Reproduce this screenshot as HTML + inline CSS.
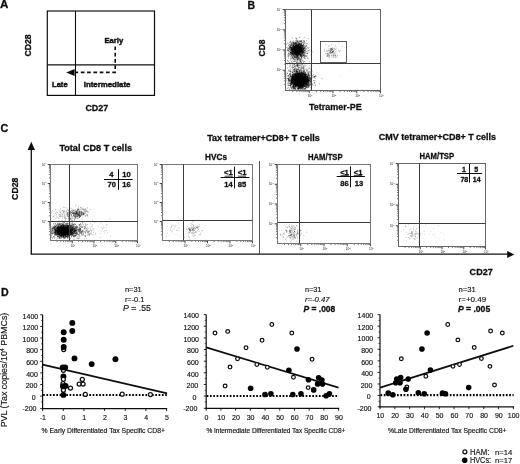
<!DOCTYPE html>
<html><head><meta charset="utf-8"><title>Figure</title>
<style>
html,body{margin:0;padding:0;background:#fff;}
body{width:520px;height:464px;overflow:hidden;font-family:"Liberation Sans",sans-serif;}
svg{display:block;font-family:"Liberation Sans",sans-serif;will-change:transform;transform:translateZ(0);}
text{fill:#111;}
</style></head><body>
<svg width="520" height="464" viewBox="0 0 520 464">
<defs><filter id="soft" x="0" y="0" width="520" height="464" filterUnits="userSpaceOnUse"><feGaussianBlur stdDeviation="0.35"/></filter></defs>
<g filter="url(#soft)">
<rect x="-5" y="-5" width="530" height="474" fill="#fff"/>
<text x="0.10" y="8.30" font-size="11.6" font-weight="bold" stroke="#111" stroke-width="0.3">A</text>
<rect x="47.30" y="11.00" width="107.20" height="84.40" fill="none" stroke="#111" stroke-width="1.2"/>
<line x1="75.50" y1="11.00" x2="75.50" y2="95.40" stroke="#111" stroke-width="1.1"/>
<line x1="47.30" y1="64.90" x2="154.50" y2="64.90" stroke="#111" stroke-width="1.1"/>
<text x="104.40" y="42.90" font-size="8.0" font-weight="bold" textLength="18.80" lengthAdjust="spacingAndGlyphs" stroke="#111" stroke-width="0.45">Early</text>
<text x="52.00" y="87.40" font-size="8.0" font-weight="bold" textLength="15.60" lengthAdjust="spacingAndGlyphs" stroke="#111" stroke-width="0.45">Late</text>
<text x="83.80" y="87.40" font-size="8.0" font-weight="bold" textLength="46.60" lengthAdjust="spacingAndGlyphs" stroke="#111" stroke-width="0.45">Intermediate</text>
<text x="85.40" y="110.80" font-size="9.4" font-weight="bold" textLength="22.80" lengthAdjust="spacingAndGlyphs" stroke="#111" stroke-width="0.3">CD27</text>
<text x="31.50" y="56.60" font-size="9.4" font-weight="bold" textLength="22.30" lengthAdjust="spacingAndGlyphs" transform="rotate(-90 31.50 56.60)" stroke="#111" stroke-width="0.3">CD28</text>
<path d="M115.2 46.4 V72.4 H75.8" fill="none" stroke="#111" stroke-width="1.6" stroke-dasharray="3.7 2.6"/>
<path d="M66.2 72.5 L74.6 69.0 L74.6 76.0 Z" fill="#111"/>
<text x="247.60" y="8.80" font-size="10.4" font-weight="bold" stroke="#111" stroke-width="0.3">B</text>
<path d="M295.7 51.3h0.8M295.8 48.6h0.8M293.4 48.9h0.8M300.4 51.0h0.8M300.1 50.4h0.8M297.9 50.2h0.8M290.9 52.4h0.8M298.3 51.2h0.8M290.8 43.8h0.8M293.6 48.1h0.8M297.6 49.4h0.8M298.4 47.5h0.8M297.6 50.9h0.8M294.4 55.3h0.8M298.5 53.6h0.8M294.5 47.2h0.8M295.4 49.2h0.8M298.7 50.4h0.8M295.1 46.4h0.8M294.8 53.6h0.8M293.9 50.4h0.8M298.1 44.7h0.8M296.8 53.9h0.8M289.8 48.5h0.8M296.2 46.9h0.8M298.3 49.4h0.8M291.6 52.3h0.8M298.9 52.7h0.8M301.5 50.8h0.8M297.0 45.3h0.8M298.7 47.6h0.8M295.1 45.4h0.8M293.3 47.8h0.8M301.0 42.9h0.8M291.6 50.4h0.8M301.5 51.5h0.8M290.1 41.3h0.8M297.8 47.2h0.8M292.8 52.8h0.8M300.3 50.1h0.8M297.4 51.0h0.8M302.0 51.6h0.8M298.4 51.4h0.8M291.3 53.8h0.8M299.8 51.3h0.8M289.9 47.5h0.8M299.5 43.6h0.8M296.0 53.0h0.8M292.1 54.9h0.8M298.5 49.1h0.8M297.7 51.7h0.8M297.0 53.4h0.8M294.4 48.2h0.8M300.1 49.7h0.8M293.6 52.7h0.8M301.6 48.1h0.8M291.9 49.2h0.8M296.1 48.6h0.8M301.4 46.2h0.8M300.9 45.4h0.8M293.9 51.7h0.8M300.4 52.4h0.8M297.8 50.1h0.8M297.1 51.5h0.8M296.0 50.5h0.8M298.5 49.6h0.8M299.2 51.5h0.8M303.4 50.7h0.8M295.1 48.4h0.8M296.6 52.6h0.8M295.5 50.9h0.8M302.8 41.1h0.8M292.8 50.4h0.8M298.0 50.4h0.8M295.1 51.8h0.8M297.6 47.9h0.8M304.9 50.8h0.8M294.7 49.3h0.8M295.8 49.4h0.8M287.3 48.0h0.8M300.0 45.7h0.8M296.4 52.7h0.8M299.5 54.5h0.8M290.8 48.4h0.8M295.4 51.7h0.8M300.3 40.7h0.8M300.3 44.8h0.8M298.9 44.7h0.8M297.2 53.5h0.8M296.1 50.2h0.8M299.3 50.1h0.8M296.3 54.7h0.8M300.2 48.6h0.8M305.9 45.8h0.8M299.7 48.7h0.8M297.1 51.9h0.8M297.4 51.7h0.8M291.4 44.6h0.8M298.7 46.4h0.8M293.1 44.7h0.8M300.9 52.1h0.8M301.6 46.5h0.8M296.6 45.8h0.8M299.2 54.8h0.8M293.6 54.7h0.8M300.0 49.0h0.8M289.9 54.2h0.8M296.3 47.6h0.8M298.0 51.0h0.8M301.7 46.2h0.8M300.5 54.5h0.8M301.5 49.0h0.8M294.1 53.0h0.8M297.0 50.0h0.8M301.4 48.7h0.8M288.8 48.3h0.8M290.3 52.3h0.8M297.7 47.6h0.8M296.6 52.3h0.8M296.9 54.0h0.8M296.4 53.0h0.8M301.7 54.9h0.8M294.3 52.5h0.8M290.2 46.0h0.8M289.9 53.1h0.8M292.4 49.6h0.8M295.9 49.5h0.8M294.6 50.4h0.8M302.7 49.7h0.8M298.4 52.9h0.8M295.9 45.4h0.8M294.7 53.1h0.8M291.0 47.6h0.8M300.0 52.2h0.8M296.6 52.3h0.8M297.2 45.7h0.8M291.3 47.5h0.8M299.7 47.7h0.8M293.5 47.1h0.8M291.4 49.2h0.8M292.6 50.8h0.8M288.6 50.7h0.8M294.4 43.2h0.8M299.1 48.7h0.8M289.0 46.7h0.8M297.6 48.1h0.8M299.3 52.1h0.8M298.9 50.7h0.8M301.1 51.8h0.8M298.1 42.7h0.8M299.6 53.9h0.8M295.6 48.1h0.8M303.2 43.8h0.8M298.2 57.6h0.8M293.4 51.9h0.8M303.0 49.2h0.8M298.5 52.6h0.8M293.5 49.3h0.8M297.6 52.3h0.8M296.5 49.0h0.8M293.1 48.4h0.8M299.6 49.9h0.8M293.7 46.8h0.8M305.7 53.4h0.8M298.8 41.0h0.8M298.7 51.2h0.8M302.3 51.0h0.8M296.4 51.3h0.8M290.0 53.0h0.8M297.7 47.3h0.8M301.1 55.6h0.8M291.8 47.4h0.8M297.6 50.2h0.8M295.2 46.4h0.8M303.8 53.0h0.8M292.5 45.2h0.8M302.4 52.9h0.8M302.8 52.3h0.8M293.6 50.5h0.8M289.3 47.1h0.8M296.4 51.3h0.8M294.1 49.2h0.8M298.2 50.8h0.8M298.8 50.3h0.8M295.5 52.2h0.8M296.8 46.9h0.8M294.5 49.6h0.8M296.2 50.1h0.8M296.6 50.2h0.8M296.1 45.4h0.8M298.0 53.1h0.8M298.1 49.0h0.8M298.1 46.4h0.8M290.2 49.8h0.8M293.4 52.0h0.8M292.9 40.9h0.8M293.1 54.8h0.8M295.3 45.1h0.8M294.0 51.3h0.8M298.3 50.2h0.8M301.6 51.9h0.8M296.5 51.6h0.8M302.2 52.8h0.8M300.1 46.0h0.8M296.1 52.0h0.8M295.6 53.1h0.8M298.6 52.6h0.8M295.9 58.0h0.8M300.8 48.9h0.8M296.9 58.2h0.8M295.4 52.5h0.8M299.9 49.6h0.8M292.6 50.2h0.8M297.8 53.3h0.8M299.3 49.7h0.8M299.5 51.4h0.8M297.3 49.8h0.8M295.8 51.9h0.8M293.0 47.5h0.8M296.6 44.8h0.8M295.1 43.0h0.8M294.3 51.5h0.8M298.5 49.4h0.8M295.8 44.9h0.8M302.8 51.3h0.8M300.3 46.7h0.8M296.0 43.6h0.8M299.3 52.7h0.8M290.1 49.4h0.8M298.7 43.8h0.8M290.4 46.1h0.8M294.5 45.0h0.8M296.7 50.4h0.8M298.8 51.9h0.8M301.7 53.4h0.8M292.1 47.9h0.8M293.0 46.0h0.8M296.3 49.6h0.8M298.3 44.4h0.8M292.4 49.5h0.8M295.9 48.6h0.8M296.4 47.1h0.8M299.0 50.8h0.8M296.3 47.4h0.8M296.0 40.6h0.8M293.3 49.7h0.8M291.5 50.3h0.8M297.1 45.1h0.8M295.7 48.6h0.8M298.2 51.6h0.8M296.5 46.8h0.8M296.1 49.4h0.8M299.1 50.6h0.8M294.1 45.1h0.8M295.3 47.2h0.8M292.8 49.2h0.8M294.9 49.9h0.8M298.4 48.2h0.8M304.5 48.5h0.8M300.3 50.0h0.8M300.4 41.8h0.8M294.0 50.4h0.8M298.6 57.3h0.8M297.7 53.8h0.8M299.2 52.7h0.8M298.3 49.1h0.8M298.3 46.0h0.8M300.6 46.2h0.8M297.4 56.6h0.8M295.8 49.7h0.8M300.6 49.7h0.8M293.9 50.5h0.8M298.6 51.9h0.8M294.0 55.4h0.8M302.3 49.7h0.8M297.5 48.2h0.8M301.4 47.3h0.8M298.9 48.0h0.8M294.2 52.0h0.8M301.1 49.6h0.8M294.3 52.3h0.8M296.4 50.6h0.8M301.8 53.3h0.8M294.8 57.1h0.8M296.6 52.2h0.8M294.4 49.5h0.8M290.7 55.5h0.8M301.2 45.6h0.8M291.5 44.3h0.8M300.6 48.1h0.8M296.4 48.6h0.8M296.2 46.0h0.8M296.7 44.9h0.8M296.4 50.6h0.8M298.2 48.8h0.8M293.5 50.1h0.8M295.0 54.8h0.8M299.2 49.2h0.8M295.0 47.3h0.8M293.4 48.4h0.8M297.6 51.3h0.8M298.5 56.5h0.8M294.2 49.6h0.8M306.1 43.4h0.8M294.8 50.2h0.8M297.1 50.9h0.8M295.8 50.8h0.8M296.8 52.1h0.8M290.2 46.7h0.8M296.6 46.2h0.8M293.0 51.7h0.8M294.4 51.7h0.8M299.1 50.6h0.8M298.3 49.3h0.8M291.8 49.5h0.8M298.1 47.9h0.8M296.3 52.1h0.8M293.6 51.7h0.8M302.9 47.8h0.8M297.1 49.1h0.8M301.8 50.6h0.8M299.7 47.3h0.8M296.5 49.6h0.8M290.6 54.4h0.8M299.7 43.8h0.8M299.1 49.2h0.8M298.1 50.8h0.8M291.5 48.9h0.8M301.7 47.7h0.8M293.1 45.1h0.8M292.4 50.7h0.8M302.4 51.0h0.8M297.4 57.0h0.8M294.8 47.4h0.8M298.4 51.4h0.8M293.1 45.7h0.8M297.6 50.4h0.8M292.2 48.9h0.8M294.8 51.1h0.8M296.2 49.3h0.8M295.4 53.1h0.8M301.3 48.4h0.8M299.5 47.1h0.8M296.8 52.1h0.8M301.7 48.3h0.8M296.3 50.2h0.8M291.5 49.7h0.8M294.3 50.8h0.8M292.8 43.1h0.8M296.7 50.5h0.8M294.7 52.5h0.8M295.7 47.6h0.8M298.2 44.4h0.8M294.3 49.5h0.8M299.5 49.1h0.8M297.6 47.4h0.8M297.6 55.1h0.8M294.3 57.4h0.8M294.4 49.7h0.8M297.2 53.0h0.8M292.4 42.7h0.8M298.7 52.2h0.8M298.7 58.3h0.8M297.3 50.4h0.8M299.8 50.8h0.8M302.3 45.5h0.8M295.3 38.2h0.8M299.4 48.4h0.8M299.7 56.7h0.8M296.6 48.8h0.8M294.9 46.8h0.8M294.5 51.7h0.8M296.7 49.8h0.8M296.0 52.6h0.8M298.3 49.1h0.8M298.9 49.1h0.8M292.7 54.4h0.8M298.2 46.4h0.8M300.3 50.7h0.8M291.3 54.9h0.8M297.7 52.5h0.8M297.3 49.1h0.8M291.3 52.8h0.8M296.7 48.7h0.8M297.8 49.9h0.8M298.9 48.4h0.8M296.5 42.5h0.8M295.2 51.8h0.8M301.1 48.4h0.8M296.2 54.8h0.8M295.5 52.0h0.8M302.3 49.7h0.8M300.8 47.3h0.8M297.3 49.3h0.8M297.0 53.3h0.8M304.7 47.4h0.8M294.6 51.2h0.8M293.0 51.2h0.8M298.5 48.7h0.8M298.4 44.5h0.8M299.2 44.5h0.8M294.2 47.8h0.8M295.2 52.4h0.8M296.9 48.3h0.8M298.4 54.8h0.8M296.6 50.8h0.8M300.8 50.5h0.8M292.2 57.8h0.8M304.1 43.0h0.8M296.5 51.0h0.8M299.9 51.8h0.8M295.7 46.1h0.8M297.0 53.0h0.8M292.9 46.2h0.8M296.5 43.2h0.8M295.7 48.2h0.8M298.1 47.3h0.8M293.6 48.3h0.8M296.4 47.4h0.8M296.6 52.1h0.8M300.6 55.2h0.8M293.9 48.2h0.8M288.2 55.9h0.8M294.1 49.5h0.8M298.4 45.1h0.8M298.2 49.5h0.8M290.4 50.6h0.8M300.7 43.4h0.8M299.3 50.3h0.8M298.2 51.1h0.8M301.0 48.9h0.8M299.6 48.2h0.8M299.1 46.9h0.8M296.2 55.3h0.8M298.1 49.1h0.8M292.7 47.0h0.8M297.3 52.7h0.8M298.0 51.3h0.8M296.5 54.1h0.8M295.3 47.8h0.8M299.6 49.8h0.8M295.7 47.7h0.8M295.7 51.7h0.8M297.8 45.6h0.8M298.0 50.2h0.8M293.2 52.2h0.8M295.6 48.5h0.8M299.3 54.0h0.8M294.3 51.0h0.8M293.6 57.2h0.8M294.9 53.5h0.8M294.4 52.3h0.8M304.1 41.2h0.8M295.1 51.3h0.8M296.3 47.4h0.8M303.9 49.9h0.8M291.0 52.4h0.8M290.7 53.4h0.8M294.6 50.1h0.8M300.9 50.0h0.8M291.9 44.0h0.8M300.6 52.0h0.8M293.8 52.4h0.8M298.3 51.7h0.8M288.9 48.6h0.8M299.7 52.0h0.8M299.6 41.5h0.8M297.2 51.2h0.8M305.3 46.5h0.8M295.5 49.7h0.8M299.6 48.1h0.8M300.5 47.0h0.8M297.5 47.9h0.8M297.1 47.3h0.8M291.2 53.2h0.8M297.6 47.8h0.8M297.3 52.9h0.8M293.3 49.2h0.8M298.4 51.3h0.8M295.5 42.6h0.8M300.8 50.7h0.8M296.6 48.7h0.8M297.5 48.2h0.8M293.1 47.2h0.8M294.6 47.6h0.8M292.7 51.7h0.8M292.1 51.8h0.8M293.2 50.8h0.8M301.3 50.3h0.8M294.1 49.8h0.8M297.1 43.9h0.8M294.5 50.1h0.8M295.0 49.9h0.8M299.1 52.1h0.8M299.7 51.5h0.8M295.6 49.5h0.8M295.7 48.6h0.8M296.0 43.9h0.8M295.5 49.5h0.8M293.3 49.5h0.8M298.4 49.1h0.8M303.7 41.0h0.8M295.9 43.6h0.8M299.9 58.4h0.8M288.1 50.0h0.8M298.4 48.6h0.8M298.5 42.2h0.8M299.5 50.8h0.8M296.7 47.7h0.8M298.8 48.0h0.8M297.4 47.9h0.8M289.0 49.5h0.8M297.3 52.1h0.8M293.6 49.5h0.8M298.7 50.1h0.8M300.8 56.2h0.8M293.5 43.3h0.8M299.5 54.6h0.8M299.7 52.3h0.8M294.5 47.2h0.8M299.6 46.6h0.8M290.4 46.3h0.8M305.1 55.9h0.8M294.3 47.2h0.8M297.4 47.1h0.8M301.1 49.3h0.8M292.9 53.9h0.8M294.6 50.3h0.8M296.6 48.6h0.8M297.7 47.3h0.8M290.3 42.3h0.8M292.3 47.1h0.8M296.5 49.8h0.8M298.5 50.0h0.8M293.9 47.3h0.8M289.4 49.0h0.8M298.2 51.3h0.8M296.2 49.0h0.8M299.8 49.7h0.8M299.1 51.5h0.8M297.3 53.9h0.8M294.7 48.4h0.8M293.9 47.0h0.8M301.9 55.4h0.8M296.7 51.5h0.8M300.6 52.3h0.8M300.7 45.4h0.8M294.4 51.1h0.8M301.5 49.9h0.8M293.7 48.4h0.8M294.4 46.8h0.8M301.7 47.5h0.8M296.7 56.7h0.8M300.6 50.7h0.8M294.5 51.0h0.8M302.1 51.7h0.8M300.9 49.9h0.8M298.4 48.9h0.8M298.1 53.9h0.8M291.7 49.4h0.8M297.4 47.7h0.8M295.6 52.2h0.8M303.4 51.7h0.8M297.7 44.5h0.8M303.2 49.9h0.8M296.5 45.9h0.8M296.4 46.0h0.8M296.8 51.1h0.8M296.7 50.5h0.8M293.7 54.3h0.8M294.4 43.6h0.8M296.0 47.1h0.8M293.2 48.4h0.8M297.6 45.7h0.8M296.1 54.3h0.8M298.9 49.1h0.8M297.0 49.2h0.8M296.4 52.0h0.8M296.3 41.7h0.8M296.5 46.7h0.8M298.8 47.6h0.8M297.1 56.8h0.8M293.0 45.9h0.8M291.8 41.7h0.8M290.2 50.8h0.8M294.4 43.4h0.8M291.6 51.6h0.8M294.0 48.4h0.8M297.7 54.1h0.8M303.2 53.0h0.8M297.1 50.2h0.8M302.7 54.3h0.8M295.5 51.1h0.8M297.6 49.8h0.8M294.9 45.2h0.8M294.8 44.5h0.8M300.8 51.4h0.8M292.5 54.2h0.8M299.6 43.3h0.8M302.9 52.3h0.8M303.6 45.5h0.8M298.4 51.0h0.8M297.3 50.2h0.8M300.2 44.7h0.8M292.4 45.0h0.8M294.7 47.6h0.8M297.8 50.5h0.8M296.7 47.4h0.8M295.1 52.7h0.8M299.2 49.9h0.8M295.5 54.7h0.8M294.6 51.7h0.8M300.5 48.7h0.8M299.4 45.9h0.8M300.0 50.3h0.8M291.2 51.8h0.8M293.6 53.8h0.8M294.3 49.1h0.8M297.6 48.5h0.8M297.5 47.8h0.8M298.9 49.6h0.8M297.3 40.5h0.8M300.5 49.7h0.8M290.5 49.9h0.8M298.2 53.1h0.8M292.9 54.7h0.8M296.1 57.5h0.8M296.1 51.8h0.8M295.4 45.9h0.8M300.3 52.6h0.8M301.8 52.4h0.8M294.7 44.1h0.8M294.4 47.4h0.8M293.8 51.5h0.8M297.7 48.7h0.8M297.2 49.1h0.8M297.3 52.1h0.8M299.9 47.3h0.8M291.5 54.3h0.8M297.0 53.2h0.8M291.0 48.5h0.8M296.7 44.8h0.8M294.8 52.0h0.8M300.3 54.9h0.8M293.7 45.0h0.8M298.4 52.7h0.8M297.3 45.3h0.8M299.3 52.2h0.8M298.5 48.0h0.8M297.6 52.2h0.8M294.7 43.5h0.8M297.7 51.2h0.8M296.6 52.5h0.8M294.6 49.3h0.8M295.6 51.5h0.8M302.0 48.8h0.8M303.6 54.6h0.8M299.3 51.5h0.8M302.6 49.0h0.8M296.2 46.1h0.8M298.2 54.0h0.8M298.4 51.0h0.8M295.9 50.2h0.8M291.8 53.1h0.8M295.2 46.0h0.8M294.0 46.9h0.8M299.5 53.1h0.8M292.0 52.7h0.8M299.6 47.7h0.8M291.5 47.1h0.8M294.4 50.7h0.8M295.4 42.9h0.8M297.4 44.5h0.8M299.7 45.6h0.8M294.2 46.8h0.8M294.8 53.9h0.8M299.5 51.6h0.8M297.7 44.5h0.8M294.8 47.8h0.8M293.3 51.3h0.8M294.1 47.3h0.8M293.0 42.8h0.8M298.6 54.0h0.8M297.2 46.4h0.8M287.4 50.2h0.8M300.7 50.6h0.8M299.8 54.5h0.8M300.4 48.1h0.8M300.2 52.2h0.8M291.4 48.3h0.8M291.8 49.2h0.8M298.6 46.1h0.8M289.6 53.9h0.8M297.9 54.5h0.8M292.1 53.1h0.8M303.7 56.2h0.8M295.9 50.5h0.8M296.1 52.9h0.8M300.1 49.9h0.8M292.0 52.0h0.8M295.0 51.7h0.8M297.5 55.0h0.8M300.5 48.1h0.8M297.8 55.4h0.8M294.8 51.0h0.8M300.6 53.7h0.8M298.4 45.2h0.8M292.3 50.4h0.8M297.9 58.0h0.8M293.7 53.4h0.8M299.2 44.1h0.8M293.8 50.1h0.8M294.9 49.1h0.8M298.2 46.9h0.8M298.2 47.5h0.8M294.7 51.4h0.8M294.7 50.5h0.8M302.0 49.7h0.8M296.1 52.0h0.8M295.4 53.2h0.8M292.2 51.6h0.8M294.9 47.0h0.8M302.6 46.8h0.8M302.6 51.8h0.8M301.5 46.4h0.8M300.7 54.4h0.8M296.2 49.2h0.8M305.0 50.2h0.8M295.2 47.5h0.8M298.1 50.7h0.8M297.2 55.3h0.8M295.5 51.2h0.8M301.6 46.3h0.8M300.1 55.6h0.8M292.0 46.0h0.8M293.1 43.5h0.8M298.1 43.5h0.8M298.3 54.4h0.8M291.1 48.6h0.8M290.1 52.2h0.8M294.1 48.7h0.8M296.8 51.4h0.8M295.4 49.6h0.8M294.7 50.0h0.8M292.6 49.8h0.8M290.0 48.0h0.8M303.1 49.9h0.8M292.3 50.4h0.8M293.3 44.2h0.8M294.1 52.0h0.8M297.9 49.3h0.8M293.4 46.0h0.8M301.2 50.4h0.8M293.4 42.6h0.8M291.9 57.8h0.8M292.7 49.3h0.8M297.3 49.1h0.8M295.7 45.1h0.8M293.0 55.2h0.8M294.0 52.4h0.8M290.8 48.7h0.8M297.5 53.0h0.8M292.8 51.6h0.8M297.9 47.2h0.8M298.2 46.6h0.8M293.9 49.5h0.8M287.4 49.2h0.8M293.2 44.8h0.8M295.2 52.1h0.8M295.2 53.8h0.8M292.7 45.3h0.8M301.9 50.9h0.8M299.8 46.9h0.8M299.3 50.5h0.8M298.8 49.7h0.8M300.7 47.5h0.8M293.3 44.7h0.8M300.5 47.2h0.8M293.1 46.5h0.8M295.1 45.4h0.8M295.6 47.5h0.8M294.7 46.4h0.8M296.7 48.1h0.8M297.0 50.4h0.8M297.8 42.4h0.8M294.8 47.0h0.8M299.2 44.4h0.8M294.2 48.6h0.8M295.5 52.9h0.8M295.1 52.8h0.8M291.6 43.6h0.8M300.7 51.0h0.8M298.3 50.0h0.8M298.2 45.6h0.8M299.8 47.8h0.8M300.0 49.9h0.8M289.9 45.4h0.8M300.4 49.1h0.8M295.3 50.4h0.8M295.2 47.8h0.8M296.9 50.1h0.8M301.8 49.8h0.8M303.0 55.5h0.8M302.4 53.1h0.8M297.0 50.1h0.8M296.1 47.2h0.8M296.4 47.5h0.8M302.2 51.4h0.8M295.1 43.3h0.8M296.4 48.2h0.8M292.9 45.8h0.8M288.9 51.5h0.8M296.4 58.1h0.8M296.5 49.1h0.8M301.5 50.0h0.8M297.2 48.4h0.8M294.5 54.5h0.8M300.0 55.3h0.8M295.4 49.7h0.8M293.6 52.8h0.8M291.9 51.5h0.8M300.3 54.3h0.8M293.4 53.2h0.8M294.2 47.1h0.8M292.1 53.4h0.8M302.2 47.6h0.8M294.0 48.5h0.8M305.1 52.9h0.8M294.8 43.7h0.8M294.3 53.5h0.8M303.0 48.7h0.8M294.2 47.9h0.8M290.2 52.6h0.8M292.9 53.1h0.8M290.8 45.4h0.8M297.6 47.1h0.8M299.3 49.6h0.8M292.6 51.7h0.8M299.5 43.3h0.8M302.8 51.2h0.8M299.2 43.5h0.8M294.2 48.4h0.8M300.3 44.8h0.8M293.6 42.9h0.8M295.8 50.7h0.8M290.9 47.6h0.8M298.3 54.8h0.8M298.9 48.6h0.8M292.6 46.5h0.8M294.3 50.1h0.8M296.4 55.1h0.8M297.6 46.1h0.8M301.9 52.7h0.8M296.9 47.2h0.8M290.2 46.2h0.8M299.7 47.0h0.8M292.1 50.2h0.8M297.4 51.6h0.8M298.8 54.2h0.8M293.7 52.8h0.8M293.2 51.9h0.8M297.2 50.4h0.8M299.9 49.5h0.8M300.4 52.5h0.8M297.1 47.7h0.8M294.0 47.9h0.8M295.9 49.5h0.8M306.7 51.7h0.8M299.2 46.8h0.8M294.2 48.5h0.8M297.3 46.2h0.8M302.1 47.7h0.8M300.3 41.9h0.8M296.6 50.5h0.8M297.3 51.6h0.8M297.6 50.1h0.8M290.2 47.2h0.8M288.6 51.7h0.8M297.6 49.0h0.8M293.8 47.7h0.8M302.9 55.3h0.8M296.4 53.9h0.8M291.2 43.2h0.8M295.0 46.7h0.8M294.7 50.2h0.8M306.9 47.4h0.8M296.8 50.5h0.8M296.5 52.7h0.8M302.6 45.5h0.8M297.1 48.7h0.8M297.8 44.5h0.8M290.6 42.0h0.8M298.4 50.2h0.8M296.9 41.8h0.8M295.3 47.1h0.8M291.8 46.6h0.8M299.0 51.4h0.8M296.5 51.3h0.8M294.5 49.8h0.8M296.7 51.4h0.8" stroke="#000" stroke-width="0.8" stroke-opacity="0.6" fill="none"/>
<path d="M297.0 49.3h0.8M296.6 47.0h0.8M308.5 52.4h0.8M299.4 60.5h0.8M304.3 42.8h0.8M300.8 53.9h0.8M306.7 56.1h0.8M301.2 44.6h0.8M292.9 51.2h0.8M299.8 45.3h0.8M295.4 48.2h0.8M297.6 51.5h0.8M295.9 44.3h0.8M303.5 57.3h0.8M296.8 54.7h0.8M299.5 53.0h0.8M299.7 46.5h0.8M300.2 54.6h0.8M292.8 59.0h0.8M307.7 58.4h0.8M307.2 53.4h0.8M295.6 47.2h0.8M293.2 50.5h0.8M297.1 53.1h0.8M287.2 60.6h0.8M308.7 49.9h0.8M300.7 52.2h0.8M298.7 49.0h0.8M296.7 46.2h0.8M298.2 49.9h0.8M298.9 46.1h0.8M297.5 50.2h0.8M300.3 45.1h0.8M299.4 54.5h0.8M300.3 48.3h0.8M294.8 48.9h0.8M300.9 57.1h0.8M296.5 47.0h0.8M299.2 50.9h0.8M292.8 46.6h0.8M296.8 53.1h0.8M291.3 45.3h0.8M299.8 44.4h0.8M297.8 51.6h0.8M296.7 45.3h0.8M297.0 48.5h0.8M299.0 46.1h0.8M302.8 42.3h0.8M296.4 50.0h0.8M302.1 47.2h0.8M300.0 47.4h0.8M301.0 58.0h0.8M295.3 52.0h0.8M292.7 54.5h0.8M303.4 50.2h0.8M291.6 51.9h0.8M303.0 55.0h0.8M301.4 41.6h0.8M293.9 56.5h0.8M291.2 55.2h0.8M306.7 53.5h0.8M302.9 48.5h0.8M291.2 49.5h0.8M296.3 49.8h0.8M300.8 49.3h0.8M298.3 52.0h0.8M297.3 58.5h0.8M299.5 50.4h0.8M296.3 47.1h0.8M304.0 50.7h0.8M291.9 47.4h0.8M296.6 48.0h0.8M302.7 44.7h0.8M299.8 50.7h0.8M291.4 50.2h0.8M296.8 52.3h0.8M295.0 51.4h0.8M289.0 45.0h0.8M301.2 54.8h0.8M297.2 47.2h0.8M302.7 40.4h0.8M293.3 53.1h0.8M300.6 45.3h0.8M287.9 56.7h0.8M298.1 45.9h0.8M297.6 54.1h0.8M301.0 40.4h0.8M301.2 41.8h0.8M303.0 51.8h0.8M308.6 47.2h0.8M297.3 54.8h0.8M294.1 46.8h0.8M295.4 49.7h0.8M291.9 52.2h0.8M300.0 50.3h0.8M305.8 48.5h0.8M303.8 47.5h0.8M301.1 41.1h0.8M298.3 49.2h0.8M294.8 47.2h0.8M295.6 46.7h0.8M286.3 47.3h0.8M294.6 47.6h0.8M292.0 49.4h0.8M301.2 48.8h0.8M294.8 56.2h0.8M302.2 54.2h0.8M303.1 48.5h0.8M296.7 55.1h0.8M294.5 49.4h0.8M299.2 51.7h0.8M295.9 54.5h0.8M296.4 53.3h0.8M302.7 53.0h0.8M301.0 44.7h0.8M290.7 47.2h0.8M299.7 56.9h0.8M291.2 51.4h0.8M293.0 46.6h0.8M295.9 53.2h0.8M298.4 55.4h0.8M292.4 54.1h0.8M302.0 50.3h0.8M299.7 47.4h0.8M291.9 48.1h0.8M294.1 63.3h0.8M294.9 57.6h0.8M298.3 51.4h0.8M301.0 46.4h0.8M301.9 51.7h0.8M289.7 52.8h0.8M300.1 52.1h0.8M305.2 48.1h0.8M299.9 53.4h0.8M292.8 55.5h0.8M290.0 44.0h0.8M299.9 45.0h0.8M296.7 42.4h0.8M297.6 44.8h0.8M299.0 43.0h0.8M299.5 48.8h0.8M297.6 49.7h0.8M298.0 43.9h0.8M292.6 47.9h0.8M299.4 40.9h0.8M293.5 47.2h0.8M292.0 51.5h0.8M296.6 46.2h0.8M292.4 53.7h0.8M294.0 52.7h0.8M299.5 41.3h0.8M291.9 50.0h0.8M299.0 53.6h0.8M301.3 54.8h0.8M295.4 49.0h0.8M301.2 48.0h0.8M302.6 42.7h0.8M300.6 49.2h0.8M287.5 54.5h0.8M298.9 50.1h0.8M291.9 47.9h0.8M304.9 46.2h0.8M291.3 49.4h0.8M295.3 45.8h0.8M293.1 54.8h0.8M290.1 59.0h0.8M294.6 45.0h0.8M301.2 52.6h0.8M292.1 53.4h0.8M288.1 45.8h0.8M302.9 48.8h0.8M290.8 52.4h0.8M301.9 49.9h0.8M288.3 48.4h0.8M299.4 53.5h0.8M306.6 48.8h0.8M294.9 49.8h0.8M303.3 45.7h0.8M303.8 37.4h0.8M301.3 46.9h0.8M299.6 53.2h0.8M291.4 49.6h0.8M298.5 52.7h0.8M292.6 45.4h0.8M287.7 61.7h0.8M296.3 49.0h0.8M289.8 54.3h0.8M294.6 56.6h0.8M301.6 50.1h0.8M300.9 44.9h0.8M295.7 47.4h0.8M291.0 50.1h0.8M296.6 56.6h0.8M292.7 47.9h0.8M299.4 51.9h0.8M297.4 47.8h0.8M299.8 51.7h0.8M288.1 48.8h0.8M290.4 44.6h0.8M298.0 50.3h0.8M297.9 46.0h0.8M296.3 45.8h0.8M299.2 53.2h0.8M306.1 55.8h0.8M293.3 47.9h0.8M292.6 51.4h0.8M307.2 53.3h0.8M286.3 44.2h0.8M290.8 52.4h0.8M297.3 51.4h0.8M306.2 46.2h0.8M293.1 59.0h0.8M299.0 46.4h0.8M287.2 43.0h0.8M297.5 54.6h0.8M296.6 46.8h0.8M293.6 58.7h0.8M288.5 50.8h0.8M297.4 52.8h0.8M295.3 52.3h0.8M301.4 49.3h0.8M295.0 49.1h0.8M292.5 49.0h0.8M295.8 51.0h0.8M304.0 56.0h0.8M295.1 52.8h0.8M298.8 53.5h0.8M297.4 51.2h0.8M295.0 46.4h0.8M301.7 56.0h0.8M300.6 52.0h0.8M298.6 47.9h0.8M288.4 53.1h0.8M298.3 47.5h0.8M292.5 55.9h0.8M288.3 58.1h0.8M300.5 60.9h0.8M293.7 49.9h0.8M294.8 50.7h0.8M296.3 46.6h0.8M302.7 46.4h0.8M294.8 52.6h0.8M294.6 48.0h0.8M299.1 48.3h0.8M291.1 49.5h0.8M296.2 57.8h0.8M291.8 54.5h0.8M293.4 48.4h0.8M295.7 51.2h0.8M301.6 58.0h0.8M294.1 56.1h0.8M302.3 53.7h0.8M293.5 54.1h0.8M296.8 51.6h0.8M296.0 53.1h0.8M302.9 55.2h0.8M296.3 54.6h0.8M304.6 45.7h0.8M304.7 43.9h0.8M300.0 52.7h0.8M304.7 51.3h0.8M294.9 46.3h0.8M291.0 53.5h0.8M296.1 46.7h0.8M300.0 46.5h0.8M295.1 47.9h0.8M305.6 56.7h0.8M296.5 42.8h0.8M298.7 50.3h0.8M299.0 52.6h0.8M295.7 54.3h0.8M301.5 51.0h0.8M295.3 47.8h0.8M300.8 44.9h0.8M296.5 46.6h0.8M290.3 52.8h0.8M297.2 50.2h0.8M301.7 43.1h0.8M297.0 51.3h0.8M301.5 45.0h0.8M300.9 51.0h0.8M304.1 55.2h0.8M300.0 59.9h0.8M297.3 48.0h0.8M295.6 45.7h0.8M297.2 41.4h0.8M296.9 52.0h0.8M302.3 48.4h0.8M304.2 47.0h0.8M296.6 41.4h0.8M293.5 46.4h0.8M304.6 52.4h0.8M291.9 52.4h0.8M299.7 49.0h0.8M297.4 48.6h0.8M294.7 42.0h0.8M296.9 55.8h0.8M304.3 48.7h0.8M293.7 49.0h0.8M301.7 51.6h0.8M294.5 51.6h0.8M296.3 52.3h0.8M295.3 43.4h0.8M297.6 53.4h0.8M291.9 49.5h0.8M301.6 48.3h0.8M294.1 59.1h0.8M301.3 54.6h0.8M292.7 57.3h0.8M289.2 47.7h0.8M300.9 56.0h0.8M292.8 47.0h0.8M298.3 41.4h0.8M300.4 52.5h0.8M295.1 52.4h0.8M301.1 51.4h0.8M299.8 56.8h0.8M295.0 50.7h0.8M294.8 54.6h0.8M295.3 52.1h0.8M298.0 50.3h0.8M305.6 49.6h0.8M304.2 53.7h0.8M303.7 49.3h0.8M301.8 53.4h0.8M294.3 51.2h0.8M296.7 49.8h0.8M303.6 46.8h0.8M289.2 42.3h0.8M295.1 47.1h0.8M297.4 52.5h0.8M305.8 51.4h0.8M299.5 46.7h0.8M300.1 56.0h0.8M303.8 41.3h0.8M301.6 57.0h0.8M301.3 43.4h0.8M295.8 52.6h0.8M299.3 46.4h0.8M293.0 54.3h0.8M290.9 56.4h0.8M297.4 51.3h0.8M290.9 47.4h0.8M300.6 43.5h0.8M307.3 43.8h0.8M291.4 50.2h0.8M299.6 53.2h0.8M295.5 49.1h0.8M296.2 47.5h0.8M298.5 50.7h0.8M294.3 51.1h0.8M297.2 49.7h0.8M302.6 42.4h0.8M298.5 45.3h0.8M295.8 56.6h0.8M292.1 49.6h0.8M294.5 54.2h0.8M292.6 42.6h0.8M299.8 48.4h0.8M295.8 54.8h0.8M293.0 48.4h0.8M298.0 51.8h0.8M294.8 54.6h0.8M308.1 48.2h0.8M306.3 40.7h0.8M304.1 48.5h0.8M298.0 48.5h0.8M294.2 44.4h0.8M295.4 55.7h0.8M302.8 48.5h0.8M294.8 46.9h0.8M291.5 58.0h0.8M300.5 50.5h0.8M294.9 45.5h0.8M303.6 53.4h0.8M292.7 54.4h0.8M292.0 52.8h0.8M292.7 48.2h0.8M299.7 51.9h0.8M302.2 46.3h0.8M304.9 55.9h0.8M297.3 52.1h0.8M293.6 49.3h0.8M291.0 50.4h0.8M298.3 55.9h0.8M301.8 53.6h0.8M295.6 49.0h0.8M295.7 51.0h0.8M288.0 53.4h0.8M289.8 47.7h0.8M297.4 47.7h0.8M305.3 49.6h0.8M304.8 55.2h0.8M294.9 51.8h0.8M303.5 48.5h0.8M297.7 47.5h0.8M297.6 48.4h0.8M297.7 54.4h0.8M304.0 50.6h0.8M298.3 53.8h0.8M295.9 45.3h0.8M302.6 45.9h0.8M301.8 45.7h0.8M306.1 45.4h0.8M301.4 56.6h0.8M292.7 56.6h0.8M293.3 42.2h0.8M300.8 53.1h0.8M296.3 38.8h0.8M297.0 48.6h0.8M295.5 48.7h0.8M288.7 47.5h0.8M305.9 56.8h0.8M295.6 46.9h0.8M299.2 54.7h0.8M300.8 44.8h0.8M298.1 50.6h0.8M304.2 55.3h0.8M299.8 55.4h0.8M295.4 56.8h0.8M295.3 51.7h0.8M301.7 46.0h0.8M293.9 42.2h0.8M298.1 49.8h0.8M295.7 52.2h0.8M287.1 49.9h0.8M297.7 48.8h0.8M301.1 57.7h0.8M295.2 45.9h0.8M294.4 50.4h0.8M300.1 46.2h0.8M302.1 45.5h0.8M301.3 51.9h0.8M299.5 59.5h0.8M296.0 49.3h0.8M299.6 53.8h0.8M290.9 51.2h0.8M293.7 52.8h0.8M303.9 50.2h0.8M296.8 50.8h0.8M300.0 50.7h0.8M295.4 46.8h0.8M296.4 55.4h0.8M296.8 56.0h0.8M298.6 49.9h0.8M289.3 47.1h0.8M303.3 44.3h0.8M292.5 45.2h0.8M294.7 52.8h0.8M300.2 41.0h0.8M304.3 47.4h0.8M294.5 57.4h0.8M296.9 44.5h0.8M294.2 46.8h0.8M292.5 48.5h0.8M301.5 51.5h0.8M290.7 62.3h0.8M292.5 50.5h0.8M297.5 53.4h0.8M295.7 52.0h0.8M307.4 50.4h0.8M292.1 51.5h0.8M293.4 48.4h0.8M298.2 51.5h0.8M295.9 53.7h0.8M296.4 44.2h0.8M301.5 48.4h0.8M303.1 47.1h0.8M300.0 51.4h0.8M291.9 56.2h0.8M288.2 54.0h0.8M302.5 52.2h0.8M300.5 47.8h0.8M297.2 51.0h0.8M299.3 53.1h0.8M296.3 46.9h0.8M294.6 51.8h0.8M289.3 44.5h0.8M295.3 47.6h0.8M296.0 38.2h0.8M295.7 48.9h0.8M301.0 41.3h0.8M295.8 52.1h0.8M299.6 55.3h0.8M302.4 45.4h0.8M300.4 48.5h0.8M293.4 56.8h0.8M294.3 46.2h0.8M295.3 46.2h0.8M302.1 51.7h0.8M304.0 51.8h0.8M294.3 54.6h0.8M294.2 48.0h0.8M296.5 50.2h0.8M303.0 47.3h0.8M299.0 49.9h0.8M291.2 45.2h0.8M296.2 51.8h0.8M298.8 52.1h0.8M297.5 48.0h0.8M299.4 45.6h0.8M290.8 48.5h0.8M290.4 47.7h0.8M293.7 47.5h0.8M297.1 46.5h0.8M295.3 42.4h0.8M298.0 46.1h0.8M299.2 37.5h0.8M293.4 51.1h0.8M297.8 50.5h0.8M290.1 51.0h0.8M298.0 45.7h0.8M300.9 49.8h0.8M297.4 48.0h0.8M299.9 50.4h0.8M302.8 52.0h0.8M294.3 49.0h0.8M301.7 48.4h0.8M299.1 52.3h0.8M296.4 39.7h0.8M297.9 51.0h0.8M298.0 46.6h0.8M303.1 49.4h0.8M294.3 46.8h0.8M299.0 45.1h0.8M292.5 58.9h0.8M303.6 54.7h0.8M303.9 52.6h0.8M289.2 55.3h0.8M303.3 52.2h0.8M287.8 55.5h0.8M303.9 47.8h0.8M297.9 53.5h0.8M296.9 54.9h0.8M297.7 53.1h0.8M297.7 43.4h0.8M292.5 64.1h0.8M298.7 55.8h0.8M302.8 57.6h0.8M300.0 47.3h0.8M297.4 41.4h0.8M296.4 54.0h0.8M286.8 50.9h0.8M301.3 55.9h0.8M292.8 47.1h0.8M288.2 45.5h0.8M299.9 59.2h0.8M291.7 56.2h0.8M299.4 47.8h0.8M307.9 38.7h0.8M297.0 51.0h0.8M307.6 58.0h0.8M308.3 50.6h0.8M302.1 56.1h0.8M299.8 51.6h0.8M296.4 48.2h0.8M291.3 58.7h0.8M295.1 40.7h0.8M298.6 49.8h0.8M298.2 58.1h0.8M296.8 48.8h0.8M293.7 49.9h0.8M295.2 50.9h0.8M312.5 51.8h0.8M293.1 58.6h0.8M301.5 53.7h0.8M300.8 53.7h0.8M300.6 56.3h0.8M302.2 56.0h0.8M294.9 50.0h0.8M293.8 54.3h0.8M301.3 47.9h0.8M300.1 61.8h0.8M303.3 45.0h0.8M296.9 52.8h0.8M297.1 51.7h0.8M303.0 51.5h0.8M292.0 53.2h0.8M296.8 50.5h0.8M294.5 43.8h0.8M291.2 48.4h0.8M292.1 37.8h0.8M302.9 44.8h0.8M293.8 52.4h0.8M293.6 53.0h0.8M295.0 51.4h0.8M297.8 50.0h0.8M288.4 43.4h0.8M297.1 56.3h0.8" stroke="#000" stroke-width="0.8" stroke-opacity="0.5" fill="none"/>
<path d="M297.1 82.3h0.8M300.3 82.1h0.8M304.1 74.8h0.8M300.9 79.6h0.8M298.2 77.1h0.8M296.0 76.5h0.8M294.6 89.6h0.8M307.4 80.3h0.8M303.0 76.7h0.8M286.9 73.6h0.8M300.2 85.6h0.8M299.4 76.6h0.8M298.5 76.6h0.8M293.2 79.4h0.8M297.8 77.3h0.8M295.5 76.9h0.8M300.7 85.5h0.8M298.6 88.6h0.8M292.2 81.3h0.8M294.3 79.7h0.8M300.1 82.4h0.8M304.8 78.2h0.8M293.9 79.6h0.8M300.9 77.7h0.8M303.7 86.5h0.8M293.1 81.6h0.8M304.3 73.2h0.8M300.5 79.5h0.8M293.1 85.2h0.8M300.6 78.5h0.8M301.6 82.7h0.8M303.1 82.4h0.8M301.5 75.9h0.8M297.7 80.8h0.8M286.9 88.2h0.8M297.9 76.4h0.8M291.3 81.2h0.8M299.7 78.1h0.8M297.7 77.0h0.8M296.2 79.9h0.8M296.7 82.8h0.8M298.9 80.8h0.8M301.5 85.0h0.8M302.4 81.1h0.8M298.9 77.3h0.8M298.0 82.8h0.8M300.6 78.9h0.8M293.5 74.6h0.8M301.1 84.1h0.8M301.3 75.2h0.8M298.6 81.1h0.8M295.4 81.6h0.8M298.7 77.2h0.8M293.9 83.3h0.8M301.2 77.0h0.8M295.0 83.6h0.8M302.3 79.2h0.8M306.9 79.2h0.8M294.8 84.3h0.8M298.7 81.6h0.8M299.8 76.6h0.8M294.2 79.6h0.8M306.0 76.6h0.8M305.8 81.1h0.8M294.5 81.3h0.8M302.2 77.0h0.8M289.9 81.6h0.8M294.5 81.9h0.8M290.9 79.8h0.8M295.9 74.8h0.8M298.5 80.9h0.8M297.1 75.9h0.8M300.6 73.8h0.8M302.0 82.1h0.8M307.3 83.6h0.8M301.2 81.3h0.8M299.7 75.4h0.8M306.3 82.2h0.8M298.3 76.1h0.8M306.4 82.3h0.8M294.2 82.8h0.8M308.3 80.2h0.8M301.4 78.8h0.8M296.7 84.3h0.8M313.7 80.7h0.8M299.0 83.2h0.8M298.2 83.0h0.8M303.4 76.5h0.8M294.7 80.0h0.8M303.4 81.3h0.8M305.3 75.2h0.8M301.9 78.0h0.8M300.1 81.5h0.8M295.2 79.5h0.8M294.3 81.3h0.8M295.7 78.5h0.8M300.6 77.9h0.8M304.8 78.0h0.8M303.5 81.3h0.8M294.9 79.5h0.8M295.8 79.0h0.8M298.4 87.0h0.8M297.7 86.1h0.8M301.6 75.5h0.8M289.1 82.8h0.8M290.5 82.9h0.8M304.3 81.7h0.8M298.6 79.4h0.8M300.8 79.2h0.8M297.2 78.9h0.8M304.9 78.0h0.8M301.3 76.1h0.8M296.4 75.2h0.8M298.7 82.8h0.8M301.0 78.5h0.8M302.4 79.0h0.8M301.3 81.3h0.8M302.1 71.2h0.8M293.7 83.1h0.8M299.1 88.6h0.8M298.5 78.3h0.8M306.4 82.3h0.8M308.2 82.2h0.8M298.7 83.0h0.8M296.0 78.7h0.8M297.1 79.5h0.8M303.1 78.5h0.8M301.1 78.5h0.8M303.6 70.2h0.8M298.7 80.9h0.8M294.7 84.0h0.8M300.6 85.0h0.8M304.0 82.7h0.8M298.9 76.3h0.8M298.6 78.6h0.8M300.7 78.6h0.8M313.5 74.4h0.8M304.9 78.6h0.8M298.5 83.7h0.8M299.6 75.8h0.8M301.5 79.6h0.8M290.3 81.0h0.8M294.8 77.6h0.8M301.8 81.4h0.8M298.3 88.3h0.8M301.5 78.0h0.8M300.7 79.9h0.8M289.6 74.5h0.8M293.3 87.9h0.8M298.8 79.3h0.8M297.0 83.9h0.8M299.7 86.6h0.8M303.2 86.3h0.8M299.1 81.7h0.8M297.6 79.7h0.8M291.8 78.2h0.8M295.3 77.9h0.8M305.1 81.3h0.8M305.2 83.4h0.8M303.8 84.0h0.8M296.9 83.2h0.8M298.1 78.4h0.8M305.0 88.2h0.8M295.2 86.7h0.8M303.4 77.2h0.8M300.8 81.7h0.8M301.3 79.0h0.8M293.8 80.4h0.8M303.5 83.2h0.8M302.6 84.3h0.8M295.1 80.1h0.8M301.1 84.0h0.8M300.3 82.2h0.8M300.2 88.0h0.8M289.7 80.2h0.8M310.8 81.2h0.8M291.3 80.8h0.8M293.1 77.8h0.8M300.6 86.6h0.8M301.7 82.7h0.8M304.2 81.0h0.8M295.7 79.9h0.8M301.1 79.3h0.8M296.6 79.0h0.8M292.8 76.6h0.8M299.2 79.0h0.8M299.8 85.4h0.8M301.0 80.2h0.8M294.3 76.4h0.8M301.3 77.1h0.8M301.5 76.4h0.8M300.2 80.0h0.8M304.1 78.9h0.8M297.9 81.2h0.8M299.8 86.5h0.8M298.4 78.3h0.8M298.2 82.0h0.8M300.7 82.8h0.8M293.3 89.4h0.8M307.9 80.2h0.8M294.1 80.9h0.8M301.5 72.1h0.8M299.7 74.9h0.8M301.7 85.4h0.8M304.3 74.8h0.8M305.8 83.6h0.8M298.0 82.1h0.8M306.5 79.1h0.8M299.5 78.3h0.8M304.8 72.4h0.8M306.0 76.8h0.8M303.8 74.4h0.8M295.4 78.1h0.8M303.3 74.4h0.8M302.3 78.0h0.8M305.2 79.2h0.8M301.8 79.7h0.8M307.7 79.0h0.8M299.5 87.6h0.8M300.0 82.8h0.8M296.3 81.0h0.8M289.3 80.7h0.8M296.7 74.8h0.8M293.2 84.5h0.8M301.5 74.8h0.8M307.8 77.8h0.8M297.9 81.2h0.8M294.5 74.4h0.8M296.2 84.6h0.8M303.9 74.5h0.8M305.0 80.4h0.8M301.9 80.5h0.8M301.5 76.6h0.8M295.5 77.7h0.8M297.9 82.6h0.8M294.1 86.1h0.8M296.7 78.1h0.8M302.8 81.9h0.8M298.1 76.4h0.8M295.1 74.5h0.8M304.8 84.3h0.8M308.0 82.1h0.8M301.1 83.1h0.8M303.9 79.4h0.8M301.2 88.2h0.8M291.9 75.2h0.8M295.2 83.1h0.8M305.0 79.1h0.8M302.6 80.1h0.8M301.0 78.3h0.8M299.5 80.3h0.8M304.7 88.5h0.8M291.4 82.2h0.8M299.6 83.8h0.8M304.4 83.2h0.8M303.3 76.8h0.8M291.9 86.4h0.8M305.1 76.8h0.8M305.4 82.7h0.8M288.5 83.6h0.8M295.1 84.6h0.8M296.5 77.6h0.8M292.6 79.5h0.8M304.2 77.8h0.8M291.2 88.1h0.8M308.0 82.8h0.8M297.2 75.9h0.8M292.2 82.3h0.8M305.5 76.4h0.8M299.6 79.3h0.8M298.4 82.1h0.8M309.1 78.0h0.8M303.4 84.3h0.8M298.3 79.8h0.8M293.5 84.2h0.8M297.2 77.9h0.8M299.9 77.2h0.8M294.9 79.2h0.8M306.3 79.5h0.8M302.0 74.9h0.8M290.8 87.0h0.8M297.8 74.7h0.8M299.1 82.5h0.8M291.8 77.1h0.8M300.8 76.9h0.8M303.2 83.8h0.8M301.6 78.7h0.8M299.4 78.0h0.8M299.0 81.5h0.8M298.2 83.9h0.8M311.4 78.3h0.8M301.2 83.3h0.8M302.5 79.4h0.8M297.4 84.0h0.8M302.4 82.2h0.8M296.0 82.6h0.8M303.2 79.6h0.8M302.5 88.3h0.8M291.1 82.5h0.8M294.3 75.3h0.8M298.5 82.3h0.8M299.8 76.0h0.8M293.1 78.3h0.8M299.7 77.3h0.8M292.8 86.7h0.8M295.8 79.7h0.8M297.1 78.1h0.8M299.8 79.2h0.8M302.4 75.9h0.8M292.8 87.5h0.8M299.3 83.1h0.8M305.0 82.3h0.8M299.8 74.6h0.8M292.3 83.9h0.8M302.7 82.4h0.8M292.1 72.5h0.8M294.8 76.0h0.8M300.3 76.5h0.8M306.8 78.0h0.8M297.0 83.5h0.8M301.1 77.0h0.8M303.3 87.4h0.8M294.0 79.4h0.8M294.7 73.1h0.8M302.5 82.9h0.8M304.0 81.9h0.8M290.4 80.2h0.8M296.6 76.0h0.8M294.6 83.1h0.8M298.2 87.6h0.8M301.7 73.3h0.8M303.7 84.9h0.8M299.7 75.8h0.8M307.7 75.5h0.8M299.2 73.3h0.8M293.9 74.0h0.8M304.6 84.7h0.8M297.7 75.3h0.8M299.3 81.7h0.8M292.6 76.0h0.8M299.1 82.9h0.8M299.9 82.0h0.8M293.9 71.1h0.8M301.0 76.9h0.8M299.0 78.9h0.8M301.8 77.4h0.8M306.2 80.4h0.8M302.0 82.6h0.8M304.4 81.8h0.8M291.6 78.0h0.8M308.1 82.1h0.8M302.2 82.0h0.8M296.7 77.8h0.8M296.6 84.6h0.8M301.3 86.9h0.8M301.9 87.3h0.8M301.7 75.9h0.8M307.6 81.6h0.8M305.1 81.1h0.8M298.1 80.9h0.8M294.4 75.9h0.8M295.5 78.3h0.8M293.4 79.9h0.8M301.0 87.9h0.8M308.1 80.1h0.8M303.7 79.5h0.8M301.4 80.2h0.8M297.1 80.6h0.8M292.8 81.9h0.8M298.3 76.3h0.8M297.9 82.4h0.8M296.5 82.1h0.8M302.2 86.1h0.8M294.6 79.9h0.8M302.0 85.9h0.8M300.8 83.1h0.8M292.8 78.1h0.8M307.3 79.2h0.8M309.6 77.6h0.8M298.3 74.3h0.8M302.5 81.3h0.8M308.9 80.9h0.8M298.4 75.0h0.8M299.2 83.8h0.8M303.0 84.9h0.8M303.6 80.1h0.8M302.4 80.9h0.8M293.4 86.7h0.8M301.3 76.4h0.8M301.4 81.4h0.8M304.2 85.7h0.8M306.7 76.7h0.8M291.0 81.3h0.8M301.2 81.6h0.8M294.4 78.5h0.8M300.5 83.1h0.8M309.8 81.4h0.8M296.8 71.4h0.8M304.6 79.8h0.8M299.1 76.6h0.8M303.0 73.6h0.8M300.1 80.8h0.8M301.0 85.2h0.8M299.1 80.7h0.8M303.6 74.5h0.8M298.2 80.6h0.8M304.1 77.3h0.8M303.3 81.7h0.8M292.7 74.7h0.8M292.9 80.8h0.8M300.6 83.0h0.8M303.4 78.2h0.8M304.6 83.4h0.8M301.8 82.1h0.8M293.6 81.7h0.8M294.8 75.8h0.8M298.0 80.8h0.8M299.4 79.1h0.8M294.9 81.0h0.8M296.1 75.0h0.8M300.0 85.8h0.8M297.7 76.3h0.8M306.1 86.8h0.8M298.2 79.5h0.8M300.2 84.1h0.8M301.7 73.4h0.8M294.4 75.6h0.8M301.6 80.7h0.8M308.0 79.3h0.8M301.0 80.6h0.8M300.3 89.1h0.8M300.9 85.9h0.8M305.7 78.0h0.8M302.8 78.9h0.8M300.1 80.9h0.8M299.7 78.5h0.8M306.9 79.3h0.8M302.9 86.7h0.8M302.5 84.2h0.8M306.1 84.4h0.8M307.7 74.9h0.8M308.8 80.4h0.8M291.4 77.9h0.8M293.1 80.2h0.8M292.6 76.5h0.8M301.0 80.9h0.8M295.9 79.4h0.8M299.1 80.6h0.8M299.6 79.5h0.8M303.7 74.2h0.8M297.3 80.8h0.8M297.7 78.2h0.8M297.5 81.1h0.8M305.4 79.6h0.8M298.3 81.7h0.8M298.5 73.0h0.8M300.9 78.9h0.8M296.9 82.7h0.8M299.8 78.2h0.8M289.4 73.8h0.8M299.7 79.9h0.8M301.7 81.1h0.8M297.4 75.5h0.8M294.5 79.8h0.8M294.2 83.2h0.8M293.4 73.5h0.8M298.7 73.6h0.8M307.2 76.5h0.8M299.4 79.4h0.8M295.7 73.6h0.8M290.9 83.6h0.8M304.4 88.5h0.8M292.7 82.4h0.8M299.5 83.5h0.8M297.2 83.0h0.8M303.8 82.6h0.8M306.4 79.6h0.8M306.9 77.6h0.8M307.4 69.9h0.8M299.7 77.3h0.8M299.6 84.2h0.8M303.0 80.7h0.8M307.6 74.7h0.8M295.8 86.0h0.8M301.1 72.4h0.8M301.2 75.8h0.8M306.5 84.6h0.8M297.0 85.2h0.8M295.7 83.8h0.8M302.3 79.8h0.8M292.9 79.2h0.8M288.8 78.2h0.8M290.9 84.9h0.8M295.1 71.1h0.8M302.3 81.7h0.8M297.2 88.3h0.8M303.2 80.6h0.8M296.6 69.1h0.8M301.9 83.9h0.8M296.8 74.9h0.8M299.4 73.9h0.8M299.6 83.2h0.8M306.7 81.3h0.8M300.5 83.1h0.8M306.2 79.1h0.8M293.8 77.3h0.8M293.7 76.9h0.8M299.0 81.6h0.8M300.3 80.6h0.8M297.9 81.9h0.8M303.8 83.2h0.8M306.6 79.2h0.8M298.4 86.7h0.8M300.5 81.9h0.8M298.0 84.0h0.8M297.7 76.5h0.8M299.3 78.6h0.8M303.5 78.9h0.8M300.2 79.5h0.8M301.2 77.9h0.8M304.8 74.9h0.8M297.8 77.6h0.8M302.6 80.5h0.8M301.9 79.0h0.8M296.2 76.0h0.8M298.0 78.3h0.8M300.9 81.6h0.8M304.2 79.9h0.8M296.1 76.3h0.8M299.9 81.7h0.8M308.8 81.0h0.8M307.9 87.4h0.8M294.7 84.9h0.8M304.9 85.4h0.8M299.6 83.9h0.8M297.3 80.0h0.8M299.7 87.1h0.8M298.6 83.9h0.8M299.9 77.6h0.8M300.7 82.8h0.8M296.3 82.7h0.8M296.3 77.0h0.8M300.6 79.4h0.8M295.0 74.1h0.8M299.7 81.2h0.8M297.4 81.0h0.8M292.4 81.8h0.8M301.6 81.4h0.8M296.7 80.6h0.8M300.2 84.4h0.8M300.9 81.3h0.8M296.2 83.6h0.8M305.1 78.4h0.8M302.6 81.5h0.8M299.4 75.4h0.8M307.9 73.2h0.8M301.0 78.9h0.8M305.0 78.7h0.8M299.8 82.6h0.8M301.7 78.3h0.8M302.8 81.8h0.8M304.2 78.4h0.8M299.4 78.8h0.8M295.7 81.3h0.8M301.5 85.7h0.8M298.1 81.8h0.8M305.0 79.9h0.8M299.9 80.8h0.8M296.4 76.6h0.8M304.8 81.0h0.8M299.3 75.6h0.8M300.2 84.7h0.8M294.2 76.9h0.8M304.8 85.7h0.8M306.9 78.2h0.8M302.4 77.5h0.8M302.0 78.9h0.8M300.5 85.4h0.8M301.2 79.4h0.8M299.9 81.3h0.8M297.2 81.1h0.8M302.4 86.2h0.8M290.0 75.8h0.8M293.8 83.6h0.8M311.0 81.0h0.8M300.2 84.6h0.8M288.2 79.6h0.8M297.2 78.5h0.8M301.2 78.1h0.8M304.8 80.3h0.8M301.4 89.9h0.8M297.5 83.8h0.8M295.7 85.0h0.8M304.1 80.8h0.8M304.2 86.4h0.8M306.0 80.3h0.8M299.3 84.5h0.8M292.7 78.0h0.8M301.9 82.4h0.8M308.3 86.9h0.8M301.1 82.0h0.8M293.5 79.6h0.8M300.8 79.4h0.8M299.9 82.6h0.8M295.2 78.2h0.8M291.3 84.6h0.8M294.7 73.9h0.8M303.2 79.5h0.8M304.1 78.9h0.8M309.5 83.0h0.8M300.3 80.7h0.8M298.6 83.3h0.8M308.9 78.7h0.8M294.5 82.5h0.8M304.6 74.7h0.8M296.4 76.6h0.8M302.2 82.2h0.8M296.2 76.1h0.8M302.8 72.6h0.8M302.6 79.7h0.8M308.5 84.0h0.8M296.9 79.3h0.8M298.3 77.6h0.8M300.0 83.9h0.8M292.6 79.4h0.8M306.5 83.1h0.8M295.8 77.3h0.8M295.6 74.3h0.8M304.9 80.6h0.8M296.4 74.9h0.8M297.8 78.4h0.8M307.6 78.6h0.8M300.1 84.3h0.8M302.7 79.6h0.8M289.5 85.5h0.8M302.4 78.7h0.8M299.2 76.7h0.8M295.4 74.8h0.8M301.9 82.2h0.8M300.4 83.2h0.8M302.1 80.8h0.8M295.5 82.5h0.8M305.1 82.7h0.8M305.4 78.5h0.8M295.1 85.0h0.8M296.9 81.2h0.8M298.7 80.4h0.8M298.4 78.3h0.8M291.4 87.4h0.8M300.5 73.1h0.8M295.4 76.1h0.8M296.2 70.8h0.8M302.3 86.4h0.8M298.5 83.1h0.8M302.4 75.7h0.8M305.2 74.0h0.8M296.9 79.0h0.8M305.4 80.7h0.8M299.0 77.3h0.8M300.0 80.5h0.8M303.0 85.5h0.8M303.0 80.4h0.8M298.9 86.3h0.8M300.5 80.2h0.8M307.9 86.1h0.8M302.2 79.9h0.8M296.7 84.3h0.8M297.5 83.9h0.8M296.0 80.7h0.8M301.5 80.8h0.8M300.7 81.7h0.8M294.4 76.2h0.8M298.9 87.0h0.8M299.0 76.9h0.8M296.6 80.4h0.8M305.0 78.2h0.8M302.2 81.0h0.8M298.0 76.8h0.8M298.9 77.6h0.8M302.1 73.8h0.8M304.8 83.1h0.8M302.3 85.9h0.8M302.4 74.0h0.8M299.8 82.0h0.8M296.5 76.1h0.8M301.6 82.2h0.8M297.6 79.4h0.8M297.3 78.2h0.8M299.3 84.3h0.8M292.2 79.0h0.8M307.0 81.5h0.8M300.3 83.4h0.8M295.0 75.8h0.8M292.0 74.9h0.8M300.7 83.4h0.8M297.7 77.8h0.8M301.5 82.6h0.8M300.8 73.2h0.8M297.1 70.9h0.8M300.7 77.2h0.8M296.6 85.9h0.8M305.7 82.1h0.8M300.9 80.9h0.8M296.9 80.1h0.8M308.4 77.1h0.8M296.6 80.9h0.8M303.7 83.4h0.8M295.2 79.8h0.8M298.4 75.7h0.8M300.0 78.5h0.8M303.8 81.9h0.8M296.0 80.6h0.8M298.0 78.0h0.8M297.4 84.2h0.8M297.7 74.0h0.8M296.1 83.3h0.8M309.4 76.4h0.8M298.0 79.1h0.8M293.2 81.8h0.8M299.4 81.3h0.8M309.8 79.3h0.8M303.2 83.4h0.8M296.7 78.1h0.8M306.7 82.9h0.8M300.3 76.3h0.8M303.6 82.2h0.8M309.6 85.7h0.8M303.3 81.3h0.8M299.9 78.3h0.8M301.0 81.2h0.8M302.6 84.3h0.8M301.0 78.3h0.8M303.3 86.0h0.8M295.8 81.9h0.8M302.1 82.3h0.8M301.9 80.0h0.8M299.1 86.5h0.8M307.5 75.1h0.8M288.0 81.9h0.8M296.5 78.4h0.8M292.3 81.6h0.8M299.4 78.3h0.8M303.7 89.3h0.8M306.3 84.6h0.8M297.7 82.7h0.8M299.4 84.6h0.8M302.3 80.2h0.8M302.1 77.7h0.8M303.2 85.9h0.8M298.0 82.4h0.8M292.0 83.8h0.8M303.6 76.5h0.8M307.6 80.7h0.8M291.7 75.2h0.8M303.6 79.3h0.8M304.6 74.6h0.8M299.2 83.9h0.8M296.5 82.8h0.8M298.0 81.6h0.8M301.1 88.5h0.8M293.9 83.2h0.8M305.6 76.2h0.8M300.0 88.8h0.8M304.4 69.4h0.8M298.5 74.0h0.8M301.0 77.6h0.8M297.0 77.2h0.8M300.9 78.6h0.8M295.5 79.5h0.8M301.5 77.1h0.8M304.7 74.2h0.8M301.5 78.9h0.8M306.8 77.9h0.8M296.6 75.3h0.8M308.7 82.6h0.8M294.6 79.1h0.8M295.2 85.9h0.8M301.5 72.8h0.8M300.6 83.7h0.8M299.6 82.0h0.8M299.1 81.1h0.8M300.6 77.7h0.8M301.2 80.9h0.8M299.4 77.8h0.8M295.0 81.2h0.8M303.4 71.4h0.8M297.2 85.3h0.8M303.8 77.7h0.8M305.8 76.7h0.8M296.0 87.5h0.8M297.6 79.5h0.8M292.1 76.6h0.8M294.2 79.8h0.8M291.2 84.2h0.8M298.0 78.1h0.8M296.7 83.0h0.8M306.6 78.8h0.8M307.0 86.3h0.8M305.7 81.4h0.8M292.8 82.8h0.8M297.7 81.0h0.8M291.0 79.3h0.8M300.7 76.8h0.8M300.9 86.5h0.8M300.7 77.8h0.8M310.5 72.3h0.8M295.4 81.8h0.8M296.9 71.8h0.8M300.8 83.4h0.8M296.0 85.7h0.8M301.9 84.7h0.8M292.6 80.3h0.8M306.9 87.8h0.8M305.6 80.3h0.8M300.4 78.0h0.8M304.6 77.7h0.8M300.2 72.7h0.8M292.7 86.9h0.8M299.9 81.1h0.8M289.5 80.2h0.8M309.1 74.8h0.8M288.7 79.7h0.8M297.2 79.5h0.8M293.8 75.3h0.8M293.9 82.7h0.8M299.4 83.3h0.8M294.7 82.5h0.8M297.6 80.6h0.8M303.9 80.4h0.8M298.0 74.1h0.8M299.9 83.2h0.8M296.7 80.1h0.8M291.5 75.3h0.8M301.5 85.1h0.8M298.2 74.1h0.8M297.9 74.5h0.8M298.3 87.5h0.8M301.0 79.7h0.8M304.4 78.9h0.8M301.1 81.0h0.8M301.7 74.8h0.8M302.9 83.6h0.8M289.1 70.2h0.8M295.5 85.9h0.8M299.7 82.8h0.8M302.2 83.6h0.8M296.7 78.1h0.8M301.3 82.6h0.8M302.3 81.6h0.8M297.4 84.4h0.8M301.8 84.3h0.8M287.9 84.1h0.8M288.3 81.1h0.8M296.5 80.8h0.8M297.4 79.1h0.8M300.5 81.6h0.8M295.9 70.8h0.8M296.0 82.3h0.8M295.7 81.9h0.8M297.9 76.8h0.8M305.0 86.5h0.8M299.1 80.1h0.8M304.0 75.3h0.8M295.6 84.5h0.8M303.8 78.4h0.8M296.0 81.6h0.8M293.1 78.4h0.8M298.5 71.1h0.8M302.3 83.2h0.8M304.6 74.9h0.8M293.6 77.2h0.8M293.5 88.0h0.8M295.1 79.1h0.8M300.6 82.0h0.8M306.3 76.2h0.8M303.7 80.9h0.8M294.1 80.9h0.8M293.1 86.4h0.8M296.2 84.1h0.8M305.7 78.0h0.8M295.4 80.8h0.8M294.7 83.7h0.8M300.4 77.4h0.8M296.4 83.0h0.8M292.8 86.7h0.8M295.9 79.6h0.8M295.3 86.4h0.8M303.4 85.2h0.8M302.7 80.6h0.8M307.5 82.8h0.8M301.6 82.5h0.8M303.0 81.4h0.8M298.8 74.3h0.8M309.2 75.4h0.8M289.5 77.6h0.8M308.6 84.9h0.8M296.8 81.3h0.8M299.5 72.8h0.8M298.0 81.4h0.8M305.1 75.7h0.8M289.0 74.3h0.8M301.1 80.6h0.8M300.3 80.9h0.8M297.9 75.1h0.8M301.7 81.8h0.8M302.3 85.0h0.8M293.8 71.4h0.8M291.2 88.4h0.8M295.3 81.8h0.8M299.5 83.1h0.8M314.7 78.3h0.8M298.8 78.0h0.8M300.8 82.3h0.8M295.0 85.3h0.8M305.0 82.0h0.8M299.1 79.4h0.8M291.9 82.8h0.8M295.0 78.4h0.8M304.3 76.8h0.8M297.1 83.6h0.8M308.3 77.7h0.8M304.8 77.8h0.8M301.4 82.1h0.8M294.2 84.2h0.8M308.1 80.5h0.8M300.9 75.8h0.8M308.0 80.5h0.8M293.6 83.2h0.8M292.7 77.7h0.8M289.6 85.5h0.8M310.0 77.9h0.8M296.5 78.1h0.8M296.9 82.4h0.8M306.5 76.5h0.8M301.7 73.4h0.8M306.8 80.0h0.8M296.3 86.1h0.8M299.1 85.5h0.8M304.6 86.6h0.8M295.8 80.5h0.8M301.3 79.6h0.8M306.8 77.6h0.8M304.3 85.5h0.8M290.4 76.6h0.8M295.4 78.2h0.8M301.4 79.6h0.8M300.0 78.6h0.8M299.2 82.1h0.8M303.1 77.3h0.8M299.1 77.4h0.8M298.8 74.8h0.8M304.1 82.9h0.8M299.0 77.7h0.8M297.5 77.8h0.8M292.3 86.5h0.8M315.1 75.6h0.8M294.1 82.5h0.8M302.4 74.3h0.8M290.6 82.4h0.8M290.2 85.7h0.8M297.3 80.6h0.8M299.6 78.2h0.8M298.9 79.2h0.8M305.4 80.0h0.8M299.4 78.3h0.8M296.6 77.5h0.8M299.6 87.3h0.8M304.8 81.2h0.8M307.4 84.2h0.8M300.6 79.7h0.8M294.4 81.2h0.8M298.1 74.3h0.8M293.6 87.7h0.8M300.6 82.2h0.8M300.5 78.5h0.8M301.8 84.4h0.8M298.1 82.2h0.8M304.4 78.5h0.8M300.4 77.5h0.8M302.4 78.9h0.8M305.0 77.4h0.8M307.5 79.1h0.8M295.7 76.9h0.8M302.7 77.0h0.8M308.1 85.2h0.8M302.0 74.9h0.8M299.5 77.5h0.8M291.1 81.9h0.8M309.9 78.3h0.8M303.4 85.2h0.8M295.1 79.0h0.8M300.9 82.1h0.8M294.2 81.1h0.8M299.1 83.9h0.8M292.1 78.2h0.8M297.2 79.1h0.8M303.0 77.9h0.8M312.5 77.6h0.8M303.5 84.2h0.8M304.1 79.5h0.8M295.7 79.3h0.8M302.7 80.8h0.8M302.3 82.5h0.8M295.4 76.7h0.8M306.4 78.5h0.8M292.2 87.4h0.8M295.7 76.8h0.8M304.1 76.0h0.8M295.5 84.3h0.8M295.7 89.8h0.8M300.2 80.5h0.8M296.6 79.5h0.8M297.2 80.2h0.8M303.2 75.5h0.8M295.3 72.3h0.8M306.7 80.0h0.8M299.5 80.1h0.8M304.3 81.5h0.8M303.6 79.7h0.8M299.0 80.1h0.8M290.8 84.4h0.8M292.2 76.5h0.8M302.8 80.5h0.8M303.4 86.8h0.8M308.4 85.6h0.8M298.5 88.1h0.8M295.5 80.0h0.8M304.3 79.5h0.8M299.0 79.0h0.8M306.0 70.9h0.8M305.6 84.3h0.8M299.3 82.4h0.8M295.0 84.5h0.8M314.0 76.8h0.8M306.2 80.1h0.8M298.0 78.4h0.8M298.7 75.5h0.8M293.2 86.6h0.8M299.5 82.4h0.8M301.1 82.1h0.8M292.4 76.7h0.8M302.6 84.1h0.8M294.2 78.1h0.8M294.6 82.8h0.8M301.2 80.4h0.8M296.5 81.6h0.8M299.8 77.5h0.8M301.2 77.8h0.8M304.1 82.7h0.8M296.4 82.5h0.8M299.9 77.6h0.8M295.3 74.0h0.8M294.3 81.6h0.8M305.3 77.9h0.8M300.4 81.6h0.8M303.3 82.0h0.8M305.4 83.2h0.8M296.0 81.8h0.8M288.6 79.6h0.8M299.7 82.5h0.8M298.2 83.5h0.8M305.8 77.1h0.8M297.0 81.3h0.8M301.9 80.8h0.8M303.5 75.8h0.8M303.2 84.7h0.8M304.8 81.9h0.8M298.5 81.8h0.8M299.2 74.3h0.8M296.8 80.1h0.8M297.2 76.8h0.8M298.5 78.9h0.8M299.9 80.1h0.8M300.4 84.1h0.8M300.2 81.8h0.8M293.9 69.1h0.8M297.7 82.9h0.8M298.0 77.9h0.8M293.8 83.7h0.8M297.1 81.2h0.8M304.9 82.3h0.8M310.1 79.8h0.8M304.1 82.9h0.8M296.5 80.5h0.8M296.9 76.4h0.8M301.0 77.4h0.8M307.5 77.5h0.8M297.0 80.6h0.8M297.2 80.5h0.8M296.7 74.9h0.8M288.3 75.4h0.8M306.8 82.0h0.8M300.3 78.5h0.8M298.9 81.4h0.8M293.1 77.3h0.8M295.4 85.1h0.8M294.6 84.8h0.8M299.2 80.4h0.8M305.9 83.6h0.8M304.0 76.2h0.8M304.9 86.7h0.8M299.1 78.5h0.8M294.5 84.2h0.8M301.0 80.3h0.8M293.8 86.5h0.8M303.7 80.2h0.8M306.5 76.7h0.8M303.7 76.5h0.8M306.2 79.3h0.8M305.3 78.7h0.8M301.5 84.6h0.8M295.4 80.7h0.8M295.7 83.5h0.8M296.8 78.9h0.8M298.6 84.7h0.8M294.7 80.2h0.8M298.1 78.2h0.8M295.9 79.7h0.8M300.5 74.4h0.8M300.7 75.8h0.8M299.7 89.0h0.8M295.1 80.0h0.8M298.4 84.0h0.8M297.4 73.5h0.8M292.0 81.0h0.8M300.8 84.4h0.8M297.1 82.8h0.8M294.6 85.2h0.8M299.3 77.7h0.8M300.4 86.9h0.8M295.6 75.6h0.8M294.8 75.9h0.8M299.4 81.6h0.8M298.8 81.0h0.8M305.2 79.2h0.8M293.7 71.6h0.8M300.7 77.7h0.8M298.4 81.9h0.8M301.8 74.3h0.8M295.1 80.6h0.8M298.9 84.7h0.8M297.2 72.5h0.8M305.1 74.1h0.8M295.0 81.8h0.8M294.6 89.8h0.8M300.7 82.3h0.8M297.5 88.7h0.8M302.1 77.6h0.8M305.5 73.9h0.8M296.8 81.4h0.8M300.2 76.7h0.8M307.0 85.9h0.8M295.2 81.7h0.8M296.6 78.7h0.8M304.2 80.8h0.8M299.1 80.7h0.8M294.1 84.9h0.8M296.1 85.3h0.8M297.4 78.6h0.8M306.6 81.0h0.8M296.6 78.3h0.8M302.4 87.4h0.8M302.5 78.8h0.8M294.3 77.7h0.8M299.0 81.2h0.8M296.5 85.2h0.8M295.1 77.6h0.8M301.9 82.1h0.8M297.8 84.0h0.8M293.0 86.5h0.8M309.9 87.7h0.8M300.2 87.8h0.8M299.9 85.4h0.8M298.7 81.0h0.8M302.1 73.7h0.8M298.6 86.8h0.8M303.9 81.5h0.8M300.5 85.6h0.8M301.2 73.1h0.8M295.2 79.2h0.8M300.3 78.6h0.8M299.1 86.6h0.8M304.0 82.6h0.8M299.7 80.5h0.8M301.3 81.2h0.8M296.2 83.3h0.8M295.7 80.1h0.8M297.9 75.9h0.8M302.4 80.0h0.8M294.1 80.0h0.8M293.1 85.7h0.8M302.0 87.8h0.8M296.9 83.0h0.8M295.1 77.1h0.8M299.2 81.9h0.8M303.9 79.3h0.8M304.8 84.0h0.8M295.5 79.6h0.8M295.3 86.8h0.8M297.0 83.7h0.8M303.9 79.3h0.8M297.3 81.6h0.8M296.0 75.5h0.8M295.1 81.6h0.8M300.5 87.0h0.8M291.0 82.2h0.8M294.2 84.7h0.8M302.9 80.8h0.8M306.5 78.9h0.8M297.1 76.3h0.8M296.5 80.7h0.8M302.7 85.1h0.8M298.3 77.5h0.8M298.0 78.7h0.8M297.4 78.8h0.8M295.5 80.1h0.8M297.2 79.7h0.8M293.1 80.8h0.8M302.3 82.7h0.8M297.0 76.0h0.8M293.5 75.9h0.8M296.6 79.1h0.8M291.3 82.8h0.8M292.4 77.7h0.8M296.2 83.4h0.8M308.2 79.0h0.8M298.3 78.8h0.8M298.7 79.7h0.8M311.1 76.2h0.8M299.1 77.3h0.8M301.3 78.3h0.8M302.3 76.2h0.8M309.4 81.1h0.8M291.4 82.9h0.8M297.4 76.0h0.8M301.7 78.4h0.8M303.0 78.2h0.8M303.8 80.9h0.8M301.3 80.9h0.8M297.9 78.9h0.8M301.7 83.0h0.8M297.7 88.7h0.8M307.5 76.0h0.8M304.7 80.0h0.8M300.7 77.3h0.8M307.3 77.2h0.8M299.2 77.6h0.8M308.6 85.0h0.8M293.5 78.6h0.8M301.3 78.7h0.8M298.0 76.3h0.8M300.8 76.2h0.8M303.5 89.3h0.8M298.1 86.5h0.8M301.3 77.8h0.8M298.0 76.7h0.8M300.1 82.9h0.8M303.9 79.3h0.8M294.1 80.0h0.8M307.4 81.4h0.8M299.3 72.5h0.8M297.6 82.3h0.8M295.2 85.3h0.8M297.0 77.1h0.8M296.9 80.0h0.8M304.2 78.2h0.8M291.3 80.0h0.8M302.0 86.1h0.8M294.4 85.8h0.8M302.7 82.0h0.8M296.0 77.0h0.8M295.2 83.8h0.8M300.6 84.3h0.8M308.0 80.4h0.8M299.4 87.5h0.8M293.6 78.6h0.8M297.9 78.9h0.8M300.3 77.2h0.8M305.0 75.2h0.8M295.8 74.0h0.8M293.1 82.5h0.8M302.5 79.6h0.8M303.5 82.6h0.8M296.9 80.2h0.8M301.3 87.8h0.8M297.6 81.7h0.8M302.1 84.9h0.8M301.6 84.3h0.8M294.7 79.3h0.8M290.7 80.1h0.8M310.4 81.2h0.8M300.0 81.3h0.8M300.3 75.4h0.8M296.4 79.7h0.8M300.4 77.1h0.8M299.1 77.6h0.8M293.5 77.9h0.8M295.9 83.4h0.8M305.8 82.5h0.8M298.6 78.3h0.8M292.3 78.4h0.8M306.8 84.6h0.8M300.6 79.4h0.8M299.6 81.9h0.8M299.6 81.9h0.8M296.0 80.5h0.8M298.0 84.3h0.8M293.9 85.1h0.8M299.2 78.5h0.8M299.7 80.8h0.8M298.5 81.9h0.8M296.9 74.0h0.8M302.8 80.2h0.8M307.3 81.8h0.8M290.4 84.9h0.8M296.4 82.4h0.8M309.9 84.4h0.8M294.5 80.0h0.8M292.2 82.8h0.8M302.2 76.5h0.8M301.7 83.8h0.8M303.3 77.8h0.8M296.4 76.2h0.8M293.6 81.5h0.8M299.8 85.1h0.8M300.9 79.1h0.8M293.0 86.0h0.8M300.4 80.2h0.8M295.0 76.5h0.8M302.5 76.7h0.8M302.3 82.7h0.8M297.8 74.3h0.8M301.5 85.5h0.8M295.8 75.7h0.8M304.6 80.9h0.8M296.7 84.9h0.8M298.3 82.0h0.8M297.7 77.6h0.8M300.6 77.2h0.8M291.4 78.3h0.8M305.3 84.4h0.8M309.6 84.0h0.8M307.0 81.3h0.8M297.6 82.1h0.8M295.2 83.0h0.8M297.5 81.3h0.8M295.7 79.8h0.8M304.1 79.5h0.8M296.5 81.4h0.8M303.7 79.6h0.8M294.2 74.6h0.8M293.4 84.3h0.8M299.2 82.1h0.8M304.6 81.4h0.8M301.8 78.5h0.8M292.2 82.7h0.8M299.2 82.5h0.8M294.7 79.8h0.8M308.9 77.2h0.8M300.1 85.2h0.8M298.5 80.8h0.8M289.8 83.2h0.8M297.6 85.1h0.8M299.2 79.0h0.8M301.6 79.5h0.8M297.2 86.0h0.8M304.1 80.7h0.8M303.3 83.4h0.8M302.3 80.5h0.8M299.9 81.8h0.8M302.2 81.6h0.8M297.1 80.1h0.8M301.7 76.7h0.8M299.6 83.1h0.8M300.4 79.3h0.8M299.5 78.6h0.8M304.1 79.0h0.8M291.9 75.9h0.8M301.0 81.1h0.8M297.4 75.6h0.8M298.9 77.3h0.8M296.6 80.3h0.8M296.1 81.5h0.8M296.2 78.7h0.8M298.6 85.7h0.8M306.9 83.8h0.8M296.2 80.4h0.8M303.8 83.3h0.8M292.1 80.2h0.8M296.2 83.1h0.8M302.5 78.4h0.8M309.5 79.3h0.8M310.8 79.7h0.8M299.2 87.3h0.8M297.2 78.6h0.8M306.4 80.2h0.8M301.8 75.8h0.8M307.8 83.9h0.8M301.2 82.9h0.8M297.3 78.6h0.8M292.4 81.7h0.8M305.3 83.5h0.8M303.8 82.9h0.8M295.4 75.6h0.8M302.5 81.0h0.8M304.1 79.4h0.8M295.5 82.0h0.8M297.0 74.4h0.8M296.8 77.2h0.8M294.5 78.4h0.8M304.0 88.9h0.8M307.5 78.9h0.8M304.9 80.1h0.8M301.5 77.9h0.8M299.3 74.3h0.8M307.8 77.6h0.8M302.3 78.2h0.8M300.8 76.1h0.8M297.9 83.7h0.8M302.3 73.3h0.8M303.5 75.6h0.8M300.9 82.2h0.8M296.6 79.2h0.8M298.5 81.8h0.8M303.8 85.3h0.8M301.1 87.6h0.8M295.2 86.8h0.8M298.4 83.1h0.8M299.0 80.7h0.8M295.4 81.8h0.8M308.9 80.9h0.8M299.5 80.4h0.8M302.9 79.6h0.8M299.6 81.1h0.8M305.6 83.8h0.8M294.8 78.1h0.8M299.7 83.4h0.8M304.1 79.6h0.8M309.4 79.8h0.8M306.1 85.5h0.8M306.9 81.1h0.8M302.3 74.8h0.8M291.4 78.2h0.8M302.9 84.2h0.8M299.1 84.1h0.8M302.3 85.9h0.8M292.3 77.4h0.8M295.2 76.6h0.8M307.2 77.0h0.8M295.8 78.9h0.8M303.7 78.7h0.8M303.0 82.3h0.8M296.7 71.8h0.8M295.4 75.9h0.8M307.1 77.8h0.8M294.7 81.7h0.8M299.8 77.0h0.8M304.6 83.7h0.8M300.9 77.6h0.8M295.6 73.0h0.8M301.4 81.8h0.8M295.4 80.5h0.8M314.7 76.3h0.8M291.7 82.6h0.8M297.6 78.6h0.8M302.5 79.9h0.8M304.2 82.2h0.8M304.9 80.8h0.8M289.7 85.3h0.8M291.8 84.1h0.8M300.8 75.3h0.8M299.9 83.5h0.8M294.9 80.5h0.8M296.2 76.7h0.8M296.8 85.0h0.8M302.8 80.2h0.8M299.2 80.8h0.8M300.9 81.0h0.8M291.7 83.7h0.8M295.7 70.9h0.8M302.8 76.0h0.8M298.9 80.0h0.8M296.9 82.3h0.8M298.3 79.3h0.8M295.2 79.3h0.8M294.8 80.5h0.8M305.7 84.0h0.8M301.6 75.4h0.8M304.3 83.7h0.8M309.1 72.2h0.8M299.7 79.1h0.8M304.6 76.4h0.8M297.8 88.7h0.8M304.2 73.1h0.8M299.7 85.3h0.8M296.7 82.5h0.8M300.1 75.1h0.8M296.7 84.4h0.8M305.1 78.2h0.8M304.8 77.8h0.8M300.7 80.3h0.8M293.8 81.5h0.8M297.8 70.4h0.8M295.8 77.3h0.8M295.7 76.8h0.8M296.4 71.5h0.8M303.7 80.6h0.8M300.8 79.4h0.8M299.9 79.4h0.8M294.6 74.8h0.8M299.9 84.0h0.8M300.7 86.2h0.8M293.3 79.4h0.8M296.7 84.8h0.8M307.4 78.4h0.8M303.0 79.4h0.8M295.0 79.9h0.8M294.8 85.9h0.8M302.3 84.6h0.8M301.3 71.5h0.8M303.3 80.7h0.8M288.6 80.7h0.8M304.3 86.5h0.8M294.9 83.2h0.8M301.1 79.7h0.8M298.3 82.2h0.8M302.3 82.7h0.8M297.7 75.5h0.8M305.7 85.0h0.8M297.0 80.2h0.8M303.3 73.9h0.8M301.9 89.1h0.8M300.9 77.8h0.8M309.0 80.3h0.8M300.6 78.8h0.8M300.4 73.8h0.8M293.7 74.9h0.8M303.8 80.0h0.8M304.9 72.9h0.8M296.8 85.6h0.8M295.9 73.5h0.8M296.2 79.1h0.8M299.5 85.1h0.8M305.7 86.0h0.8M302.3 78.5h0.8M297.3 74.9h0.8M305.5 84.9h0.8M300.0 77.1h0.8M302.7 82.1h0.8M300.3 76.1h0.8M300.7 78.2h0.8M303.0 82.5h0.8M301.6 78.8h0.8M306.6 83.1h0.8M305.5 83.4h0.8M302.7 81.7h0.8M294.7 73.7h0.8M295.3 82.5h0.8M303.8 81.0h0.8M300.0 87.0h0.8M297.8 73.8h0.8M292.5 79.1h0.8M302.8 83.0h0.8M298.6 83.3h0.8M299.4 77.7h0.8M297.9 83.1h0.8M304.0 76.2h0.8M295.0 80.8h0.8M309.4 76.0h0.8M293.8 81.8h0.8M301.9 78.1h0.8M299.5 82.1h0.8M291.6 80.2h0.8M302.4 83.7h0.8M305.0 80.0h0.8M293.0 85.2h0.8M303.2 78.0h0.8M304.4 84.1h0.8M299.0 71.7h0.8M297.4 77.5h0.8M295.7 80.0h0.8M294.6 81.7h0.8M308.3 76.0h0.8M304.4 78.4h0.8M302.1 79.8h0.8M305.5 77.7h0.8M303.0 77.5h0.8M300.7 80.3h0.8M304.6 74.6h0.8M293.4 85.4h0.8M301.4 86.5h0.8M294.9 81.1h0.8M302.4 86.7h0.8M299.4 78.7h0.8M302.9 79.9h0.8M296.2 83.1h0.8M290.8 76.6h0.8M305.9 78.5h0.8M298.1 81.7h0.8M304.8 82.2h0.8M295.2 78.2h0.8M304.4 79.9h0.8M296.7 83.5h0.8M304.8 88.2h0.8M294.7 77.7h0.8M296.4 81.6h0.8M297.4 84.4h0.8M287.3 83.8h0.8M296.6 79.3h0.8M302.2 81.0h0.8M295.0 85.8h0.8M302.2 78.5h0.8M300.6 76.3h0.8M294.0 79.2h0.8M301.3 80.7h0.8M296.0 75.3h0.8M291.9 86.1h0.8M301.3 77.4h0.8M305.0 82.3h0.8M297.7 78.1h0.8M304.8 81.5h0.8M307.1 81.6h0.8M296.9 78.1h0.8M296.4 81.2h0.8M300.8 82.5h0.8M301.7 76.5h0.8M298.7 76.9h0.8M301.8 75.5h0.8M296.9 77.2h0.8M296.8 79.4h0.8M306.5 79.4h0.8M293.0 79.2h0.8M303.0 82.3h0.8M300.7 87.6h0.8M304.7 80.6h0.8M305.2 75.4h0.8M298.8 77.1h0.8M300.4 86.2h0.8M297.3 86.1h0.8M294.9 85.5h0.8M291.9 77.2h0.8M304.2 80.0h0.8M300.3 80.3h0.8M300.4 79.6h0.8M295.1 79.2h0.8M300.1 77.0h0.8M301.7 86.7h0.8M292.1 78.3h0.8M298.3 80.4h0.8M300.0 77.7h0.8M299.4 80.3h0.8M299.2 85.9h0.8M300.2 74.9h0.8M292.4 82.5h0.8M298.0 78.0h0.8M293.4 79.2h0.8M299.2 77.8h0.8M298.0 83.5h0.8M303.2 82.3h0.8M298.8 75.4h0.8M303.1 85.8h0.8M305.4 84.5h0.8M300.9 81.7h0.8M299.5 84.9h0.8M298.4 88.1h0.8M303.2 79.1h0.8M299.6 74.4h0.8M296.3 79.2h0.8M310.8 77.3h0.8M303.8 80.6h0.8M298.3 82.6h0.8M290.5 83.7h0.8M308.4 81.4h0.8M299.3 80.9h0.8M302.6 78.5h0.8M300.2 82.1h0.8M298.0 81.7h0.8M301.1 82.9h0.8M295.1 78.3h0.8M297.7 84.7h0.8M300.7 74.3h0.8M293.8 87.4h0.8M301.1 75.6h0.8M295.4 80.8h0.8M306.1 86.2h0.8M297.9 79.2h0.8M308.4 76.7h0.8M306.7 81.5h0.8M300.0 85.0h0.8M301.8 77.3h0.8M292.6 80.4h0.8M301.9 85.3h0.8M287.7 85.2h0.8M302.4 85.8h0.8M303.2 81.1h0.8M301.6 81.8h0.8M296.7 79.9h0.8M300.2 78.7h0.8M292.9 75.0h0.8M301.9 82.2h0.8M300.1 76.0h0.8M303.5 78.9h0.8M290.1 86.0h0.8M292.8 88.5h0.8M302.0 78.7h0.8M288.9 77.7h0.8M306.4 85.3h0.8M300.8 74.1h0.8M297.9 79.3h0.8M301.7 79.8h0.8M301.2 74.3h0.8M296.7 85.6h0.8M293.0 83.7h0.8M310.1 82.7h0.8M293.3 84.8h0.8M291.1 81.5h0.8M297.7 84.8h0.8M305.0 81.0h0.8M307.8 83.9h0.8M297.4 76.7h0.8M310.8 78.8h0.8M301.5 79.9h0.8M297.4 74.4h0.8M298.9 79.9h0.8M304.1 78.4h0.8M292.5 76.4h0.8M299.4 81.2h0.8M302.9 78.9h0.8M302.1 80.8h0.8M307.3 80.1h0.8M300.3 82.4h0.8M305.2 76.9h0.8M297.4 79.3h0.8M289.9 85.1h0.8M304.5 80.4h0.8M315.0 85.0h0.8M308.8 86.0h0.8M303.7 75.1h0.8M306.6 81.8h0.8M294.1 80.5h0.8M303.0 83.9h0.8M300.4 78.4h0.8M303.1 77.5h0.8M299.2 83.1h0.8M293.0 81.7h0.8M290.7 76.9h0.8M294.0 80.0h0.8M302.9 80.1h0.8M303.8 80.7h0.8M298.7 82.1h0.8M298.5 80.8h0.8M304.4 78.2h0.8M304.9 76.2h0.8M298.6 73.9h0.8M297.2 86.1h0.8M301.2 85.0h0.8M292.9 76.6h0.8M301.7 83.3h0.8M303.4 74.2h0.8M301.9 80.0h0.8M300.2 82.0h0.8M298.3 74.1h0.8M294.7 75.0h0.8M293.6 79.8h0.8M305.6 77.7h0.8M296.1 76.1h0.8M291.7 80.5h0.8M297.4 79.4h0.8M295.2 82.1h0.8M294.1 82.3h0.8M296.6 83.2h0.8M295.5 81.9h0.8M301.6 80.0h0.8M307.1 80.9h0.8M295.5 82.8h0.8M295.8 78.3h0.8M299.7 81.0h0.8M307.4 73.9h0.8M298.4 84.4h0.8M298.9 81.5h0.8M306.6 75.8h0.8M299.8 83.2h0.8M296.9 73.9h0.8M295.0 81.0h0.8M300.5 87.1h0.8M305.7 74.6h0.8M304.3 83.7h0.8M307.0 79.7h0.8M297.1 80.8h0.8M306.7 82.6h0.8M307.4 83.2h0.8M296.9 76.6h0.8M308.1 74.7h0.8M298.0 79.1h0.8M295.4 78.2h0.8M299.6 89.0h0.8M299.3 78.4h0.8M300.2 83.8h0.8M295.9 78.8h0.8M291.6 82.9h0.8M302.7 85.8h0.8M294.1 88.3h0.8M303.6 79.3h0.8M297.8 79.2h0.8M294.0 83.1h0.8M296.8 77.6h0.8M302.0 80.7h0.8M296.9 79.4h0.8M297.3 85.3h0.8M304.2 77.6h0.8M299.4 85.3h0.8M298.3 86.8h0.8M301.6 82.8h0.8M290.1 83.4h0.8M301.2 82.4h0.8M301.8 82.2h0.8M297.3 83.6h0.8M299.9 76.4h0.8M294.9 80.9h0.8M301.1 72.2h0.8M290.1 84.2h0.8M292.6 79.4h0.8M296.9 82.4h0.8M306.1 86.2h0.8M295.0 84.8h0.8M294.0 81.4h0.8M300.4 82.6h0.8M295.9 85.2h0.8M299.3 80.2h0.8M298.4 76.4h0.8M302.9 81.5h0.8M301.7 87.2h0.8M295.6 79.3h0.8M299.6 83.5h0.8M298.8 83.7h0.8M301.7 73.8h0.8M296.5 72.8h0.8M298.3 78.8h0.8M302.3 80.9h0.8M299.3 85.0h0.8M302.3 75.8h0.8M296.4 81.5h0.8M307.4 79.6h0.8M298.8 81.3h0.8M303.2 80.0h0.8M301.0 78.7h0.8M297.1 77.4h0.8M302.6 78.2h0.8M302.1 81.8h0.8M304.1 70.4h0.8M295.2 75.8h0.8M298.8 83.3h0.8M311.2 86.0h0.8M305.8 81.7h0.8M297.8 82.3h0.8M289.6 83.7h0.8M299.6 82.6h0.8M294.9 76.3h0.8M296.6 80.1h0.8M301.2 79.0h0.8M301.2 82.8h0.8M294.3 79.9h0.8M292.5 78.3h0.8M303.8 77.7h0.8M308.2 82.2h0.8M303.7 80.7h0.8M303.6 84.3h0.8M300.1 78.3h0.8M297.1 87.4h0.8M298.8 78.6h0.8M296.4 74.1h0.8M297.3 81.5h0.8M297.4 77.5h0.8M301.5 82.0h0.8M297.6 81.4h0.8M295.1 83.5h0.8M295.1 79.1h0.8M300.2 78.8h0.8M294.3 88.1h0.8M306.6 73.9h0.8M300.2 75.6h0.8M301.0 75.5h0.8M302.3 82.3h0.8M307.4 84.8h0.8M297.5 83.8h0.8M297.5 79.9h0.8M297.3 73.8h0.8M302.4 72.8h0.8M298.5 82.2h0.8M300.1 74.5h0.8M296.6 82.8h0.8M304.7 86.2h0.8M291.3 82.0h0.8M297.4 83.1h0.8M291.9 79.8h0.8M302.8 77.9h0.8M297.9 76.7h0.8M304.7 75.4h0.8M295.4 79.1h0.8M298.1 88.1h0.8M300.9 77.2h0.8M302.3 81.6h0.8M300.9 80.1h0.8M301.7 76.0h0.8M294.1 78.7h0.8M294.5 82.9h0.8M308.5 84.9h0.8M301.7 81.6h0.8M296.5 75.5h0.8M302.1 74.8h0.8M301.0 79.8h0.8M303.0 80.5h0.8M300.1 78.1h0.8M291.7 79.0h0.8M302.8 84.2h0.8M305.9 76.6h0.8M295.3 82.9h0.8M297.5 89.8h0.8M301.0 74.7h0.8M297.1 86.1h0.8M291.2 80.9h0.8M293.2 86.2h0.8M297.5 76.5h0.8M291.8 77.7h0.8M287.9 78.5h0.8M309.6 80.7h0.8M298.4 76.0h0.8M301.2 78.6h0.8M295.7 85.4h0.8M301.6 77.0h0.8M306.4 80.1h0.8M301.9 80.8h0.8M305.0 82.6h0.8M298.0 83.0h0.8M297.8 80.8h0.8M307.1 76.4h0.8M294.8 78.8h0.8M297.3 85.1h0.8M292.3 88.8h0.8M306.9 78.6h0.8M300.5 79.0h0.8M302.7 82.8h0.8M303.1 83.1h0.8M308.5 79.7h0.8M302.8 79.6h0.8M299.8 81.1h0.8M299.4 81.6h0.8M295.7 79.7h0.8M296.8 76.0h0.8M296.4 78.5h0.8M298.9 74.5h0.8M298.4 76.1h0.8M295.8 81.0h0.8M304.7 81.4h0.8M297.4 78.7h0.8M305.8 74.3h0.8M304.8 74.7h0.8M296.7 80.5h0.8M298.6 86.5h0.8M301.9 80.1h0.8M304.0 80.4h0.8M295.9 84.5h0.8M306.5 85.0h0.8M294.2 87.4h0.8M297.7 83.1h0.8M305.1 89.1h0.8M292.2 76.5h0.8M305.0 82.1h0.8M298.2 69.4h0.8M301.6 79.6h0.8M288.1 78.2h0.8M299.6 81.2h0.8M303.1 79.3h0.8M295.5 79.0h0.8M289.9 76.2h0.8M308.7 77.8h0.8M299.2 87.3h0.8M304.4 80.8h0.8M303.0 79.3h0.8M295.4 84.0h0.8M300.2 86.2h0.8M298.4 78.9h0.8M301.2 79.6h0.8M298.2 77.0h0.8M300.8 81.5h0.8M308.0 80.2h0.8M291.5 82.0h0.8M310.1 78.7h0.8M295.9 79.7h0.8M286.4 79.1h0.8M298.7 74.7h0.8" stroke="#000" stroke-width="0.8" stroke-opacity="0.6" fill="none"/>
<path d="M302.5 75.7h0.8M287.8 76.4h0.8M302.9 88.8h0.8M306.6 80.7h0.8M295.9 78.6h0.8M304.9 77.4h0.8M301.5 84.3h0.8M293.5 77.0h0.8M301.7 79.8h0.8M298.2 77.3h0.8M298.6 88.5h0.8M307.3 72.2h0.8M299.3 80.2h0.8M299.2 73.3h0.8M298.2 80.5h0.8M294.9 81.3h0.8M299.6 81.6h0.8M298.0 77.6h0.8M300.1 84.9h0.8M304.5 79.4h0.8M296.2 84.8h0.8M302.3 83.9h0.8M297.3 75.8h0.8M300.1 76.9h0.8M306.0 83.8h0.8M307.1 84.7h0.8M296.1 75.8h0.8M304.9 84.6h0.8M299.4 74.4h0.8M289.7 81.1h0.8M294.0 76.6h0.8M301.7 84.7h0.8M286.4 76.7h0.8M306.9 79.6h0.8M296.9 82.8h0.8M292.1 74.1h0.8M299.1 87.1h0.8M305.2 79.8h0.8M305.2 77.9h0.8M291.8 71.9h0.8M300.6 84.0h0.8M301.3 79.6h0.8M296.6 84.9h0.8M298.7 73.0h0.8M307.3 76.8h0.8M301.4 79.8h0.8M305.4 81.0h0.8M306.5 80.8h0.8M296.2 77.4h0.8M303.0 75.9h0.8M304.7 78.7h0.8M293.4 75.7h0.8M298.1 88.1h0.8M303.7 79.9h0.8M293.5 88.8h0.8M297.3 79.8h0.8M296.4 86.1h0.8M300.1 77.6h0.8M300.1 75.1h0.8M292.6 79.0h0.8M311.1 74.6h0.8M298.1 72.4h0.8M300.0 80.8h0.8M303.5 73.5h0.8M295.3 76.8h0.8M297.8 79.6h0.8M295.9 83.5h0.8M314.6 85.3h0.8M308.3 74.8h0.8M305.4 79.9h0.8M306.6 84.8h0.8M303.0 71.9h0.8M299.8 77.4h0.8M301.7 80.0h0.8M305.4 72.3h0.8M294.5 79.4h0.8M301.0 77.9h0.8M298.8 80.1h0.8M305.4 79.3h0.8M300.5 71.2h0.8M301.2 68.9h0.8M301.5 79.3h0.8M299.0 76.4h0.8M296.4 83.7h0.8M301.2 79.7h0.8M296.0 80.8h0.8M306.3 79.7h0.8M296.8 74.2h0.8M299.6 75.5h0.8M290.2 83.9h0.8M295.2 70.2h0.8M294.6 88.5h0.8M298.3 73.6h0.8M292.3 83.2h0.8M301.5 80.8h0.8M297.8 82.1h0.8M308.4 82.1h0.8M298.0 73.2h0.8M301.7 87.2h0.8M303.0 73.9h0.8M300.1 85.9h0.8M295.1 82.1h0.8M306.4 87.5h0.8M289.3 71.6h0.8M301.3 83.1h0.8M296.8 79.7h0.8M296.5 85.5h0.8M291.2 76.6h0.8M289.6 75.5h0.8M298.9 79.9h0.8M309.9 78.8h0.8M301.1 81.5h0.8M300.6 86.7h0.8M299.8 80.5h0.8M298.3 79.8h0.8M298.7 84.5h0.8M299.1 80.1h0.8M298.7 83.4h0.8M296.1 84.2h0.8M295.5 83.1h0.8M310.7 80.9h0.8M298.5 74.2h0.8M303.5 79.9h0.8M304.6 76.7h0.8M302.2 88.3h0.8M301.5 78.3h0.8M291.0 79.8h0.8M303.0 82.6h0.8M292.2 74.9h0.8M293.0 75.0h0.8M297.3 81.1h0.8M310.8 80.7h0.8M307.9 72.0h0.8M308.4 83.6h0.8M301.7 83.7h0.8M302.8 88.9h0.8M303.9 71.6h0.8M288.3 87.4h0.8M298.5 86.1h0.8M296.9 76.7h0.8M296.9 81.3h0.8M300.1 76.9h0.8M302.3 82.7h0.8M293.4 74.5h0.8M287.0 78.3h0.8M299.1 76.5h0.8M295.3 79.2h0.8M299.2 82.5h0.8M304.1 81.9h0.8M305.9 75.2h0.8M302.7 81.6h0.8M292.6 76.6h0.8M301.7 80.2h0.8M291.3 77.2h0.8M308.3 83.8h0.8M299.5 86.2h0.8M293.4 79.0h0.8M304.9 78.2h0.8M292.2 82.6h0.8M308.8 67.8h0.8M299.9 73.9h0.8M297.2 73.1h0.8M314.9 76.6h0.8M299.3 76.5h0.8M292.9 77.6h0.8M300.3 88.1h0.8M300.8 87.2h0.8M292.5 80.1h0.8M296.3 72.4h0.8M321.8 78.7h0.8M300.5 76.2h0.8M295.5 74.9h0.8M305.3 77.9h0.8M298.1 80.7h0.8M291.5 80.9h0.8M298.0 81.9h0.8M296.6 80.0h0.8M302.2 84.4h0.8M294.8 84.4h0.8M293.0 78.9h0.8M299.8 80.5h0.8M297.9 84.2h0.8M294.7 87.0h0.8M288.0 80.2h0.8M302.3 79.9h0.8M300.6 84.2h0.8M294.1 82.6h0.8M305.5 78.7h0.8M293.8 74.8h0.8M301.6 76.0h0.8M314.2 82.5h0.8M291.0 78.4h0.8M308.4 83.0h0.8M292.8 84.7h0.8M295.6 82.6h0.8M302.5 77.7h0.8M298.1 85.3h0.8M302.1 79.5h0.8M301.7 88.1h0.8M304.7 82.1h0.8M301.0 72.4h0.8M299.8 77.5h0.8M303.5 76.9h0.8M301.7 74.8h0.8M304.5 76.3h0.8M298.8 82.5h0.8M297.0 79.8h0.8M305.5 88.2h0.8M287.9 75.5h0.8M303.1 84.3h0.8M296.1 80.2h0.8M297.8 74.2h0.8M289.5 73.7h0.8M307.0 78.0h0.8M310.9 82.8h0.8M301.3 82.9h0.8M303.8 84.2h0.8M293.0 77.2h0.8M295.6 80.3h0.8M297.5 74.0h0.8M294.7 88.3h0.8M312.0 75.7h0.8M301.3 79.6h0.8M293.8 83.2h0.8M298.6 87.7h0.8M301.8 78.3h0.8M304.2 76.4h0.8M304.4 83.0h0.8M288.2 78.9h0.8M301.0 83.4h0.8M299.9 79.7h0.8M296.9 78.4h0.8M299.0 74.8h0.8M302.9 78.3h0.8M302.2 77.4h0.8M301.5 80.4h0.8M304.5 82.0h0.8M304.7 79.0h0.8M298.7 78.6h0.8M291.3 79.2h0.8M305.7 83.5h0.8M293.8 81.2h0.8M303.6 73.4h0.8M301.1 81.4h0.8M303.6 81.0h0.8M288.3 70.3h0.8M311.2 77.9h0.8M306.8 85.8h0.8M299.5 74.4h0.8M307.4 79.6h0.8M302.2 82.1h0.8M304.8 84.6h0.8M290.3 73.1h0.8M299.9 79.8h0.8M303.8 79.2h0.8M297.9 89.4h0.8M307.4 85.3h0.8M305.3 76.1h0.8M298.5 79.5h0.8M292.3 75.7h0.8M300.0 74.1h0.8M302.3 82.0h0.8M297.6 78.2h0.8M302.7 82.1h0.8M301.2 74.0h0.8M289.1 89.5h0.8M295.0 78.1h0.8M287.8 76.0h0.8M294.5 83.6h0.8M296.5 77.5h0.8M294.3 77.7h0.8M289.3 81.1h0.8M306.3 80.5h0.8M295.7 85.8h0.8M302.0 74.9h0.8M295.5 76.9h0.8M298.7 85.5h0.8M294.7 79.1h0.8M299.7 74.2h0.8M296.1 82.7h0.8M305.9 71.0h0.8M303.3 78.4h0.8M306.9 82.7h0.8M311.1 81.3h0.8M296.6 75.9h0.8M290.2 82.4h0.8M302.2 83.7h0.8M301.1 72.7h0.8M296.5 78.7h0.8M300.0 83.4h0.8M307.7 81.1h0.8M286.4 75.0h0.8M291.7 80.9h0.8M297.6 85.1h0.8M305.6 77.7h0.8M304.8 79.9h0.8M301.8 86.2h0.8M292.0 79.5h0.8M308.4 76.2h0.8M300.3 80.4h0.8M296.5 73.6h0.8M294.8 75.2h0.8M305.6 81.0h0.8M303.3 74.2h0.8M302.1 80.5h0.8M305.4 76.4h0.8M304.0 86.3h0.8M310.0 75.4h0.8M292.1 72.9h0.8M304.9 82.6h0.8M301.1 75.7h0.8M306.7 87.4h0.8M298.8 79.2h0.8M306.3 82.2h0.8M307.2 77.9h0.8M301.1 78.2h0.8M295.5 78.4h0.8M297.3 82.2h0.8M297.1 80.1h0.8M294.0 74.0h0.8M307.8 75.2h0.8M310.1 84.2h0.8M296.5 79.9h0.8M297.9 77.0h0.8M306.7 79.2h0.8M304.9 76.6h0.8M294.8 86.1h0.8M297.3 74.6h0.8M298.0 84.7h0.8M298.0 76.4h0.8M302.9 84.4h0.8M297.7 78.3h0.8M297.9 88.0h0.8M298.1 81.7h0.8M286.5 80.6h0.8M299.3 78.3h0.8M296.5 73.4h0.8M289.9 80.6h0.8M295.1 79.4h0.8M297.9 77.4h0.8M294.6 88.5h0.8M292.3 77.4h0.8M297.2 74.4h0.8M293.1 83.9h0.8M304.7 80.4h0.8M318.9 83.7h0.8M306.6 76.0h0.8M305.6 87.7h0.8M296.7 88.3h0.8M294.1 74.5h0.8M298.7 76.0h0.8M302.9 74.6h0.8M299.5 70.6h0.8M298.8 84.7h0.8M297.4 81.3h0.8M305.7 74.7h0.8M291.2 80.2h0.8M300.7 78.5h0.8M293.1 85.5h0.8M291.9 78.6h0.8M298.8 83.2h0.8M296.3 76.0h0.8M311.3 75.8h0.8M303.9 79.1h0.8M296.1 79.6h0.8M297.5 81.3h0.8M299.5 75.2h0.8M310.3 82.8h0.8M300.4 78.4h0.8M307.5 77.7h0.8M294.0 83.0h0.8M293.1 76.1h0.8M307.9 72.3h0.8M298.6 80.4h0.8M300.6 73.0h0.8M297.6 78.2h0.8M310.8 84.5h0.8M294.4 83.9h0.8M303.0 79.3h0.8M297.5 78.5h0.8M289.6 76.9h0.8M304.8 86.6h0.8M310.4 78.0h0.8M302.8 68.5h0.8M297.4 73.9h0.8M304.1 72.0h0.8M292.7 74.6h0.8M301.5 83.7h0.8M293.4 88.3h0.8M300.0 75.9h0.8M301.2 79.7h0.8M304.1 81.4h0.8M312.4 85.3h0.8M295.1 83.5h0.8M303.7 75.1h0.8M294.4 76.0h0.8M297.7 85.6h0.8M295.6 80.2h0.8M303.5 84.3h0.8M301.0 74.9h0.8M312.5 83.9h0.8M307.4 87.4h0.8M307.6 81.7h0.8M301.9 82.8h0.8M289.8 83.6h0.8M293.1 81.8h0.8M292.9 83.2h0.8M300.2 82.2h0.8M293.5 78.5h0.8M298.7 78.5h0.8M296.4 75.7h0.8M303.7 78.0h0.8M294.1 81.5h0.8M294.1 79.0h0.8M295.9 75.5h0.8M297.7 76.0h0.8M291.4 81.5h0.8M297.2 73.0h0.8M296.6 80.7h0.8M301.7 81.6h0.8M300.6 82.6h0.8M296.0 76.1h0.8M302.8 77.9h0.8M299.1 82.9h0.8M304.8 85.5h0.8M294.8 78.1h0.8M302.4 73.1h0.8M291.4 82.6h0.8M295.3 75.5h0.8M304.0 82.3h0.8M304.7 78.3h0.8M297.3 78.2h0.8M300.9 70.3h0.8M294.8 83.1h0.8M294.3 79.5h0.8M299.8 82.2h0.8M296.1 74.5h0.8M314.3 76.5h0.8M309.5 71.6h0.8M299.7 78.9h0.8M310.6 89.3h0.8M305.0 75.1h0.8M294.1 76.3h0.8M295.9 81.0h0.8M294.3 78.7h0.8M308.0 86.5h0.8M287.7 75.4h0.8M296.8 85.9h0.8M297.0 88.7h0.8M301.3 86.5h0.8M293.8 78.4h0.8M305.3 82.5h0.8M287.7 78.5h0.8M300.2 82.7h0.8M295.2 87.9h0.8M300.0 86.6h0.8M301.5 80.2h0.8M297.1 74.4h0.8M304.3 83.3h0.8M304.7 78.1h0.8M292.9 78.0h0.8M297.2 79.8h0.8M305.1 75.6h0.8M296.1 83.0h0.8M302.3 75.9h0.8M292.7 76.1h0.8M299.5 81.0h0.8M298.7 77.0h0.8M297.9 79.4h0.8M302.7 80.2h0.8M294.1 74.4h0.8M308.1 79.4h0.8M298.0 79.7h0.8M305.9 78.4h0.8M300.1 78.7h0.8M302.6 75.1h0.8M300.3 84.6h0.8M306.3 82.7h0.8M300.9 87.1h0.8M303.4 86.3h0.8M291.8 74.7h0.8M303.9 78.6h0.8M296.4 75.4h0.8M308.1 74.3h0.8M299.7 73.3h0.8M313.9 77.5h0.8M292.9 87.4h0.8M293.9 71.5h0.8M301.2 74.8h0.8M290.3 85.0h0.8M294.6 74.9h0.8M300.1 78.9h0.8M305.9 80.3h0.8M308.8 85.1h0.8M309.9 85.0h0.8M299.5 82.3h0.8M299.2 72.6h0.8M291.9 83.3h0.8M291.3 79.5h0.8M292.8 81.0h0.8M297.9 77.6h0.8M293.9 69.5h0.8M299.5 73.8h0.8M297.3 81.5h0.8M305.5 83.1h0.8M308.1 73.2h0.8M303.2 87.1h0.8M301.5 74.7h0.8M301.5 77.4h0.8M295.2 84.8h0.8M298.0 74.6h0.8M295.0 88.9h0.8M294.0 82.9h0.8M300.2 85.2h0.8M297.4 75.4h0.8M295.2 75.0h0.8M314.8 80.7h0.8M297.2 85.7h0.8M303.1 79.0h0.8M302.9 81.1h0.8M305.9 87.5h0.8M297.2 79.6h0.8M298.0 85.5h0.8M301.4 83.5h0.8M304.6 76.9h0.8M299.9 86.2h0.8M304.7 83.6h0.8M297.4 78.1h0.8M293.9 78.6h0.8M298.7 73.2h0.8M306.1 76.3h0.8M300.6 82.6h0.8M295.8 71.4h0.8M304.9 81.7h0.8M297.6 85.1h0.8M304.5 75.4h0.8M298.6 71.6h0.8M297.5 86.4h0.8M294.0 83.6h0.8M290.0 78.4h0.8M304.8 87.8h0.8M301.8 83.3h0.8M309.5 68.5h0.8M288.8 88.6h0.8M314.0 82.6h0.8M299.5 81.0h0.8M299.3 77.0h0.8M299.0 79.2h0.8M303.2 83.0h0.8M305.0 82.5h0.8M293.2 86.3h0.8M301.1 77.4h0.8M310.4 74.7h0.8M292.0 77.5h0.8M301.6 83.5h0.8M299.8 82.9h0.8M294.9 77.0h0.8M299.9 73.6h0.8M300.2 78.0h0.8M303.2 75.1h0.8M295.9 77.2h0.8M296.9 75.2h0.8M297.5 73.5h0.8M302.3 82.9h0.8M299.0 78.9h0.8M293.7 75.4h0.8M297.8 75.6h0.8M292.0 80.6h0.8M299.0 77.9h0.8M294.2 79.6h0.8M294.9 77.8h0.8M300.2 83.2h0.8M303.7 77.0h0.8M306.4 74.4h0.8M298.1 85.9h0.8M313.4 80.4h0.8M296.9 78.1h0.8M291.8 79.1h0.8M296.6 76.3h0.8M306.3 76.2h0.8M309.3 83.7h0.8M303.0 77.1h0.8M296.0 70.6h0.8M300.7 78.6h0.8M301.4 76.7h0.8M302.0 72.9h0.8M305.6 65.2h0.8M306.8 78.2h0.8M298.1 72.7h0.8M293.1 83.1h0.8M294.7 79.6h0.8M298.2 89.0h0.8M304.4 73.7h0.8M296.2 74.5h0.8M290.8 76.6h0.8M305.7 80.0h0.8M303.1 79.2h0.8M296.6 80.2h0.8M298.6 88.7h0.8M309.9 81.6h0.8M302.7 70.6h0.8M294.3 83.6h0.8M306.4 78.0h0.8M297.7 77.7h0.8M303.9 79.9h0.8M308.1 85.3h0.8M297.2 77.0h0.8M297.7 75.7h0.8M296.6 79.5h0.8M304.4 72.5h0.8M290.7 76.2h0.8M297.3 81.9h0.8M294.4 86.8h0.8M295.9 78.8h0.8M299.4 85.2h0.8M300.9 79.9h0.8M295.8 80.6h0.8M301.5 78.2h0.8M299.0 71.3h0.8M295.9 85.3h0.8M307.6 79.5h0.8M296.6 84.5h0.8M295.4 86.2h0.8M306.0 74.9h0.8M297.7 74.2h0.8M300.7 77.9h0.8M290.1 74.9h0.8M300.5 72.7h0.8M305.5 81.9h0.8M298.0 86.3h0.8M293.5 83.0h0.8M291.0 78.3h0.8M302.9 77.3h0.8M298.4 82.8h0.8M308.2 85.9h0.8M301.8 78.6h0.8M290.4 87.8h0.8M310.3 69.8h0.8M304.3 79.6h0.8M303.3 81.3h0.8M297.9 79.8h0.8M298.8 85.2h0.8M297.5 77.3h0.8M303.0 82.8h0.8M301.7 81.1h0.8M307.9 85.0h0.8M300.3 78.8h0.8M303.0 71.1h0.8M295.9 76.5h0.8M300.1 78.0h0.8M313.8 83.2h0.8M299.1 78.3h0.8M306.4 83.7h0.8M304.6 85.4h0.8M296.9 76.7h0.8M294.8 80.3h0.8M305.0 74.9h0.8M295.9 73.6h0.8M311.0 83.5h0.8M300.4 74.1h0.8M292.9 76.8h0.8M299.3 73.9h0.8M297.7 85.5h0.8M299.1 80.3h0.8M286.6 78.5h0.8M298.2 76.6h0.8M290.8 79.5h0.8M293.0 77.3h0.8M289.5 79.4h0.8M304.5 75.9h0.8M301.0 72.7h0.8M302.5 82.3h0.8M296.7 83.9h0.8M293.8 80.0h0.8M309.1 79.7h0.8M292.4 85.2h0.8M302.3 78.5h0.8M288.2 71.0h0.8M290.0 86.7h0.8M300.8 75.8h0.8M305.9 86.7h0.8M294.0 82.1h0.8M289.3 81.5h0.8M309.9 73.2h0.8M299.4 76.8h0.8M298.5 80.2h0.8M300.7 84.0h0.8M302.1 84.7h0.8M305.1 84.9h0.8M295.0 81.7h0.8M296.8 75.9h0.8M310.7 81.2h0.8M299.3 70.0h0.8M297.7 83.4h0.8M297.8 77.3h0.8M307.8 78.3h0.8M297.1 79.3h0.8M297.6 84.7h0.8M302.4 79.5h0.8M296.9 78.7h0.8M309.1 78.4h0.8M302.9 72.4h0.8M301.0 83.0h0.8M306.6 81.3h0.8M302.5 81.3h0.8M305.4 89.4h0.8M300.3 76.0h0.8M302.6 79.3h0.8M302.9 83.4h0.8M300.0 77.7h0.8M300.9 74.0h0.8M300.7 75.7h0.8M301.7 80.4h0.8M297.8 74.2h0.8M299.4 76.6h0.8M298.2 83.1h0.8M304.7 73.8h0.8M304.6 86.2h0.8M305.7 81.1h0.8M298.5 88.0h0.8M297.2 72.7h0.8M299.6 81.1h0.8M292.9 74.1h0.8M310.8 80.3h0.8M303.7 77.1h0.8M290.1 79.0h0.8M307.0 76.7h0.8M288.4 79.0h0.8M297.4 79.9h0.8M292.9 78.3h0.8M295.8 83.9h0.8M300.0 83.9h0.8M298.8 69.8h0.8M287.5 82.3h0.8M304.3 83.9h0.8M298.6 71.4h0.8M296.1 81.7h0.8M307.2 78.2h0.8M295.7 76.2h0.8M305.1 83.9h0.8M288.2 85.5h0.8M293.6 72.9h0.8M289.6 76.4h0.8M291.7 76.7h0.8M300.0 81.7h0.8M296.2 72.4h0.8M296.6 76.6h0.8M288.4 80.5h0.8M290.4 71.7h0.8M308.1 84.2h0.8M307.7 80.4h0.8M296.6 79.4h0.8M291.0 83.3h0.8M300.7 78.4h0.8M288.0 79.3h0.8M308.7 86.6h0.8M304.3 78.2h0.8M299.9 82.4h0.8M300.2 84.7h0.8M295.1 68.9h0.8M290.9 82.9h0.8M305.5 79.8h0.8M302.3 80.2h0.8M300.1 77.6h0.8M296.7 85.4h0.8M297.5 79.6h0.8M306.2 84.4h0.8M296.7 81.0h0.8M293.1 80.4h0.8M300.9 79.8h0.8M300.0 81.5h0.8M299.5 77.5h0.8M293.3 78.7h0.8M308.6 78.7h0.8M295.2 77.6h0.8M292.0 82.1h0.8M293.2 84.1h0.8M304.5 82.5h0.8M305.2 79.4h0.8M288.6 79.5h0.8M302.9 72.6h0.8M291.8 84.9h0.8M301.7 86.1h0.8M303.0 80.1h0.8M301.6 83.8h0.8M298.9 78.8h0.8M300.9 78.3h0.8M313.4 76.2h0.8M290.1 73.7h0.8M305.3 77.9h0.8M300.0 78.8h0.8M300.7 73.0h0.8M299.6 77.1h0.8M305.5 82.7h0.8M291.6 75.3h0.8M302.5 85.4h0.8M303.6 79.1h0.8M305.7 68.7h0.8M295.9 75.2h0.8M292.9 82.4h0.8M300.7 81.1h0.8M298.3 82.7h0.8M303.7 77.1h0.8M304.7 75.4h0.8M309.6 73.7h0.8M297.4 74.7h0.8M299.3 86.0h0.8M294.6 88.1h0.8M307.5 81.6h0.8M295.6 84.0h0.8M304.8 79.6h0.8M313.9 76.6h0.8M291.1 78.8h0.8M302.5 87.8h0.8M288.5 80.5h0.8M306.6 76.6h0.8M296.4 74.1h0.8M303.7 83.7h0.8M302.6 81.0h0.8M305.0 79.2h0.8M303.4 83.7h0.8M306.9 82.2h0.8M299.6 83.1h0.8M289.8 71.5h0.8M308.8 80.4h0.8M292.8 77.1h0.8M298.2 80.1h0.8M294.5 84.5h0.8M292.6 87.6h0.8M303.1 71.9h0.8M291.7 80.1h0.8M300.7 77.8h0.8M299.2 80.6h0.8M292.2 80.1h0.8M312.8 76.8h0.8M293.0 82.9h0.8M307.2 84.7h0.8M295.3 79.5h0.8M300.3 78.8h0.8M301.5 84.9h0.8M302.4 79.8h0.8M297.9 88.2h0.8M291.6 89.3h0.8M303.5 80.2h0.8M294.6 88.5h0.8M306.4 84.1h0.8M311.7 71.3h0.8M299.7 78.3h0.8M294.7 80.2h0.8M302.3 82.3h0.8M298.2 73.5h0.8M302.5 82.7h0.8M312.0 84.2h0.8M299.2 74.4h0.8M315.6 76.6h0.8M300.3 83.3h0.8M302.1 86.1h0.8M292.8 76.5h0.8M300.1 74.0h0.8M295.4 86.4h0.8M300.9 79.3h0.8M295.6 80.0h0.8M298.9 74.7h0.8M303.9 73.7h0.8M306.9 78.2h0.8" stroke="#000" stroke-width="0.8" stroke-opacity="0.5" fill="none"/>
<path d="M287.5 56.6h0.8M298.6 60.3h0.8M305.2 72.5h0.8M306.5 69.9h0.8M303.2 61.7h0.8M303.0 62.6h0.8M297.1 57.6h0.8M297.6 67.2h0.8M297.1 59.0h0.8M301.3 70.0h0.8M297.0 69.3h0.8M301.6 59.6h0.8M297.2 54.9h0.8M292.9 67.3h0.8M293.5 67.1h0.8M298.9 53.8h0.8M295.2 73.3h0.8M297.4 65.7h0.8M294.3 56.3h0.8M290.4 80.7h0.8M296.6 60.3h0.8M297.8 54.4h0.8M303.5 74.4h0.8M294.1 66.8h0.8M293.4 69.7h0.8M293.7 64.2h0.8M303.1 67.9h0.8M295.9 56.7h0.8M290.4 71.6h0.8M299.6 65.3h0.8M302.9 65.8h0.8M294.2 64.4h0.8M296.9 64.9h0.8M308.3 68.2h0.8M298.6 63.6h0.8M294.4 59.6h0.8M289.1 62.5h0.8M290.7 54.9h0.8M293.2 53.9h0.8M303.4 71.8h0.8M293.1 76.2h0.8M300.3 51.2h0.8M297.4 59.5h0.8M289.7 63.6h0.8M302.4 67.4h0.8M290.9 61.4h0.8M294.0 71.3h0.8M296.9 59.6h0.8M293.3 54.2h0.8M293.6 69.9h0.8M288.9 66.1h0.8M296.8 69.5h0.8M292.3 70.0h0.8M304.2 77.6h0.8M290.2 64.8h0.8M296.4 65.7h0.8M293.0 69.7h0.8M307.7 73.3h0.8M293.1 61.8h0.8M300.6 65.7h0.8M294.0 71.8h0.8M299.6 70.6h0.8M296.6 72.0h0.8M295.3 58.9h0.8M297.3 57.3h0.8M302.9 69.0h0.8M289.9 65.9h0.8M301.1 63.0h0.8M299.2 61.8h0.8M297.0 64.5h0.8M299.5 59.7h0.8M292.3 66.8h0.8M295.1 67.9h0.8M295.1 57.8h0.8M300.6 66.5h0.8M300.6 63.1h0.8M295.7 72.0h0.8M289.9 74.6h0.8M299.6 64.7h0.8M297.7 68.3h0.8M293.9 66.5h0.8M293.1 54.8h0.8M298.2 65.5h0.8M300.2 68.1h0.8M300.4 69.4h0.8M292.7 71.7h0.8M309.2 61.9h0.8M291.8 68.8h0.8M301.4 70.6h0.8M304.1 57.4h0.8M299.0 67.6h0.8M302.8 60.1h0.8M297.4 63.0h0.8M296.6 64.2h0.8M296.7 55.2h0.8M297.2 65.4h0.8M295.6 45.4h0.8M294.2 61.4h0.8M293.5 73.8h0.8M301.4 64.0h0.8M300.0 83.2h0.8M293.0 67.6h0.8M294.7 73.2h0.8M302.2 64.3h0.8M300.0 60.6h0.8M290.3 69.7h0.8M304.6 63.3h0.8M295.0 55.1h0.8M306.8 58.4h0.8M293.0 63.9h0.8M302.7 65.3h0.8M297.2 65.1h0.8M301.1 64.8h0.8M298.0 64.6h0.8M292.4 72.4h0.8M294.2 57.7h0.8M295.4 65.2h0.8M300.9 56.9h0.8M291.7 66.0h0.8M299.0 58.9h0.8M292.3 66.0h0.8M296.7 56.1h0.8M293.4 73.2h0.8M292.6 70.8h0.8M290.5 73.2h0.8M304.4 61.5h0.8M294.3 68.5h0.8M291.8 68.0h0.8M302.7 66.5h0.8M298.7 64.1h0.8M301.7 60.5h0.8M304.3 64.9h0.8M295.9 56.0h0.8M295.4 66.3h0.8M302.8 56.1h0.8M296.7 61.2h0.8M292.0 65.0h0.8M293.9 69.8h0.8M288.9 54.2h0.8M299.6 63.1h0.8M297.9 59.7h0.8M292.7 60.9h0.8M297.1 60.4h0.8M295.4 60.2h0.8M298.3 58.7h0.8M288.1 50.5h0.8M297.2 65.5h0.8M301.6 60.9h0.8M292.3 56.8h0.8M300.7 61.5h0.8M301.7 64.6h0.8M296.1 54.7h0.8M294.3 69.4h0.8M294.6 68.7h0.8M290.0 70.6h0.8M309.6 71.2h0.8M298.7 58.2h0.8M295.0 61.4h0.8M298.1 53.9h0.8M293.5 69.4h0.8M297.9 69.1h0.8M301.1 58.7h0.8M291.4 67.6h0.8M297.5 65.4h0.8M293.7 70.6h0.8M299.5 71.3h0.8M295.7 68.8h0.8M297.0 59.8h0.8M296.9 55.9h0.8M296.5 66.0h0.8M300.4 59.2h0.8M291.4 61.0h0.8M288.2 61.4h0.8M308.9 65.8h0.8M293.9 61.2h0.8M305.1 58.6h0.8M296.8 64.6h0.8M294.1 61.0h0.8M289.9 60.4h0.8M303.0 72.8h0.8M296.1 68.9h0.8M299.3 65.6h0.8M296.7 71.7h0.8M299.8 63.8h0.8M296.3 70.2h0.8M294.7 61.0h0.8M296.1 62.3h0.8M302.9 67.0h0.8M296.9 62.1h0.8M303.5 67.4h0.8M306.5 70.0h0.8M296.4 62.0h0.8M296.0 66.0h0.8M300.8 67.7h0.8M304.2 56.6h0.8M297.4 57.2h0.8M292.8 61.7h0.8M294.4 59.6h0.8M290.6 71.3h0.8M295.9 70.3h0.8M292.4 52.2h0.8M294.7 69.9h0.8M294.8 67.2h0.8M292.5 72.7h0.8M299.2 70.8h0.8M296.1 72.1h0.8M297.6 62.3h0.8M294.5 65.3h0.8M293.3 58.4h0.8M297.9 68.9h0.8M296.0 69.6h0.8M304.3 58.0h0.8M298.4 59.7h0.8M294.5 66.0h0.8M286.8 68.3h0.8M301.0 68.0h0.8M300.2 75.0h0.8M295.7 71.0h0.8M303.7 67.7h0.8M289.4 64.1h0.8M296.0 56.1h0.8M297.0 69.2h0.8M296.2 64.0h0.8M303.8 61.6h0.8M293.1 65.2h0.8M302.2 68.3h0.8M297.6 62.3h0.8M302.7 69.9h0.8M289.6 66.8h0.8M286.7 73.2h0.8M300.0 61.5h0.8M291.6 63.3h0.8M289.6 68.1h0.8M295.0 55.2h0.8M297.2 71.5h0.8M291.7 63.0h0.8M305.3 66.0h0.8M294.8 66.0h0.8M300.7 59.5h0.8M296.9 56.0h0.8M290.3 56.5h0.8M301.0 66.7h0.8M300.5 71.7h0.8M297.5 66.3h0.8M299.1 67.6h0.8M292.6 63.5h0.8M296.6 65.2h0.8M294.0 64.3h0.8M298.6 66.0h0.8M299.9 69.5h0.8M299.8 70.3h0.8M301.0 72.7h0.8M300.1 61.6h0.8M307.6 71.2h0.8M302.8 69.0h0.8M297.5 58.7h0.8M299.2 63.0h0.8M295.5 53.2h0.8M304.1 58.6h0.8M292.4 67.6h0.8M299.8 60.6h0.8M297.3 66.4h0.8M298.0 67.9h0.8M300.7 63.0h0.8M290.1 76.9h0.8M295.6 59.5h0.8M300.6 68.2h0.8M294.6 78.0h0.8M286.9 72.1h0.8M297.1 66.7h0.8M298.7 63.7h0.8M298.7 57.8h0.8M295.5 75.2h0.8M287.4 60.3h0.8M301.2 62.7h0.8M294.7 56.7h0.8M296.8 64.0h0.8M294.5 56.4h0.8M298.0 67.3h0.8M302.3 67.8h0.8M304.0 71.6h0.8M296.8 59.2h0.8M299.2 70.3h0.8M290.5 58.2h0.8M300.3 61.9h0.8M303.7 66.2h0.8M294.9 57.7h0.8M299.9 55.5h0.8M291.5 57.8h0.8M304.8 74.4h0.8M296.3 62.9h0.8M300.4 71.9h0.8M293.7 77.1h0.8M296.4 71.2h0.8M286.9 64.7h0.8M294.2 75.9h0.8M296.3 58.0h0.8" stroke="#000" stroke-width="0.8" stroke-opacity="0.45" fill="none"/>
<path d="M338.2 50.2h0.7M331.2 48.4h0.7M333.6 53.0h0.7M330.2 51.1h0.7M329.1 50.1h0.7M326.1 56.3h0.7M334.4 47.9h0.7M327.0 53.7h0.7M339.4 51.7h0.7M330.1 51.6h0.7M332.1 51.8h0.7M335.1 55.6h0.7M333.2 57.5h0.7M330.4 50.6h0.7M342.0 46.2h0.7M325.6 44.8h0.7M332.5 49.0h0.7M335.0 45.7h0.7M330.7 51.1h0.7M327.3 56.0h0.7M329.8 53.8h0.7M329.3 52.9h0.7M329.6 52.6h0.7M330.8 50.2h0.7M332.8 51.8h0.7M327.7 49.0h0.7M332.8 56.7h0.7M326.5 51.1h0.7M332.8 55.7h0.7M333.8 48.6h0.7M331.3 55.3h0.7M332.1 51.7h0.7M326.9 52.9h0.7M331.0 52.5h0.7M336.6 56.2h0.7M328.3 53.1h0.7M330.1 52.7h0.7M337.1 55.3h0.7M331.3 50.3h0.7M330.6 53.6h0.7M329.4 55.9h0.7M331.3 48.6h0.7M338.6 43.1h0.7M330.2 52.0h0.7M334.8 56.0h0.7M336.5 57.4h0.7M332.3 52.8h0.7M334.9 52.3h0.7M326.6 50.9h0.7M333.6 54.4h0.7M327.2 56.2h0.7M332.3 47.6h0.7M332.9 55.6h0.7M333.1 51.4h0.7M328.3 56.0h0.7M332.0 52.4h0.7M329.8 49.1h0.7M324.4 51.3h0.7M335.2 54.8h0.7M328.7 57.3h0.7M330.4 49.2h0.7M334.7 56.8h0.7M329.8 48.5h0.7M331.0 44.6h0.7M331.4 57.3h0.7M332.2 50.0h0.7M333.8 50.8h0.7M335.8 51.2h0.7M338.6 51.3h0.7M331.9 49.4h0.7M326.6 53.5h0.7M332.5 49.3h0.7M333.2 51.1h0.7M329.2 52.2h0.7M332.6 54.7h0.7M335.7 53.6h0.7M328.6 50.2h0.7M332.5 48.6h0.7M330.6 51.2h0.7M330.8 53.0h0.7M335.0 57.7h0.7M334.4 55.6h0.7M327.3 55.7h0.7M335.9 48.1h0.7M340.3 50.6h0.7M322.6 58.1h0.7M331.4 49.8h0.7M329.1 55.8h0.7M332.1 51.2h0.7M335.4 49.4h0.7M328.1 50.6h0.7M328.5 54.6h0.7M330.4 49.0h0.7M329.5 46.0h0.7M331.8 52.7h0.7M333.4 51.6h0.7M332.6 49.4h0.7M331.3 52.9h0.7M326.8 54.3h0.7M331.7 52.6h0.7M329.5 58.8h0.7M331.2 49.9h0.7M328.1 54.3h0.7M330.4 49.9h0.7M328.6 55.4h0.7M331.5 55.8h0.7M331.1 48.6h0.7M334.3 53.4h0.7M328.8 51.4h0.7M327.7 55.1h0.7M329.7 53.9h0.7M332.1 51.6h0.7M332.5 51.6h0.7M326.9 51.1h0.7M326.9 54.8h0.7M333.5 50.5h0.7M333.4 53.2h0.7M334.7 49.4h0.7M331.3 49.2h0.7M328.7 56.8h0.7M324.0 49.5h0.7M333.0 54.9h0.7M328.4 45.9h0.7M325.0 53.6h0.7M335.2 55.3h0.7" stroke="#000" stroke-width="0.7" stroke-opacity="0.5" fill="none"/>
<path d="M331.8 83.1h0.6M341.6 78.7h0.6M341.5 84.6h0.6M335.7 62.1h0.6M339.3 76.1h0.6M350.0 70.7h0.6M340.8 68.2h0.6M340.8 75.5h0.6M349.3 84.9h0.6M309.0 78.1h0.6M352.8 68.1h0.6M346.3 75.0h0.6M326.9 79.3h0.6M379.4 79.0h0.6" stroke="#000" stroke-width="0.6" stroke-opacity="0.25" fill="none"/>
<line x1="282.70" y1="9.50" x2="285.50" y2="9.50" stroke="#333" stroke-width="0.9"/>
<line x1="283.90" y1="23.65" x2="285.50" y2="23.65" stroke="#333" stroke-width="0.65"/>
<line x1="283.90" y1="20.09" x2="285.50" y2="20.09" stroke="#333" stroke-width="0.65"/>
<line x1="283.90" y1="17.56" x2="285.50" y2="17.56" stroke="#333" stroke-width="0.65"/>
<line x1="283.90" y1="15.60" x2="285.50" y2="15.60" stroke="#333" stroke-width="0.65"/>
<line x1="283.90" y1="13.99" x2="285.50" y2="13.99" stroke="#333" stroke-width="0.65"/>
<line x1="283.90" y1="12.64" x2="285.50" y2="12.64" stroke="#333" stroke-width="0.65"/>
<line x1="283.90" y1="11.46" x2="285.50" y2="11.46" stroke="#333" stroke-width="0.65"/>
<line x1="283.90" y1="10.43" x2="285.50" y2="10.43" stroke="#333" stroke-width="0.65"/>
<text x="276.90" y="10.60" font-size="3.0" style="fill:#222">10</text>
<text x="280.20" y="9.40" font-size="2.1" style="fill:#222">4</text>
<line x1="282.70" y1="29.75" x2="285.50" y2="29.75" stroke="#333" stroke-width="0.9"/>
<line x1="283.90" y1="43.90" x2="285.50" y2="43.90" stroke="#333" stroke-width="0.65"/>
<line x1="283.90" y1="40.34" x2="285.50" y2="40.34" stroke="#333" stroke-width="0.65"/>
<line x1="283.90" y1="37.81" x2="285.50" y2="37.81" stroke="#333" stroke-width="0.65"/>
<line x1="283.90" y1="35.85" x2="285.50" y2="35.85" stroke="#333" stroke-width="0.65"/>
<line x1="283.90" y1="34.24" x2="285.50" y2="34.24" stroke="#333" stroke-width="0.65"/>
<line x1="283.90" y1="32.89" x2="285.50" y2="32.89" stroke="#333" stroke-width="0.65"/>
<line x1="283.90" y1="31.71" x2="285.50" y2="31.71" stroke="#333" stroke-width="0.65"/>
<line x1="283.90" y1="30.68" x2="285.50" y2="30.68" stroke="#333" stroke-width="0.65"/>
<text x="276.90" y="30.85" font-size="3.0" style="fill:#222">10</text>
<text x="280.20" y="29.65" font-size="2.1" style="fill:#222">3</text>
<line x1="282.70" y1="50.00" x2="285.50" y2="50.00" stroke="#333" stroke-width="0.9"/>
<line x1="283.90" y1="64.15" x2="285.50" y2="64.15" stroke="#333" stroke-width="0.65"/>
<line x1="283.90" y1="60.59" x2="285.50" y2="60.59" stroke="#333" stroke-width="0.65"/>
<line x1="283.90" y1="58.06" x2="285.50" y2="58.06" stroke="#333" stroke-width="0.65"/>
<line x1="283.90" y1="56.10" x2="285.50" y2="56.10" stroke="#333" stroke-width="0.65"/>
<line x1="283.90" y1="54.49" x2="285.50" y2="54.49" stroke="#333" stroke-width="0.65"/>
<line x1="283.90" y1="53.14" x2="285.50" y2="53.14" stroke="#333" stroke-width="0.65"/>
<line x1="283.90" y1="51.96" x2="285.50" y2="51.96" stroke="#333" stroke-width="0.65"/>
<line x1="283.90" y1="50.93" x2="285.50" y2="50.93" stroke="#333" stroke-width="0.65"/>
<text x="276.90" y="51.10" font-size="3.0" style="fill:#222">10</text>
<text x="280.20" y="49.90" font-size="2.1" style="fill:#222">2</text>
<line x1="282.70" y1="70.25" x2="285.50" y2="70.25" stroke="#333" stroke-width="0.9"/>
<line x1="283.90" y1="84.40" x2="285.50" y2="84.40" stroke="#333" stroke-width="0.65"/>
<line x1="283.90" y1="80.84" x2="285.50" y2="80.84" stroke="#333" stroke-width="0.65"/>
<line x1="283.90" y1="78.31" x2="285.50" y2="78.31" stroke="#333" stroke-width="0.65"/>
<line x1="283.90" y1="76.35" x2="285.50" y2="76.35" stroke="#333" stroke-width="0.65"/>
<line x1="283.90" y1="74.74" x2="285.50" y2="74.74" stroke="#333" stroke-width="0.65"/>
<line x1="283.90" y1="73.39" x2="285.50" y2="73.39" stroke="#333" stroke-width="0.65"/>
<line x1="283.90" y1="72.21" x2="285.50" y2="72.21" stroke="#333" stroke-width="0.65"/>
<line x1="283.90" y1="71.18" x2="285.50" y2="71.18" stroke="#333" stroke-width="0.65"/>
<text x="276.90" y="71.35" font-size="3.0" style="fill:#222">10</text>
<text x="280.20" y="70.15" font-size="2.1" style="fill:#222">1</text>
<line x1="309.25" y1="90.50" x2="309.25" y2="93.30" stroke="#333" stroke-width="0.9"/>
<line x1="292.65" y1="90.50" x2="292.65" y2="92.10" stroke="#333" stroke-width="0.65"/>
<line x1="296.83" y1="90.50" x2="296.83" y2="92.10" stroke="#333" stroke-width="0.65"/>
<line x1="299.80" y1="90.50" x2="299.80" y2="92.10" stroke="#333" stroke-width="0.65"/>
<line x1="302.10" y1="90.50" x2="302.10" y2="92.10" stroke="#333" stroke-width="0.65"/>
<line x1="303.98" y1="90.50" x2="303.98" y2="92.10" stroke="#333" stroke-width="0.65"/>
<line x1="305.57" y1="90.50" x2="305.57" y2="92.10" stroke="#333" stroke-width="0.65"/>
<line x1="306.95" y1="90.50" x2="306.95" y2="92.10" stroke="#333" stroke-width="0.65"/>
<line x1="308.16" y1="90.50" x2="308.16" y2="92.10" stroke="#333" stroke-width="0.65"/>
<text x="307.65" y="97.10" font-size="3.2" style="fill:#222">10</text>
<text x="311.15" y="95.80" font-size="2.2" style="fill:#222">1</text>
<line x1="333.00" y1="90.50" x2="333.00" y2="93.30" stroke="#333" stroke-width="0.9"/>
<line x1="316.40" y1="90.50" x2="316.40" y2="92.10" stroke="#333" stroke-width="0.65"/>
<line x1="320.58" y1="90.50" x2="320.58" y2="92.10" stroke="#333" stroke-width="0.65"/>
<line x1="323.55" y1="90.50" x2="323.55" y2="92.10" stroke="#333" stroke-width="0.65"/>
<line x1="325.85" y1="90.50" x2="325.85" y2="92.10" stroke="#333" stroke-width="0.65"/>
<line x1="327.73" y1="90.50" x2="327.73" y2="92.10" stroke="#333" stroke-width="0.65"/>
<line x1="329.32" y1="90.50" x2="329.32" y2="92.10" stroke="#333" stroke-width="0.65"/>
<line x1="330.70" y1="90.50" x2="330.70" y2="92.10" stroke="#333" stroke-width="0.65"/>
<line x1="331.91" y1="90.50" x2="331.91" y2="92.10" stroke="#333" stroke-width="0.65"/>
<text x="331.40" y="97.10" font-size="3.2" style="fill:#222">10</text>
<text x="334.90" y="95.80" font-size="2.2" style="fill:#222">2</text>
<line x1="356.75" y1="90.50" x2="356.75" y2="93.30" stroke="#333" stroke-width="0.9"/>
<line x1="340.15" y1="90.50" x2="340.15" y2="92.10" stroke="#333" stroke-width="0.65"/>
<line x1="344.33" y1="90.50" x2="344.33" y2="92.10" stroke="#333" stroke-width="0.65"/>
<line x1="347.30" y1="90.50" x2="347.30" y2="92.10" stroke="#333" stroke-width="0.65"/>
<line x1="349.60" y1="90.50" x2="349.60" y2="92.10" stroke="#333" stroke-width="0.65"/>
<line x1="351.48" y1="90.50" x2="351.48" y2="92.10" stroke="#333" stroke-width="0.65"/>
<line x1="353.07" y1="90.50" x2="353.07" y2="92.10" stroke="#333" stroke-width="0.65"/>
<line x1="354.45" y1="90.50" x2="354.45" y2="92.10" stroke="#333" stroke-width="0.65"/>
<line x1="355.66" y1="90.50" x2="355.66" y2="92.10" stroke="#333" stroke-width="0.65"/>
<text x="355.15" y="97.10" font-size="3.2" style="fill:#222">10</text>
<text x="358.65" y="95.80" font-size="2.2" style="fill:#222">3</text>
<line x1="380.50" y1="90.50" x2="380.50" y2="93.30" stroke="#333" stroke-width="0.9"/>
<line x1="363.90" y1="90.50" x2="363.90" y2="92.10" stroke="#333" stroke-width="0.65"/>
<line x1="368.08" y1="90.50" x2="368.08" y2="92.10" stroke="#333" stroke-width="0.65"/>
<line x1="371.05" y1="90.50" x2="371.05" y2="92.10" stroke="#333" stroke-width="0.65"/>
<line x1="373.35" y1="90.50" x2="373.35" y2="92.10" stroke="#333" stroke-width="0.65"/>
<line x1="375.23" y1="90.50" x2="375.23" y2="92.10" stroke="#333" stroke-width="0.65"/>
<line x1="376.82" y1="90.50" x2="376.82" y2="92.10" stroke="#333" stroke-width="0.65"/>
<line x1="378.20" y1="90.50" x2="378.20" y2="92.10" stroke="#333" stroke-width="0.65"/>
<line x1="379.41" y1="90.50" x2="379.41" y2="92.10" stroke="#333" stroke-width="0.65"/>
<text x="378.90" y="97.10" font-size="3.2" style="fill:#222">10</text>
<text x="382.40" y="95.80" font-size="2.2" style="fill:#222">4</text>
<rect x="285.50" y="9.50" width="95.00" height="81.00" fill="none" stroke="#666" stroke-width="1.0"/>
<line x1="311.50" y1="9.50" x2="311.50" y2="90.50" stroke="#3a3a3a" stroke-width="1.0"/>
<line x1="285.50" y1="63.50" x2="380.50" y2="63.50" stroke="#3a3a3a" stroke-width="1.0"/>
<rect x="320.50" y="41.50" width="26.00" height="21.00" fill="none" stroke="#333" stroke-width="0.8"/>
<text x="265.40" y="56.40" font-size="9.4" font-weight="bold" textLength="16.80" lengthAdjust="spacingAndGlyphs" transform="rotate(-90 265.40 56.40)" stroke="#111" stroke-width="0.3">CD8</text>
<text x="309.00" y="110.40" font-size="9.4" font-weight="bold" textLength="52.80" lengthAdjust="spacingAndGlyphs" stroke="#111" stroke-width="0.3">Tetramer-PE</text>
<text x="0.50" y="131.70" font-size="10.8" font-weight="bold" stroke="#111" stroke-width="0.3">C</text>
<line x1="31.30" y1="148.50" x2="31.30" y2="254.20" stroke="#111" stroke-width="1.3"/>
<line x1="30.70" y1="254.20" x2="508.00" y2="254.20" stroke="#111" stroke-width="1.3"/>
<path d="M31.3 141.8 L27.6 150.0 L35.0 150.0 Z" fill="#111"/>
<path d="M514.4 254.4 L507.2 250.9 L507.2 258.0 Z" fill="#111"/>
<text x="18.40" y="199.90" font-size="9.3" font-weight="bold" textLength="22.30" lengthAdjust="spacingAndGlyphs" transform="rotate(-90 18.40 199.90)" stroke="#111" stroke-width="0.3">CD28</text>
<text x="469.60" y="275.10" font-size="9.4" font-weight="bold" textLength="23.20" lengthAdjust="spacingAndGlyphs" stroke="#111" stroke-width="0.3">CD27</text>
<text x="59.40" y="150.70" font-size="8.9" font-weight="bold" textLength="72.60" lengthAdjust="spacingAndGlyphs" stroke="#111" stroke-width="0.3">Total CD8 T cells</text>
<text x="207.20" y="140.80" font-size="8.9" font-weight="bold" textLength="112.50" lengthAdjust="spacingAndGlyphs" stroke="#111" stroke-width="0.3">Tax tetramer+CD8+ T cells</text>
<text x="378.80" y="140.00" font-size="9.0" font-weight="bold" textLength="117.30" lengthAdjust="spacingAndGlyphs" stroke="#111" stroke-width="0.3">CMV tetramer+CD8+ T cells</text>
<text x="205.00" y="160.30" font-size="8.6" font-weight="bold" textLength="22.00" lengthAdjust="spacingAndGlyphs" stroke="#111" stroke-width="0.3">HVCs</text>
<text x="308.00" y="160.30" font-size="8.6" font-weight="bold" textLength="34.60" lengthAdjust="spacingAndGlyphs" stroke="#111" stroke-width="0.3">HAM/TSP</text>
<text x="419.50" y="159.40" font-size="8.6" font-weight="bold" textLength="34.60" lengthAdjust="spacingAndGlyphs" stroke="#111" stroke-width="0.3">HAM/TSP</text>
<path d="M57.2 231.9h0.8M68.3 229.3h0.8M56.7 230.6h0.8M65.7 234.0h0.8M57.2 227.1h0.8M66.8 232.2h0.8M71.0 233.6h0.8M62.8 230.0h0.8M76.2 230.0h0.8M59.4 227.5h0.8M63.8 231.2h0.8M61.6 230.6h0.8M64.7 232.8h0.8M68.8 231.4h0.8M54.4 232.8h0.8M56.2 230.3h0.8M55.9 230.8h0.8M59.4 231.4h0.8M79.8 230.7h0.8M67.5 227.0h0.8M61.9 232.7h0.8M62.8 231.9h0.8M63.8 227.9h0.8M66.1 228.4h0.8M72.7 229.3h0.8M66.7 230.8h0.8M68.1 229.1h0.8M68.3 230.4h0.8M69.6 232.6h0.8M64.0 228.5h0.8M67.1 232.2h0.8M71.5 229.7h0.8M66.1 232.3h0.8M64.7 231.4h0.8M64.2 229.1h0.8M58.2 229.7h0.8M66.3 235.2h0.8M68.2 233.9h0.8M67.2 232.8h0.8M64.2 233.0h0.8M72.2 229.8h0.8M59.8 236.5h0.8M64.5 233.6h0.8M67.7 227.5h0.8M75.5 235.9h0.8M64.2 233.0h0.8M63.9 228.2h0.8M62.7 231.9h0.8M68.9 232.9h0.8M63.6 234.7h0.8M59.5 233.1h0.8M68.9 230.0h0.8M54.3 228.2h0.8M64.5 232.3h0.8M71.0 227.9h0.8M63.3 232.7h0.8M62.5 223.9h0.8M67.3 237.5h0.8M68.3 228.1h0.8M61.2 231.4h0.8M75.7 232.6h0.8M63.9 235.3h0.8M62.9 236.2h0.8M59.9 229.4h0.8M66.9 234.9h0.8M66.6 231.7h0.8M54.2 228.7h0.8M60.2 229.3h0.8M66.2 229.8h0.8M67.2 231.0h0.8M61.6 231.1h0.8M65.4 233.3h0.8M60.9 230.1h0.8M56.5 235.5h0.8M70.6 230.3h0.8M60.9 227.2h0.8M64.1 231.4h0.8M74.2 231.5h0.8M59.4 223.7h0.8M70.3 231.3h0.8M55.3 231.3h0.8M68.9 232.5h0.8M62.4 224.6h0.8M62.7 226.3h0.8M66.3 224.6h0.8M58.8 234.3h0.8M71.5 227.4h0.8M55.6 233.4h0.8M67.6 227.9h0.8M59.8 228.8h0.8M57.4 228.8h0.8M69.6 232.8h0.8M73.6 230.5h0.8M62.6 228.0h0.8M62.7 227.0h0.8M54.4 232.8h0.8M70.5 233.2h0.8M70.0 231.5h0.8M59.7 231.1h0.8M61.4 227.6h0.8M54.8 226.5h0.8M63.3 231.2h0.8M60.9 234.9h0.8M64.2 232.5h0.8M69.4 228.4h0.8M53.5 233.0h0.8M59.9 234.6h0.8M65.0 233.7h0.8M67.1 224.8h0.8M66.9 228.8h0.8M59.5 229.5h0.8M67.1 233.4h0.8M68.4 226.0h0.8M60.3 223.9h0.8M62.8 232.5h0.8M59.5 231.5h0.8M64.5 233.7h0.8M59.2 228.4h0.8M59.5 235.9h0.8M68.8 230.4h0.8M64.4 231.1h0.8M64.3 230.2h0.8M61.6 227.2h0.8M60.1 235.6h0.8M66.0 231.0h0.8M62.2 231.0h0.8M65.1 228.9h0.8M64.3 231.5h0.8M59.6 228.5h0.8M58.3 227.7h0.8M67.7 224.0h0.8M62.0 229.0h0.8M60.2 231.1h0.8M68.9 231.0h0.8M62.6 229.0h0.8M62.7 233.4h0.8M61.3 227.5h0.8M57.0 227.6h0.8M56.4 234.0h0.8M65.1 230.1h0.8M70.6 228.9h0.8M67.1 233.1h0.8M55.6 226.3h0.8M58.7 233.4h0.8M69.8 227.2h0.8M68.5 229.7h0.8M61.3 229.2h0.8M61.7 225.5h0.8M58.3 227.2h0.8M65.8 236.9h0.8M77.0 229.8h0.8M54.7 229.6h0.8M58.6 236.6h0.8M66.2 228.7h0.8M68.0 232.4h0.8M55.2 229.3h0.8M62.1 230.9h0.8M64.0 229.8h0.8M64.2 229.1h0.8M58.8 235.2h0.8M65.1 232.1h0.8M55.3 230.3h0.8M67.4 227.1h0.8M68.8 229.7h0.8M65.3 230.4h0.8M64.4 234.3h0.8M61.3 235.3h0.8M59.4 228.1h0.8M66.9 227.7h0.8M61.4 233.4h0.8M69.4 225.7h0.8M65.8 236.3h0.8M69.3 230.1h0.8M60.3 229.9h0.8M57.5 230.0h0.8M62.4 230.4h0.8M69.2 230.1h0.8M56.0 233.8h0.8M57.9 229.5h0.8M62.6 229.8h0.8M58.3 230.1h0.8M74.2 229.0h0.8M62.6 234.1h0.8M67.0 233.0h0.8M67.6 225.1h0.8M59.0 231.2h0.8M65.8 234.6h0.8M65.6 230.1h0.8M63.5 230.2h0.8M64.5 232.8h0.8M61.6 228.4h0.8M59.0 234.0h0.8M69.7 233.7h0.8M67.6 233.2h0.8M63.3 232.7h0.8M58.0 230.2h0.8M59.6 232.9h0.8M60.4 230.5h0.8M65.3 234.7h0.8M59.3 228.1h0.8M67.4 227.6h0.8M65.6 229.1h0.8M62.8 225.5h0.8M66.9 229.3h0.8M58.8 236.8h0.8M65.3 229.8h0.8M63.8 235.5h0.8M63.2 232.1h0.8M65.9 228.2h0.8M63.9 229.3h0.8M57.1 233.3h0.8M66.6 231.0h0.8M58.8 225.0h0.8M65.7 230.5h0.8M54.9 230.6h0.8M55.7 230.7h0.8M64.0 231.8h0.8M64.4 231.3h0.8M57.6 229.7h0.8M60.7 230.1h0.8M64.7 232.6h0.8M71.5 223.4h0.8M65.3 230.2h0.8M74.7 233.5h0.8M55.0 232.0h0.8M60.7 233.7h0.8M58.0 230.5h0.8M62.6 230.5h0.8M60.4 225.5h0.8M65.6 233.7h0.8M63.0 227.9h0.8M64.3 232.4h0.8M62.4 230.8h0.8M70.3 227.6h0.8M60.5 225.3h0.8M59.8 228.7h0.8M58.5 228.8h0.8M72.3 230.2h0.8M62.7 237.2h0.8M63.0 225.8h0.8M65.3 228.1h0.8M71.5 227.2h0.8M60.4 226.1h0.8M63.8 227.9h0.8M63.0 229.7h0.8M60.2 233.5h0.8M68.0 231.0h0.8M58.8 227.7h0.8M64.6 237.7h0.8M61.0 228.5h0.8M59.8 227.6h0.8M58.4 230.2h0.8M70.5 230.8h0.8M60.7 226.1h0.8M64.4 230.7h0.8M57.2 227.6h0.8M63.1 233.7h0.8M66.4 231.4h0.8M61.7 231.7h0.8M63.2 237.1h0.8M57.6 229.7h0.8M69.6 230.0h0.8M70.4 230.7h0.8M64.0 229.7h0.8M56.4 228.0h0.8M74.4 232.7h0.8M66.3 233.6h0.8M66.1 233.8h0.8M62.0 230.2h0.8M68.2 229.8h0.8M56.6 230.1h0.8M60.6 232.6h0.8M59.7 227.7h0.8M61.6 235.3h0.8M63.1 231.3h0.8M63.3 231.7h0.8M67.9 234.8h0.8M55.1 234.7h0.8M63.3 229.9h0.8M75.3 230.3h0.8M73.0 233.6h0.8M58.2 232.2h0.8M67.0 230.4h0.8M51.7 229.8h0.8M62.3 227.6h0.8M72.4 230.1h0.8M61.3 229.9h0.8M59.4 228.5h0.8M63.8 231.7h0.8M60.8 230.5h0.8M56.3 232.3h0.8M59.6 231.4h0.8M58.8 229.3h0.8M64.4 227.3h0.8M75.6 230.7h0.8M62.9 228.7h0.8M71.3 234.8h0.8M64.8 226.8h0.8M60.8 232.6h0.8M60.7 227.4h0.8M57.4 228.6h0.8M63.4 228.9h0.8M63.4 238.9h0.8M72.2 227.8h0.8M65.0 231.1h0.8M62.6 233.8h0.8M61.6 229.9h0.8M61.4 230.5h0.8M69.7 233.1h0.8M56.6 229.5h0.8M59.3 233.2h0.8M64.4 233.4h0.8M63.0 225.3h0.8M65.6 231.5h0.8M65.8 227.0h0.8M63.7 228.8h0.8M59.9 231.8h0.8M65.1 228.2h0.8M54.7 223.6h0.8M60.4 234.1h0.8M63.0 224.3h0.8M59.0 232.0h0.8M71.7 234.2h0.8M65.1 231.4h0.8M58.0 229.5h0.8M61.6 228.6h0.8M63.6 229.7h0.8M65.0 235.0h0.8M67.0 232.0h0.8M62.1 226.4h0.8M62.7 232.4h0.8M58.3 234.4h0.8M61.6 231.9h0.8M61.7 227.2h0.8M73.6 227.4h0.8M67.9 229.2h0.8M64.7 228.5h0.8M61.2 233.5h0.8M73.0 228.3h0.8M63.4 233.5h0.8M60.1 232.9h0.8M59.4 232.6h0.8M65.5 234.3h0.8M65.1 227.3h0.8M66.6 227.6h0.8M67.1 235.2h0.8M66.3 229.2h0.8M69.3 231.3h0.8M57.1 229.8h0.8M70.4 229.9h0.8M63.9 229.8h0.8M54.9 229.3h0.8M65.1 231.4h0.8M62.4 224.6h0.8M69.4 232.9h0.8M68.4 234.6h0.8M61.1 229.0h0.8M64.9 235.7h0.8M54.9 230.1h0.8M59.7 232.4h0.8M70.6 229.9h0.8M57.1 230.9h0.8M61.9 226.3h0.8M67.7 229.3h0.8M66.7 227.0h0.8M68.8 226.6h0.8M68.6 225.5h0.8M70.2 229.7h0.8M55.5 230.1h0.8M65.0 227.9h0.8M60.8 231.6h0.8M62.5 221.9h0.8M61.2 232.0h0.8M64.8 233.7h0.8M59.8 238.2h0.8M67.3 231.7h0.8M68.7 233.6h0.8M63.8 229.0h0.8M68.4 232.0h0.8M53.8 227.6h0.8M65.6 231.1h0.8M64.7 232.7h0.8M64.0 235.4h0.8M60.4 229.6h0.8M64.9 233.0h0.8M67.2 235.1h0.8M60.9 234.2h0.8M65.6 227.8h0.8M62.6 236.8h0.8M67.2 229.4h0.8M51.3 228.7h0.8M59.8 231.0h0.8M74.9 233.0h0.8M64.9 228.1h0.8M57.4 230.2h0.8M61.3 229.0h0.8M68.9 231.0h0.8M57.1 234.5h0.8M61.7 226.9h0.8M64.9 232.2h0.8M61.6 232.8h0.8M67.4 228.2h0.8M53.0 223.9h0.8M62.7 234.4h0.8M68.3 234.8h0.8M72.6 230.8h0.8M68.6 226.4h0.8M66.7 231.9h0.8M62.8 229.5h0.8M57.7 231.2h0.8M69.7 229.7h0.8M66.0 228.9h0.8M64.6 227.9h0.8M65.2 230.2h0.8M64.9 229.0h0.8M57.4 229.8h0.8M68.5 235.4h0.8M61.7 233.1h0.8M67.1 231.9h0.8M55.5 231.7h0.8M58.5 234.2h0.8M67.2 232.6h0.8M66.8 227.1h0.8M68.2 231.0h0.8M62.4 228.7h0.8M58.2 229.5h0.8M78.7 231.4h0.8M64.3 228.9h0.8M60.2 229.2h0.8M58.9 233.3h0.8M61.9 233.3h0.8M57.5 233.5h0.8M63.2 232.7h0.8M62.8 228.2h0.8M69.4 229.5h0.8M62.6 228.2h0.8M64.3 229.7h0.8M64.7 231.8h0.8M59.9 226.7h0.8M65.5 233.5h0.8M66.8 227.5h0.8M66.3 231.9h0.8M64.7 232.0h0.8M61.7 231.4h0.8M67.9 229.3h0.8M56.1 230.5h0.8M64.3 225.4h0.8M59.9 232.5h0.8M62.5 231.1h0.8M57.0 233.4h0.8M72.1 230.2h0.8M59.6 227.4h0.8M67.8 231.1h0.8M59.3 234.3h0.8M67.1 232.5h0.8M54.5 230.5h0.8M66.4 227.2h0.8M67.9 234.9h0.8M68.5 228.7h0.8M59.8 233.5h0.8M68.3 234.4h0.8M69.3 230.5h0.8M61.3 225.4h0.8M67.2 237.4h0.8M61.0 229.4h0.8M66.5 231.9h0.8M56.4 228.7h0.8M57.8 236.7h0.8M59.7 233.3h0.8M72.9 236.3h0.8M70.4 235.5h0.8M57.1 229.8h0.8M59.7 230.0h0.8M76.4 225.9h0.8M66.1 227.2h0.8M70.0 234.6h0.8M60.7 236.8h0.8M63.7 234.6h0.8M64.9 229.2h0.8M61.4 230.5h0.8M66.4 231.2h0.8M75.1 230.2h0.8M61.0 228.7h0.8M59.4 226.6h0.8M58.4 233.4h0.8M63.6 230.3h0.8M65.1 233.9h0.8M66.4 233.0h0.8M60.5 230.0h0.8M59.4 230.5h0.8M59.2 229.7h0.8M62.4 230.2h0.8M62.0 229.4h0.8M69.8 229.8h0.8M58.2 231.4h0.8M57.9 227.7h0.8M63.7 226.0h0.8M68.5 226.0h0.8M58.8 232.5h0.8M53.4 228.3h0.8M57.3 230.2h0.8M53.4 233.4h0.8M62.6 231.7h0.8M61.7 224.6h0.8M62.5 226.9h0.8M63.4 228.3h0.8M61.7 230.2h0.8M67.2 233.0h0.8M58.3 230.8h0.8M70.6 232.2h0.8M59.7 230.4h0.8M61.6 233.5h0.8M63.5 231.9h0.8M74.4 226.8h0.8M58.2 225.8h0.8M55.3 233.3h0.8M64.8 235.5h0.8M53.4 228.2h0.8M70.5 233.8h0.8M67.7 233.3h0.8M63.5 230.8h0.8M63.5 233.2h0.8M62.5 231.7h0.8M70.6 227.5h0.8M59.5 232.4h0.8M62.0 230.3h0.8M73.8 232.0h0.8M61.2 234.0h0.8M75.9 227.6h0.8M59.9 231.1h0.8M60.1 237.1h0.8M65.9 229.6h0.8M65.8 228.5h0.8M60.3 231.1h0.8M75.2 224.3h0.8M65.4 234.7h0.8M67.0 236.4h0.8M65.6 231.2h0.8M62.6 228.3h0.8M71.5 227.4h0.8M62.7 229.3h0.8M59.4 224.4h0.8M61.4 231.2h0.8M64.0 233.2h0.8M62.5 228.9h0.8M64.8 232.7h0.8M58.8 226.4h0.8M58.2 233.9h0.8M68.3 228.2h0.8M63.9 233.2h0.8M69.9 228.9h0.8M62.1 234.9h0.8M75.4 235.2h0.8M57.6 232.1h0.8M61.8 230.6h0.8M60.0 229.4h0.8M63.2 236.0h0.8M66.8 232.0h0.8M63.4 228.6h0.8M62.2 234.4h0.8M67.5 236.5h0.8M64.6 230.7h0.8M55.2 232.0h0.8M54.7 235.2h0.8M60.2 230.8h0.8M56.5 229.4h0.8M58.6 234.1h0.8M64.5 227.4h0.8M53.6 230.6h0.8M60.9 227.6h0.8M66.2 230.3h0.8M63.9 229.1h0.8M60.4 229.5h0.8M55.3 232.6h0.8M65.3 225.8h0.8M63.8 234.1h0.8M64.5 234.6h0.8M62.0 230.8h0.8M56.8 228.2h0.8M54.2 228.2h0.8M64.5 232.3h0.8M69.1 231.2h0.8M58.4 232.1h0.8M62.6 236.0h0.8M73.1 233.6h0.8M57.6 229.3h0.8M64.3 228.7h0.8M65.9 232.8h0.8M67.5 231.5h0.8M58.9 228.4h0.8M62.7 234.6h0.8M71.2 233.6h0.8M65.1 232.8h0.8M67.4 234.5h0.8M67.6 226.3h0.8M68.1 231.9h0.8M61.0 232.3h0.8M64.7 230.6h0.8M54.9 231.1h0.8M66.1 230.7h0.8M55.4 232.1h0.8M66.9 231.3h0.8M65.4 229.8h0.8M60.0 232.3h0.8M61.5 231.3h0.8M79.6 232.9h0.8M64.0 226.1h0.8M63.8 233.0h0.8M59.8 230.1h0.8M52.0 232.4h0.8M60.3 232.8h0.8M70.1 230.3h0.8M68.2 231.5h0.8M62.3 230.0h0.8M59.0 234.5h0.8M67.7 227.9h0.8M67.5 228.7h0.8M55.8 234.3h0.8M56.9 234.2h0.8M64.3 233.4h0.8M65.9 234.1h0.8M65.0 232.5h0.8M64.5 234.0h0.8M61.3 233.7h0.8M70.8 230.6h0.8M65.5 229.3h0.8M61.9 231.6h0.8M61.6 228.2h0.8M63.2 231.4h0.8M64.9 232.9h0.8M54.4 234.9h0.8M62.4 228.6h0.8M61.4 232.1h0.8M67.7 229.7h0.8M64.1 226.2h0.8M64.1 230.5h0.8M61.1 233.4h0.8M72.3 233.8h0.8M59.4 235.2h0.8M61.6 230.7h0.8M60.4 232.1h0.8M66.1 231.2h0.8M62.3 230.4h0.8M61.3 233.6h0.8M60.7 230.4h0.8M62.3 228.6h0.8M62.2 226.6h0.8M65.3 232.4h0.8M61.8 235.3h0.8M59.2 232.4h0.8M65.7 229.3h0.8M62.1 233.4h0.8M63.6 231.6h0.8M70.3 231.4h0.8M55.0 228.7h0.8M67.5 230.4h0.8M57.9 225.1h0.8M64.9 235.1h0.8M57.1 224.5h0.8M65.8 229.2h0.8M61.8 229.9h0.8M58.8 232.1h0.8M67.9 231.9h0.8M60.5 233.8h0.8M62.8 232.5h0.8M58.7 232.7h0.8M67.0 234.5h0.8M63.4 232.1h0.8M60.4 233.3h0.8M67.2 233.9h0.8M61.4 227.3h0.8M63.0 230.2h0.8M59.6 232.5h0.8M68.0 231.9h0.8M68.8 231.9h0.8M58.5 229.1h0.8M61.6 232.8h0.8M67.9 231.2h0.8M68.3 228.4h0.8M62.7 235.1h0.8M65.5 233.8h0.8M54.0 226.0h0.8M59.0 233.7h0.8M71.3 229.0h0.8M58.4 227.9h0.8M58.9 232.4h0.8M61.8 236.2h0.8M66.9 228.8h0.8M64.5 230.4h0.8M67.2 233.4h0.8M61.6 233.4h0.8M66.1 230.6h0.8M64.6 232.8h0.8M61.7 228.9h0.8M69.6 230.8h0.8M60.4 232.1h0.8M56.1 231.0h0.8M56.6 229.6h0.8M54.5 228.8h0.8M67.7 230.3h0.8M57.3 235.8h0.8M60.2 235.0h0.8M60.7 226.6h0.8M72.4 229.6h0.8M67.1 234.2h0.8M56.9 231.0h0.8M60.5 232.5h0.8M63.3 227.2h0.8M63.6 233.0h0.8M61.9 232.4h0.8M60.7 230.7h0.8M65.0 231.2h0.8M69.6 233.5h0.8M67.5 232.9h0.8M64.1 227.5h0.8M68.5 235.8h0.8M64.4 230.1h0.8M63.2 234.3h0.8M64.7 228.0h0.8M62.5 228.6h0.8M62.3 228.3h0.8M59.1 235.0h0.8M68.5 226.3h0.8M58.5 229.6h0.8M61.4 226.9h0.8M67.7 226.2h0.8M66.7 232.8h0.8M61.5 229.0h0.8M63.6 231.2h0.8M53.1 227.3h0.8M65.9 230.5h0.8M61.3 228.0h0.8M59.9 228.7h0.8M77.0 227.3h0.8M70.8 232.2h0.8M64.4 231.4h0.8M61.5 235.4h0.8M65.8 230.7h0.8M62.7 231.4h0.8M57.8 229.9h0.8M60.3 232.6h0.8M66.3 225.5h0.8M62.3 233.6h0.8M57.0 227.5h0.8M68.2 230.5h0.8M61.1 227.4h0.8M64.2 229.2h0.8M64.4 232.0h0.8M66.8 229.9h0.8M60.8 230.9h0.8M62.9 231.3h0.8M60.8 230.2h0.8M60.5 229.2h0.8M64.1 234.1h0.8M60.7 232.5h0.8M65.0 231.1h0.8M66.7 229.2h0.8M66.1 231.7h0.8M66.3 236.4h0.8M58.2 231.1h0.8M65.1 228.1h0.8M69.2 232.1h0.8M59.4 227.4h0.8M61.3 237.6h0.8M73.9 223.8h0.8M54.4 232.7h0.8M62.8 229.0h0.8M66.3 231.1h0.8M64.7 231.6h0.8M58.0 234.6h0.8M61.1 234.0h0.8M66.7 230.9h0.8M64.0 230.7h0.8M54.3 229.9h0.8M65.4 226.2h0.8M56.0 233.9h0.8M67.3 226.4h0.8M65.6 230.7h0.8M68.1 229.9h0.8M62.2 228.7h0.8M64.2 230.5h0.8M60.1 229.8h0.8M59.6 232.6h0.8M58.3 226.4h0.8M58.6 233.9h0.8M60.8 232.7h0.8M66.9 229.4h0.8M67.0 232.3h0.8M63.1 228.8h0.8M63.0 227.2h0.8M62.0 229.2h0.8M65.5 231.8h0.8M60.2 233.3h0.8M69.2 231.0h0.8M59.7 232.3h0.8M51.3 229.1h0.8M66.2 236.5h0.8M59.7 235.2h0.8M74.8 236.2h0.8M51.7 234.0h0.8M64.3 233.7h0.8M62.4 229.1h0.8M62.2 235.1h0.8M67.5 230.0h0.8M65.2 233.3h0.8M66.1 230.7h0.8M60.1 228.7h0.8M61.2 229.2h0.8M55.5 226.8h0.8M67.7 227.6h0.8M56.8 230.7h0.8M70.5 234.4h0.8M61.3 227.8h0.8M60.7 228.2h0.8M60.6 232.2h0.8M58.0 228.6h0.8M62.0 230.7h0.8M59.5 228.5h0.8M57.7 228.6h0.8M65.9 230.1h0.8M63.0 228.3h0.8M62.0 222.1h0.8M55.1 234.2h0.8M73.9 237.1h0.8M59.7 230.9h0.8M67.2 227.3h0.8M72.0 228.7h0.8M65.1 227.5h0.8M65.1 230.8h0.8M68.7 227.5h0.8M63.3 236.1h0.8M57.4 231.8h0.8M65.5 229.4h0.8M62.0 234.9h0.8M69.0 232.4h0.8M64.6 227.5h0.8M63.8 236.0h0.8M68.6 226.9h0.8M53.0 228.9h0.8M64.1 229.2h0.8M61.8 231.8h0.8M67.8 231.4h0.8M69.6 226.7h0.8M65.6 232.0h0.8M55.9 234.4h0.8M55.3 226.6h0.8M76.7 234.6h0.8M65.2 234.7h0.8M69.1 227.5h0.8M65.7 234.9h0.8M62.5 231.0h0.8M61.0 232.9h0.8M60.5 229.1h0.8M57.2 228.1h0.8M64.4 232.2h0.8M61.4 227.8h0.8M65.0 231.8h0.8M69.7 229.4h0.8M61.2 232.3h0.8M71.0 230.7h0.8M62.9 228.1h0.8M61.4 233.6h0.8M67.6 234.1h0.8M55.1 233.2h0.8M58.7 232.5h0.8M51.4 230.5h0.8M58.9 234.5h0.8M63.9 234.6h0.8M61.1 236.5h0.8M61.1 236.3h0.8M60.9 227.9h0.8M67.8 229.6h0.8M63.0 226.9h0.8M61.6 231.1h0.8M59.7 231.9h0.8M51.7 233.4h0.8M61.2 235.1h0.8M61.5 228.9h0.8M61.0 231.6h0.8M66.3 229.5h0.8M59.3 232.1h0.8M67.5 225.7h0.8M58.0 228.8h0.8M71.9 234.4h0.8M67.3 232.3h0.8M57.7 234.1h0.8M61.1 228.5h0.8M73.1 226.6h0.8M70.3 231.4h0.8M58.7 231.3h0.8M59.0 231.4h0.8M60.0 227.3h0.8M76.8 229.3h0.8M68.3 230.7h0.8M66.7 227.1h0.8M58.0 221.2h0.8M68.4 232.1h0.8M57.4 233.3h0.8M64.5 233.5h0.8M66.4 233.1h0.8M63.2 229.6h0.8M66.9 234.4h0.8M57.4 227.5h0.8M63.1 236.1h0.8M62.3 225.8h0.8M67.4 233.0h0.8M73.2 231.4h0.8M73.3 228.7h0.8M67.9 231.2h0.8M57.3 230.0h0.8M70.1 234.1h0.8M61.4 234.1h0.8M67.9 233.4h0.8M64.8 231.7h0.8M59.1 230.6h0.8M63.9 228.6h0.8M61.9 231.3h0.8M64.4 233.9h0.8M58.1 229.7h0.8M64.7 229.7h0.8M65.0 229.4h0.8M69.3 230.1h0.8M57.6 233.0h0.8M71.7 225.2h0.8M62.7 231.0h0.8M68.6 235.2h0.8M62.5 226.2h0.8M66.7 233.8h0.8M65.7 231.1h0.8M59.2 238.0h0.8M57.3 226.4h0.8M68.3 231.7h0.8M66.7 231.9h0.8M71.9 235.0h0.8M60.5 233.8h0.8M57.4 225.8h0.8M69.4 229.6h0.8M52.5 230.8h0.8M60.0 232.3h0.8M63.0 228.6h0.8M59.7 233.1h0.8M58.6 231.2h0.8M58.3 232.1h0.8M72.3 232.5h0.8M69.0 232.1h0.8M58.5 229.9h0.8M63.7 232.1h0.8M60.3 232.6h0.8M59.7 231.0h0.8M63.3 227.4h0.8M68.4 231.0h0.8M63.9 230.7h0.8M52.7 226.7h0.8M58.8 233.7h0.8M60.4 232.6h0.8M58.1 228.3h0.8M61.0 233.9h0.8M55.0 230.3h0.8M65.4 231.2h0.8M63.3 233.1h0.8M64.8 227.9h0.8M66.5 228.5h0.8M61.6 235.1h0.8M75.7 235.1h0.8M65.5 228.5h0.8M59.5 235.7h0.8M65.0 226.8h0.8M71.3 232.5h0.8M70.0 232.0h0.8M52.5 228.7h0.8M62.6 230.3h0.8M71.0 228.9h0.8M62.8 230.7h0.8M62.9 227.8h0.8M57.2 223.3h0.8M65.0 230.2h0.8M64.4 227.7h0.8M63.3 228.0h0.8M58.2 231.8h0.8M66.5 232.5h0.8M63.1 229.7h0.8M70.4 234.5h0.8M60.1 227.6h0.8M65.2 231.8h0.8M58.7 237.5h0.8M52.8 228.4h0.8M64.6 233.7h0.8M54.0 229.5h0.8M70.6 234.9h0.8M62.1 230.9h0.8M58.9 232.0h0.8M58.0 224.9h0.8M55.7 231.0h0.8M56.7 234.1h0.8M69.8 233.7h0.8M66.6 234.1h0.8M64.7 233.4h0.8M65.7 233.1h0.8M58.2 228.9h0.8M58.3 233.2h0.8M65.9 228.5h0.8M58.4 229.1h0.8M67.7 230.5h0.8M62.1 228.8h0.8M62.7 235.5h0.8M59.9 229.8h0.8M71.9 232.9h0.8M57.6 234.0h0.8M57.0 232.4h0.8M68.0 229.1h0.8M59.7 231.0h0.8M63.3 229.5h0.8M59.9 236.1h0.8M70.9 231.8h0.8M57.5 229.3h0.8M61.9 232.2h0.8M71.4 229.3h0.8M64.1 229.6h0.8M64.0 228.8h0.8M65.2 234.2h0.8M61.3 229.9h0.8M63.9 227.0h0.8M72.5 226.9h0.8M61.5 228.2h0.8M70.9 229.4h0.8M60.8 236.3h0.8M62.7 228.5h0.8M63.3 231.4h0.8M59.6 230.3h0.8M62.3 232.9h0.8M67.2 233.3h0.8M62.7 233.2h0.8M62.3 234.2h0.8M65.4 229.6h0.8M69.5 226.4h0.8M58.5 228.5h0.8M62.7 227.2h0.8M57.3 225.3h0.8M63.9 228.6h0.8M74.4 233.1h0.8M57.6 234.7h0.8M63.9 234.0h0.8M57.7 234.2h0.8M68.9 229.6h0.8M59.1 229.7h0.8M64.7 237.9h0.8M72.4 235.2h0.8M62.2 229.9h0.8M65.2 230.0h0.8M61.0 230.2h0.8M67.6 230.6h0.8M64.5 230.1h0.8M62.4 229.9h0.8M69.7 231.5h0.8M70.9 230.3h0.8M68.7 226.8h0.8M61.3 230.6h0.8M60.2 230.5h0.8M58.7 230.3h0.8M60.0 230.8h0.8M61.9 227.9h0.8M61.3 230.9h0.8M56.9 231.1h0.8M69.6 230.2h0.8M66.1 232.6h0.8M59.3 234.7h0.8M76.0 227.8h0.8M74.1 228.8h0.8M70.7 225.5h0.8M69.1 231.2h0.8M56.9 228.4h0.8M58.1 228.2h0.8M65.2 230.3h0.8M65.7 231.1h0.8M71.8 225.5h0.8M64.6 230.9h0.8M67.0 226.9h0.8M56.8 230.3h0.8M63.7 225.5h0.8M65.2 230.8h0.8M67.0 223.2h0.8M65.9 228.2h0.8M60.9 233.1h0.8M71.8 231.3h0.8M62.8 234.6h0.8M58.8 230.4h0.8M60.8 228.0h0.8M64.3 236.8h0.8M64.6 232.3h0.8M63.2 234.1h0.8M64.2 228.2h0.8M63.8 235.0h0.8M62.9 234.3h0.8M63.0 236.7h0.8M64.8 232.7h0.8M61.9 233.3h0.8M62.2 226.5h0.8M64.9 227.3h0.8M70.8 233.1h0.8M63.4 232.8h0.8M60.1 232.8h0.8M76.2 226.1h0.8M61.3 231.8h0.8M65.5 225.9h0.8M58.7 235.2h0.8M60.3 232.4h0.8M56.4 228.2h0.8M54.2 231.6h0.8M69.2 231.1h0.8M62.0 231.5h0.8M65.7 230.0h0.8M66.1 236.5h0.8M74.5 229.2h0.8M57.0 236.4h0.8M68.3 234.4h0.8M66.4 230.2h0.8M68.3 234.1h0.8M69.3 227.7h0.8M68.5 229.8h0.8M61.5 231.9h0.8M61.6 237.6h0.8M66.2 231.6h0.8M62.4 231.6h0.8M62.2 232.5h0.8M67.7 233.3h0.8M57.0 229.9h0.8M63.8 227.3h0.8M65.2 230.4h0.8M63.6 231.9h0.8M60.2 235.4h0.8M68.6 229.2h0.8M65.7 233.0h0.8M59.5 229.8h0.8M66.9 223.3h0.8M56.7 231.8h0.8M66.5 228.1h0.8M67.7 237.3h0.8M64.4 230.7h0.8M63.7 227.9h0.8M66.1 231.4h0.8M67.1 235.0h0.8M63.5 231.4h0.8M65.0 235.9h0.8M56.0 230.8h0.8M60.2 231.2h0.8M67.5 231.0h0.8M67.1 231.4h0.8M59.8 228.9h0.8M56.4 231.5h0.8M61.4 233.3h0.8M68.2 228.3h0.8M57.9 232.6h0.8M58.9 231.4h0.8M66.4 229.7h0.8M72.3 228.6h0.8M65.5 229.6h0.8M62.6 232.5h0.8M62.7 228.7h0.8M60.8 229.9h0.8M67.2 230.0h0.8M69.6 233.3h0.8M59.6 233.8h0.8M52.0 230.9h0.8M58.4 230.5h0.8M69.2 230.8h0.8M62.5 234.6h0.8M59.5 228.4h0.8M68.3 232.6h0.8M56.2 231.3h0.8M67.3 230.4h0.8M61.3 231.2h0.8M64.4 228.8h0.8M67.6 226.2h0.8M63.0 237.1h0.8M58.0 230.7h0.8M51.9 228.4h0.8M57.6 231.0h0.8M60.9 236.2h0.8M58.7 230.7h0.8M64.4 232.7h0.8M67.8 226.3h0.8M74.4 229.9h0.8M59.8 226.0h0.8M61.1 225.7h0.8M64.3 229.1h0.8M65.0 228.5h0.8M63.7 237.3h0.8M69.2 231.3h0.8M58.4 235.1h0.8M54.8 226.7h0.8M69.9 229.1h0.8M70.1 232.5h0.8M74.3 236.0h0.8M66.3 229.0h0.8M66.3 234.9h0.8M64.0 222.4h0.8M61.4 229.8h0.8M63.0 229.8h0.8M69.1 227.1h0.8M65.5 225.0h0.8M52.4 227.9h0.8M59.6 228.2h0.8M59.8 232.6h0.8M66.2 231.0h0.8M64.3 228.8h0.8M58.4 226.7h0.8M61.2 227.5h0.8M61.7 232.9h0.8M66.1 234.7h0.8M58.6 224.4h0.8M57.8 236.6h0.8M66.8 229.5h0.8M69.9 229.6h0.8M71.7 229.6h0.8M61.3 232.8h0.8M57.6 230.3h0.8M73.0 232.1h0.8M57.8 230.1h0.8M63.2 228.6h0.8M65.4 234.4h0.8M63.5 233.4h0.8M64.8 231.2h0.8M59.5 233.6h0.8M70.1 229.5h0.8M58.9 232.3h0.8M63.8 234.1h0.8M65.8 230.4h0.8M56.4 232.6h0.8M63.8 227.1h0.8M55.8 225.5h0.8M66.4 229.5h0.8M60.1 230.5h0.8M63.5 229.8h0.8M67.0 233.8h0.8M62.2 235.4h0.8M62.7 228.3h0.8M64.1 226.6h0.8M61.8 227.7h0.8M61.1 231.4h0.8M51.0 231.9h0.8M64.6 230.2h0.8M66.9 231.8h0.8M61.5 227.9h0.8M67.0 233.0h0.8M55.9 228.7h0.8M57.4 233.2h0.8M60.4 227.2h0.8M70.8 232.1h0.8M64.5 231.5h0.8M62.4 230.9h0.8M67.8 232.1h0.8M61.0 231.1h0.8M72.7 229.2h0.8M56.7 231.1h0.8M57.6 238.4h0.8M66.4 232.5h0.8M65.1 236.5h0.8M58.2 230.6h0.8M54.9 234.4h0.8M62.9 235.9h0.8M61.9 227.7h0.8M59.7 233.1h0.8M59.1 231.5h0.8M59.6 228.7h0.8M60.5 235.5h0.8M57.9 231.7h0.8M67.3 228.6h0.8M55.7 235.2h0.8M72.0 230.0h0.8M57.2 233.3h0.8M63.1 228.4h0.8M61.3 223.8h0.8M59.2 227.2h0.8M56.6 232.5h0.8M64.6 235.7h0.8M59.0 234.6h0.8M68.5 231.1h0.8M63.7 228.6h0.8M60.6 229.5h0.8M66.9 236.8h0.8M69.5 232.2h0.8M67.4 225.8h0.8M58.1 233.2h0.8M61.3 226.0h0.8M63.2 227.0h0.8M63.2 235.3h0.8M57.5 229.4h0.8M66.0 230.7h0.8M64.1 228.3h0.8M61.5 223.8h0.8M62.3 234.5h0.8M57.5 230.2h0.8M66.8 234.3h0.8M69.1 228.1h0.8M61.1 235.9h0.8M60.8 231.6h0.8M58.9 228.8h0.8M52.1 227.8h0.8M58.2 234.7h0.8M67.1 231.9h0.8M60.6 226.7h0.8M65.6 228.3h0.8M62.6 233.5h0.8M62.2 230.7h0.8M58.1 233.8h0.8M65.9 232.8h0.8M71.4 226.0h0.8M63.3 232.6h0.8M64.9 231.6h0.8M65.5 226.2h0.8M62.8 234.1h0.8M62.9 230.1h0.8M67.5 225.6h0.8M65.2 235.2h0.8M61.9 228.3h0.8M65.8 229.4h0.8M59.0 231.2h0.8M54.8 232.7h0.8M57.1 229.1h0.8M66.8 230.6h0.8M64.5 234.8h0.8M70.9 236.9h0.8M60.4 233.4h0.8M54.8 233.1h0.8M69.8 228.6h0.8M65.5 233.2h0.8M62.4 228.9h0.8M70.8 226.8h0.8M64.0 233.5h0.8M64.4 235.4h0.8M70.7 232.1h0.8M72.2 232.9h0.8M56.9 229.8h0.8M64.5 231.3h0.8M54.6 237.5h0.8M55.2 227.4h0.8M65.4 231.3h0.8M71.0 231.4h0.8M65.1 232.9h0.8M59.5 226.9h0.8M60.8 233.7h0.8M61.7 234.4h0.8M60.4 233.0h0.8M63.3 233.2h0.8M63.2 231.3h0.8M60.8 234.4h0.8M63.0 232.2h0.8M66.5 228.1h0.8M59.0 230.6h0.8M69.7 227.6h0.8M58.0 227.8h0.8M61.2 227.6h0.8M59.1 232.3h0.8M57.7 230.7h0.8M57.2 230.2h0.8M65.8 224.9h0.8M63.5 231.4h0.8M62.9 231.5h0.8M65.3 226.9h0.8M62.6 232.6h0.8M69.7 226.7h0.8M60.2 226.7h0.8M63.1 227.6h0.8M58.2 233.0h0.8M74.6 224.7h0.8M71.5 228.1h0.8M66.7 231.8h0.8M69.5 230.1h0.8M59.0 230.6h0.8M67.2 228.1h0.8M65.3 230.7h0.8M64.1 230.8h0.8M66.3 233.1h0.8M61.8 229.7h0.8M52.4 228.2h0.8M55.5 232.7h0.8M57.8 228.7h0.8M65.9 233.7h0.8M69.4 228.3h0.8M64.4 233.9h0.8M58.9 230.1h0.8M57.1 228.9h0.8M66.8 231.0h0.8M61.4 229.1h0.8M70.9 233.0h0.8M57.0 237.1h0.8M61.1 230.3h0.8M60.8 229.1h0.8M66.5 226.5h0.8M63.4 229.8h0.8M72.0 231.9h0.8M65.4 232.3h0.8M66.2 231.1h0.8M50.9 232.0h0.8M61.6 232.8h0.8M64.8 229.2h0.8M58.7 227.8h0.8M64.7 230.5h0.8M58.8 229.7h0.8M65.0 228.8h0.8M62.6 229.0h0.8M63.6 233.1h0.8M69.8 228.6h0.8M66.2 231.5h0.8M63.6 233.2h0.8M67.6 227.1h0.8M70.7 230.3h0.8M59.9 228.7h0.8M62.1 227.5h0.8M68.7 232.0h0.8M58.7 233.2h0.8M64.4 231.0h0.8M68.1 230.5h0.8M61.9 232.2h0.8M54.0 227.3h0.8M65.8 233.9h0.8M54.8 230.8h0.8M59.9 229.9h0.8M66.3 235.1h0.8M72.1 233.5h0.8M66.5 231.2h0.8M53.9 231.9h0.8M57.3 227.5h0.8M63.9 226.2h0.8M72.2 232.5h0.8M65.1 232.2h0.8M64.5 231.0h0.8M66.8 228.8h0.8M64.6 231.3h0.8M67.2 227.6h0.8M64.5 230.4h0.8M66.4 232.3h0.8M64.2 232.1h0.8M65.5 234.7h0.8M64.8 232.3h0.8M58.6 230.2h0.8M67.1 233.8h0.8M58.4 230.7h0.8M61.9 230.9h0.8M60.8 229.5h0.8M62.9 231.1h0.8M68.4 228.3h0.8M58.4 233.1h0.8M65.8 230.2h0.8M57.5 233.8h0.8M57.9 234.1h0.8M64.5 230.3h0.8M62.4 233.2h0.8M63.3 225.7h0.8M59.7 224.5h0.8M65.3 233.5h0.8M68.4 226.9h0.8M73.9 236.1h0.8M62.7 225.0h0.8M58.9 233.8h0.8M73.6 229.2h0.8M54.0 228.0h0.8M72.9 230.8h0.8M56.2 224.7h0.8M66.4 233.1h0.8M60.9 230.2h0.8M63.6 229.8h0.8M60.5 229.1h0.8M60.3 234.4h0.8M65.3 233.7h0.8M72.5 224.1h0.8M62.9 233.6h0.8M62.2 229.0h0.8M65.2 229.2h0.8M59.0 229.9h0.8M63.5 230.8h0.8M67.8 230.8h0.8M62.1 230.0h0.8M62.5 228.7h0.8M55.3 231.3h0.8M70.6 225.5h0.8M59.5 232.0h0.8M59.8 232.3h0.8M63.0 227.6h0.8M62.2 229.3h0.8M66.0 223.4h0.8M65.3 234.6h0.8" stroke="#000" stroke-width="0.8" stroke-opacity="0.6" fill="none"/>
<path d="M66.1 231.5h0.8M60.6 231.8h0.8M63.7 225.7h0.8M55.4 221.7h0.8M68.4 231.2h0.8M73.7 231.5h0.8M70.5 225.5h0.8M62.3 231.9h0.8M63.9 229.9h0.8M65.3 231.5h0.8M66.5 231.8h0.8M60.9 230.2h0.8M53.1 226.3h0.8M62.7 232.2h0.8M58.9 225.2h0.8M72.6 227.4h0.8M51.1 226.9h0.8M55.4 221.3h0.8M61.8 237.0h0.8M59.0 227.4h0.8M74.1 230.9h0.8M64.1 235.7h0.8M55.5 230.3h0.8M69.0 231.3h0.8M55.5 227.0h0.8M79.2 230.2h0.8M62.8 234.7h0.8M50.8 235.9h0.8M57.0 231.0h0.8M57.5 231.1h0.8M67.5 230.6h0.8M62.4 231.5h0.8M63.0 228.6h0.8M70.0 233.8h0.8M54.1 226.7h0.8M58.7 231.7h0.8M53.7 236.5h0.8M65.3 231.2h0.8M71.9 227.7h0.8M67.9 232.1h0.8M75.3 226.6h0.8M76.0 232.8h0.8M67.0 234.6h0.8M63.0 229.8h0.8M71.6 229.2h0.8M73.6 235.8h0.8M66.7 231.3h0.8M59.8 227.1h0.8M76.5 226.7h0.8M65.7 231.7h0.8M57.8 228.0h0.8M59.4 238.6h0.8M68.0 235.9h0.8M81.2 234.4h0.8M75.5 228.9h0.8M59.5 236.1h0.8M76.7 226.7h0.8M74.2 231.7h0.8M71.4 234.3h0.8M80.2 228.3h0.8M65.1 235.4h0.8M63.0 232.7h0.8M64.5 224.2h0.8M60.7 234.0h0.8M60.7 224.8h0.8M61.1 231.0h0.8M69.0 231.9h0.8M69.3 226.7h0.8M60.3 227.7h0.8M61.6 232.3h0.8M75.8 229.8h0.8M73.6 234.9h0.8M56.0 227.6h0.8M66.4 225.4h0.8M80.1 223.6h0.8M55.4 233.6h0.8M59.2 233.4h0.8M57.3 234.7h0.8M60.5 233.4h0.8M73.2 225.0h0.8M58.1 224.1h0.8M56.3 234.2h0.8M64.9 233.9h0.8M76.6 234.6h0.8M71.0 229.1h0.8M62.1 231.9h0.8M72.1 234.8h0.8M67.6 229.6h0.8M64.6 237.0h0.8M67.5 238.3h0.8M59.5 234.0h0.8M67.0 233.6h0.8M59.3 232.0h0.8M64.7 229.7h0.8M55.7 225.4h0.8M62.6 232.8h0.8M67.3 231.6h0.8M67.8 225.6h0.8M73.8 231.0h0.8M59.3 228.7h0.8M73.2 231.5h0.8M52.0 238.7h0.8M53.5 237.2h0.8M72.1 226.9h0.8M75.2 235.5h0.8M73.6 233.2h0.8M67.9 231.6h0.8M61.1 231.8h0.8M75.5 230.3h0.8M81.0 224.9h0.8M65.6 225.1h0.8M51.3 231.7h0.8M62.7 228.7h0.8M56.9 229.9h0.8M52.4 230.0h0.8M61.1 226.0h0.8M68.6 223.7h0.8M68.7 231.8h0.8M69.5 231.3h0.8M71.7 229.8h0.8M56.7 232.2h0.8M59.0 229.4h0.8M66.3 227.2h0.8M73.2 224.9h0.8M75.1 230.6h0.8M78.8 235.0h0.8M70.7 231.9h0.8M66.3 225.6h0.8M60.9 227.2h0.8M59.7 230.3h0.8M59.0 231.3h0.8M63.3 229.0h0.8M68.4 232.5h0.8M54.7 229.6h0.8M88.6 230.8h0.8M69.0 227.4h0.8M73.1 236.6h0.8M70.0 230.3h0.8M65.6 223.6h0.8M70.1 229.6h0.8M68.5 232.2h0.8M67.0 238.7h0.8M72.7 228.3h0.8M70.2 233.1h0.8M65.6 236.1h0.8M62.4 224.1h0.8M56.8 232.2h0.8M57.5 231.3h0.8M53.3 232.2h0.8M63.3 227.3h0.8M60.9 229.7h0.8M72.6 231.7h0.8M63.7 231.4h0.8M72.4 232.5h0.8M79.3 228.0h0.8M71.9 231.2h0.8M60.3 233.0h0.8M72.0 234.5h0.8M69.2 227.4h0.8M66.7 232.2h0.8M78.6 231.2h0.8M66.5 236.7h0.8M65.8 229.1h0.8M67.6 233.7h0.8M66.5 224.4h0.8M62.1 234.5h0.8M59.5 234.0h0.8M66.7 227.8h0.8M71.7 222.7h0.8M69.5 229.7h0.8M70.3 230.5h0.8M66.4 228.8h0.8M62.2 234.5h0.8M71.4 225.7h0.8M69.9 238.4h0.8M71.3 227.2h0.8M71.2 231.6h0.8M62.8 234.4h0.8M75.1 228.8h0.8M66.3 229.3h0.8M65.4 236.8h0.8M61.9 232.9h0.8M67.4 231.1h0.8M56.4 233.1h0.8M56.7 233.5h0.8M64.6 231.3h0.8M61.7 227.5h0.8M57.2 230.8h0.8M64.7 231.8h0.8M63.1 233.7h0.8M66.5 231.2h0.8M63.4 230.7h0.8M70.5 228.1h0.8M55.8 232.2h0.8M68.7 230.9h0.8M67.2 225.9h0.8M57.7 230.7h0.8M65.1 226.1h0.8M69.0 223.6h0.8M75.1 226.8h0.8M60.9 226.8h0.8M54.7 229.6h0.8M66.6 229.6h0.8M65.1 225.3h0.8M73.6 231.9h0.8M51.2 237.1h0.8M70.3 234.8h0.8M73.3 235.6h0.8M52.0 231.0h0.8M59.2 238.0h0.8M70.7 230.7h0.8M63.3 222.8h0.8M66.1 227.6h0.8M76.0 233.5h0.8M64.7 229.3h0.8M74.0 228.7h0.8M73.9 231.5h0.8M63.0 232.1h0.8M79.0 224.7h0.8M71.2 233.5h0.8M63.2 236.2h0.8M70.6 232.8h0.8M57.3 232.9h0.8M55.1 232.6h0.8M82.2 227.4h0.8M77.6 226.7h0.8M65.8 233.4h0.8M53.9 232.0h0.8M59.2 228.4h0.8M71.9 230.4h0.8M68.5 230.8h0.8M68.3 236.6h0.8M66.3 229.7h0.8M65.5 233.4h0.8M68.9 222.7h0.8M64.7 232.4h0.8M85.9 228.5h0.8M63.1 226.4h0.8M64.7 224.1h0.8M58.6 230.4h0.8M53.4 229.7h0.8M59.9 235.4h0.8M77.9 238.7h0.8M66.4 233.2h0.8M84.0 228.3h0.8M78.7 227.3h0.8M73.6 224.9h0.8M62.1 230.0h0.8M63.3 223.4h0.8M66.3 229.6h0.8M77.0 232.9h0.8M73.7 230.4h0.8M59.7 225.6h0.8M62.3 227.2h0.8M63.1 229.5h0.8M75.4 227.0h0.8M67.9 226.6h0.8M67.4 234.6h0.8M60.7 226.3h0.8M65.5 230.8h0.8M60.2 232.3h0.8M65.8 233.3h0.8M54.4 233.6h0.8M75.3 227.6h0.8M81.0 231.6h0.8M54.9 226.7h0.8M59.3 228.3h0.8M63.4 231.8h0.8M63.6 229.5h0.8M57.6 223.0h0.8M59.6 226.1h0.8M72.2 221.6h0.8M74.3 219.9h0.8M63.7 230.8h0.8M56.4 227.0h0.8M72.2 226.6h0.8M64.5 230.9h0.8M70.4 225.9h0.8M75.7 230.1h0.8M73.3 225.4h0.8M73.9 230.4h0.8M71.4 228.3h0.8M72.1 230.8h0.8M59.9 232.5h0.8M63.7 229.0h0.8M62.3 234.2h0.8M72.7 234.2h0.8M52.3 233.8h0.8M68.3 235.0h0.8M65.2 231.2h0.8M59.6 238.3h0.8M62.6 234.9h0.8M58.8 230.2h0.8M62.1 230.3h0.8M61.2 233.1h0.8M70.5 224.6h0.8M61.7 225.7h0.8M73.8 226.0h0.8M69.0 231.3h0.8M64.8 223.3h0.8M78.8 230.2h0.8M70.7 234.7h0.8M57.3 227.0h0.8M79.0 238.1h0.8M58.7 230.4h0.8M72.8 230.2h0.8M75.8 233.0h0.8M64.7 233.3h0.8M61.5 235.5h0.8M60.0 235.7h0.8M85.3 224.1h0.8M78.8 225.1h0.8M64.7 237.7h0.8M73.9 233.3h0.8M68.3 231.4h0.8M69.0 230.0h0.8M63.0 226.0h0.8M79.2 230.7h0.8M80.5 233.6h0.8M68.9 226.6h0.8M63.2 230.9h0.8M64.3 229.6h0.8M63.3 228.9h0.8M62.7 224.8h0.8M58.4 236.3h0.8M57.7 228.7h0.8M58.7 230.1h0.8M61.1 238.3h0.8M57.0 235.9h0.8M61.5 232.4h0.8M85.6 230.7h0.8M65.2 219.8h0.8M62.6 229.9h0.8M66.3 231.6h0.8M56.5 227.2h0.8M71.4 229.7h0.8M65.6 233.3h0.8M66.2 231.3h0.8M56.7 230.8h0.8M51.7 237.5h0.8M59.2 237.2h0.8M61.4 230.2h0.8M75.8 231.6h0.8M66.8 229.7h0.8M63.3 228.0h0.8M59.2 224.0h0.8M64.1 227.8h0.8M76.6 238.9h0.8M80.6 226.2h0.8M62.5 230.3h0.8M53.1 236.7h0.8M71.1 231.9h0.8M80.9 232.7h0.8M63.0 231.9h0.8M61.7 232.6h0.8M54.9 232.7h0.8M63.0 229.2h0.8M62.3 230.3h0.8M51.4 233.1h0.8M63.8 237.6h0.8M65.3 234.4h0.8M65.2 230.3h0.8M55.6 229.0h0.8M60.7 221.6h0.8M63.1 228.1h0.8M67.9 234.7h0.8M63.0 235.3h0.8M75.4 233.7h0.8M62.8 231.2h0.8M78.6 236.7h0.8M74.6 224.2h0.8M71.2 236.0h0.8M70.1 229.7h0.8M69.2 230.7h0.8M77.5 234.0h0.8M57.8 227.9h0.8M73.6 234.2h0.8M67.8 232.1h0.8M55.4 227.6h0.8M69.7 223.8h0.8M69.4 233.1h0.8M70.8 234.1h0.8M80.8 232.0h0.8M58.9 224.3h0.8M72.6 224.4h0.8M66.9 228.1h0.8M63.5 231.7h0.8M65.8 226.3h0.8M71.6 230.3h0.8M78.2 229.4h0.8M78.4 224.8h0.8M63.5 235.8h0.8M76.1 232.8h0.8M74.1 229.3h0.8M71.3 234.5h0.8M73.2 232.3h0.8M72.3 232.5h0.8M70.4 224.9h0.8M70.4 227.3h0.8M62.5 231.1h0.8M67.5 225.8h0.8M61.2 231.8h0.8M62.2 231.0h0.8M67.4 231.7h0.8M61.1 231.5h0.8M70.1 226.0h0.8M71.8 227.0h0.8M68.5 233.2h0.8M70.7 226.3h0.8M58.1 226.3h0.8M70.1 231.4h0.8M51.0 233.7h0.8M75.0 228.8h0.8M64.9 231.8h0.8M57.3 229.2h0.8M69.9 229.5h0.8M65.4 231.3h0.8M79.3 231.8h0.8M68.2 229.0h0.8M75.4 231.1h0.8M65.2 235.8h0.8M76.3 227.3h0.8M63.0 235.7h0.8M61.7 236.8h0.8M64.2 238.3h0.8M57.7 223.4h0.8M53.8 238.4h0.8M59.6 229.2h0.8M60.8 228.0h0.8M66.7 231.3h0.8M60.4 228.8h0.8M76.2 234.5h0.8M73.4 235.6h0.8M63.9 234.2h0.8M78.7 227.7h0.8M76.4 221.4h0.8M57.4 227.1h0.8M61.5 233.9h0.8M59.5 229.4h0.8M55.0 224.7h0.8M63.9 227.9h0.8M72.5 231.2h0.8M50.8 233.6h0.8M55.8 229.3h0.8M57.0 227.6h0.8M60.5 226.2h0.8M59.4 229.7h0.8M71.1 233.5h0.8M79.7 224.6h0.8M62.2 235.4h0.8M56.3 230.1h0.8M71.2 236.6h0.8M69.9 232.0h0.8M64.0 233.1h0.8M66.1 232.1h0.8M60.1 230.3h0.8M58.2 226.6h0.8M58.5 227.5h0.8M59.9 228.5h0.8M53.1 231.9h0.8M67.8 236.6h0.8M57.5 227.4h0.8M65.8 227.5h0.8M59.1 233.5h0.8M63.8 224.6h0.8M72.9 239.3h0.8M74.3 230.1h0.8M76.1 230.5h0.8M62.4 231.7h0.8M75.6 231.2h0.8M62.8 225.4h0.8M66.8 226.6h0.8M64.5 225.4h0.8M58.3 227.0h0.8M59.9 226.4h0.8M75.1 233.7h0.8M62.6 226.8h0.8M74.0 229.8h0.8M69.8 234.5h0.8M62.0 232.4h0.8M68.8 229.1h0.8M63.9 228.3h0.8M78.4 234.6h0.8M87.0 231.0h0.8M72.3 228.3h0.8M59.2 227.4h0.8M68.9 233.7h0.8M72.5 233.7h0.8M55.0 231.5h0.8M67.8 225.6h0.8M56.1 239.1h0.8M59.8 228.8h0.8M76.1 232.2h0.8M58.4 230.8h0.8M68.1 232.9h0.8M57.3 232.1h0.8M59.9 228.8h0.8M58.4 227.7h0.8M69.1 224.0h0.8M58.1 229.6h0.8M64.6 236.6h0.8M53.8 232.8h0.8M64.4 238.1h0.8M63.5 238.2h0.8M57.5 232.1h0.8M56.4 228.4h0.8M55.2 229.2h0.8M77.5 228.7h0.8M84.9 236.8h0.8M67.6 230.7h0.8M67.7 227.8h0.8M69.9 231.0h0.8M69.8 230.9h0.8M67.6 230.7h0.8M61.3 234.7h0.8M76.3 229.5h0.8M71.5 226.6h0.8M75.1 227.6h0.8M65.5 234.3h0.8M61.2 230.8h0.8M73.2 228.6h0.8M67.9 234.8h0.8M67.2 227.7h0.8M62.0 229.7h0.8M65.3 233.0h0.8M52.8 230.4h0.8M66.7 236.3h0.8M53.6 227.3h0.8M72.2 230.5h0.8M73.8 230.5h0.8M60.0 230.5h0.8M74.9 233.4h0.8M66.7 231.2h0.8M73.6 233.0h0.8M67.1 233.4h0.8M65.9 226.5h0.8M72.3 235.2h0.8M76.2 230.4h0.8M55.6 232.2h0.8M60.5 223.7h0.8M66.3 227.8h0.8M65.7 228.9h0.8M71.6 233.9h0.8M69.1 235.1h0.8M51.6 233.4h0.8M73.3 229.2h0.8M66.1 226.2h0.8M61.7 231.8h0.8M55.2 223.4h0.8M62.3 227.5h0.8M57.6 230.0h0.8M54.3 234.7h0.8M74.2 230.8h0.8M60.5 230.4h0.8M64.3 227.7h0.8M60.0 232.2h0.8M58.0 228.3h0.8M61.6 226.9h0.8M67.1 225.9h0.8M72.4 233.3h0.8M64.9 233.8h0.8M73.7 229.2h0.8M64.7 228.4h0.8M62.2 229.2h0.8M65.7 232.6h0.8M82.2 231.9h0.8M72.5 229.8h0.8M78.0 231.1h0.8M63.7 229.6h0.8M65.3 229.2h0.8M66.5 237.2h0.8M65.6 227.8h0.8M57.2 227.8h0.8M66.2 231.9h0.8M68.7 234.9h0.8M57.7 228.2h0.8M58.2 226.9h0.8M60.0 227.5h0.8M70.4 226.7h0.8M82.1 223.0h0.8M71.5 224.8h0.8M61.3 226.1h0.8M65.1 232.4h0.8M61.8 228.2h0.8M57.3 227.5h0.8M58.4 228.1h0.8M65.5 233.8h0.8M59.5 223.1h0.8M62.1 233.6h0.8M57.0 231.9h0.8M55.9 225.9h0.8M66.6 223.7h0.8M61.7 220.6h0.8M56.7 231.9h0.8M61.0 227.9h0.8M69.0 227.1h0.8M55.9 229.0h0.8M64.2 231.0h0.8M63.4 234.9h0.8M69.1 230.0h0.8M82.6 224.8h0.8M66.7 227.6h0.8M81.4 231.5h0.8M71.1 231.9h0.8M76.1 228.5h0.8M71.8 224.2h0.8M69.1 234.7h0.8M71.5 232.7h0.8M62.1 236.1h0.8M68.9 232.9h0.8M74.8 232.4h0.8M54.2 227.5h0.8M63.2 225.7h0.8M68.5 228.9h0.8M62.3 235.2h0.8M63.9 229.5h0.8M73.4 229.1h0.8M68.7 236.8h0.8M54.1 225.2h0.8M59.2 229.7h0.8M56.2 231.4h0.8M58.7 234.6h0.8M68.6 232.9h0.8M66.4 231.2h0.8M52.1 229.6h0.8M50.9 235.3h0.8" stroke="#000" stroke-width="0.8" stroke-opacity="0.45" fill="none"/>
<path d="M73.2 227.8h0.8M77.1 238.3h0.8M73.3 236.5h0.8M78.5 229.0h0.8M79.6 229.0h0.8M75.6 233.3h0.8M77.1 233.9h0.8M83.2 234.0h0.8M88.9 234.5h0.8M74.3 235.4h0.8M65.4 235.1h0.8M86.8 227.2h0.8M87.2 224.5h0.8M85.6 229.5h0.8M78.1 230.3h0.8M76.5 233.3h0.8M79.5 230.7h0.8M80.1 229.6h0.8M73.9 232.9h0.8M84.6 226.9h0.8M85.3 235.2h0.8M80.8 235.8h0.8M67.2 235.5h0.8M75.5 231.9h0.8M74.4 239.2h0.8M77.4 233.1h0.8M71.3 229.9h0.8M82.3 230.5h0.8M75.4 235.9h0.8M70.8 231.2h0.8M78.8 229.6h0.8M83.6 231.7h0.8M78.7 233.1h0.8M79.3 232.7h0.8M87.2 231.7h0.8M80.2 228.9h0.8M88.0 234.2h0.8M82.9 231.9h0.8M75.0 231.2h0.8M81.6 226.9h0.8M74.3 230.5h0.8M91.0 232.1h0.8M71.4 235.2h0.8M85.0 233.3h0.8M76.6 230.5h0.8M92.5 234.7h0.8M106.5 224.7h0.8M70.6 229.4h0.8M74.5 228.6h0.8M84.1 235.4h0.8M71.5 232.8h0.8M84.8 231.8h0.8M87.7 234.9h0.8M75.1 231.4h0.8M81.4 226.8h0.8M78.5 234.4h0.8M82.1 231.0h0.8M94.9 233.0h0.8M85.4 228.0h0.8M87.0 229.4h0.8M78.8 229.5h0.8M72.4 232.9h0.8M72.7 233.8h0.8M75.2 235.3h0.8M81.8 234.9h0.8M73.4 232.9h0.8M84.2 231.9h0.8M79.2 228.9h0.8M60.9 232.7h0.8M72.5 227.4h0.8M82.1 221.9h0.8M75.4 233.3h0.8M80.0 230.2h0.8M75.3 231.5h0.8M70.9 229.0h0.8M84.6 227.8h0.8M79.1 229.7h0.8M72.6 224.2h0.8M74.8 228.3h0.8M73.8 230.8h0.8M81.7 233.1h0.8M82.0 226.9h0.8M88.0 232.2h0.8M84.2 226.6h0.8M86.3 238.8h0.8M83.0 234.8h0.8M76.5 231.5h0.8M79.6 233.2h0.8M80.9 231.9h0.8M74.6 226.9h0.8M74.1 232.8h0.8M87.8 228.8h0.8M70.3 232.2h0.8M79.7 228.0h0.8M88.8 233.4h0.8M79.9 226.3h0.8M87.3 234.9h0.8M84.9 236.6h0.8M73.8 227.5h0.8M85.1 232.5h0.8M79.7 229.3h0.8M86.0 231.9h0.8M85.1 227.1h0.8M80.3 232.4h0.8M86.0 225.2h0.8M78.8 228.7h0.8M80.0 230.5h0.8M82.5 233.7h0.8M81.6 230.7h0.8M85.2 235.8h0.8M80.4 228.2h0.8M90.4 234.2h0.8M92.9 229.6h0.8M77.7 230.4h0.8M79.5 225.9h0.8M85.0 225.8h0.8M63.6 230.8h0.8M73.7 231.9h0.8M73.1 226.3h0.8M67.8 226.6h0.8M78.3 238.4h0.8M84.0 228.8h0.8M88.0 231.8h0.8M68.9 224.9h0.8M71.0 229.0h0.8M80.2 228.9h0.8M76.8 227.7h0.8M81.0 233.7h0.8M73.6 235.3h0.8M75.0 230.0h0.8M89.9 233.1h0.8M80.3 224.3h0.8M80.5 229.8h0.8M78.7 234.8h0.8M76.7 237.2h0.8M80.3 231.6h0.8M78.2 231.3h0.8M88.1 231.9h0.8M74.1 228.3h0.8M87.0 232.9h0.8M74.9 230.6h0.8M80.6 233.0h0.8M74.3 231.4h0.8M72.3 228.3h0.8M78.7 235.7h0.8M79.5 236.8h0.8M82.3 235.5h0.8M79.1 224.7h0.8M67.0 229.5h0.8M90.6 230.5h0.8M77.0 233.1h0.8M77.8 229.7h0.8M81.2 232.4h0.8M76.5 228.2h0.8M89.6 228.0h0.8M74.6 230.4h0.8M79.2 232.0h0.8M89.3 235.6h0.8M79.8 231.4h0.8M85.8 230.6h0.8M81.0 227.2h0.8M82.4 230.7h0.8M71.5 231.8h0.8M93.2 232.2h0.8M75.2 235.5h0.8M82.1 231.7h0.8M89.1 234.2h0.8M92.5 228.2h0.8" stroke="#000" stroke-width="0.8" stroke-opacity="0.45" fill="none"/>
<path d="M74.8 213.9h0.8M77.3 210.3h0.8M77.6 209.6h0.8M74.0 213.6h0.8M78.5 214.2h0.8M73.4 215.4h0.8M78.5 213.0h0.8M76.9 212.2h0.8M87.0 215.2h0.8M79.1 216.8h0.8M72.3 213.2h0.8M75.6 215.1h0.8M74.8 211.6h0.8M68.8 212.4h0.8M82.0 213.8h0.8M71.0 220.1h0.8M74.3 212.9h0.8M76.2 213.9h0.8M75.1 213.9h0.8M81.4 215.1h0.8M73.5 213.9h0.8M72.9 213.3h0.8M76.3 212.9h0.8M79.5 210.5h0.8M79.4 215.1h0.8M75.2 213.1h0.8M79.8 211.9h0.8M75.5 214.5h0.8M64.9 218.2h0.8M78.6 214.8h0.8M69.8 214.1h0.8M79.5 214.6h0.8M73.8 213.1h0.8M84.9 212.6h0.8M82.4 208.7h0.8M78.8 211.7h0.8M75.2 217.5h0.8M71.1 212.3h0.8M73.4 213.8h0.8M77.4 214.7h0.8M83.5 213.4h0.8M86.5 214.4h0.8M79.7 212.6h0.8M83.8 211.3h0.8M82.0 212.6h0.8M74.6 216.0h0.8M80.6 213.6h0.8M82.6 212.7h0.8M73.4 214.6h0.8M85.8 209.0h0.8M67.9 215.7h0.8M72.7 218.3h0.8M77.3 211.0h0.8M76.2 211.2h0.8M80.0 215.5h0.8M83.7 215.0h0.8M77.6 216.7h0.8M78.7 209.7h0.8M83.3 209.8h0.8M73.2 210.2h0.8M71.6 209.0h0.8M70.3 212.8h0.8M70.8 213.9h0.8M80.8 211.9h0.8M79.8 216.0h0.8M74.8 218.1h0.8M76.8 213.5h0.8M79.6 216.7h0.8M71.5 217.4h0.8M74.6 214.4h0.8M70.5 208.1h0.8M83.3 214.3h0.8M71.2 212.4h0.8M70.9 214.8h0.8M87.2 210.9h0.8M68.9 217.4h0.8M71.5 210.5h0.8M78.9 213.2h0.8M78.3 215.3h0.8M80.6 207.1h0.8M78.5 216.4h0.8M82.6 209.5h0.8M67.2 212.8h0.8M78.8 212.6h0.8M81.0 212.2h0.8M70.0 212.1h0.8M76.3 216.0h0.8M83.9 209.3h0.8M79.2 212.9h0.8M70.5 211.8h0.8M84.6 210.7h0.8M76.8 214.9h0.8M79.2 215.0h0.8M72.7 213.5h0.8M78.5 214.2h0.8M72.3 210.0h0.8M81.8 214.8h0.8M81.7 212.2h0.8M67.7 214.6h0.8M87.4 212.1h0.8M77.3 209.1h0.8M74.3 216.9h0.8M78.6 212.9h0.8M83.7 214.0h0.8M79.7 212.5h0.8M79.7 215.8h0.8M77.8 210.0h0.8M75.9 213.1h0.8M79.9 216.5h0.8M76.4 212.5h0.8M81.0 214.0h0.8M73.3 215.7h0.8M78.2 214.3h0.8M68.2 210.1h0.8M68.4 210.9h0.8M82.5 215.1h0.8M71.4 218.9h0.8M70.8 212.8h0.8M87.1 207.8h0.8M81.0 215.0h0.8M83.0 214.1h0.8M79.2 217.3h0.8M76.7 213.9h0.8M78.8 212.3h0.8M77.0 216.9h0.8M85.5 213.4h0.8M76.2 212.4h0.8M74.9 213.1h0.8M74.7 213.9h0.8M76.5 216.7h0.8M69.7 214.1h0.8M80.9 211.6h0.8M75.3 215.5h0.8M76.1 211.2h0.8M78.2 215.1h0.8M69.1 217.9h0.8M68.8 217.4h0.8M70.5 215.7h0.8M77.4 216.3h0.8M76.4 212.6h0.8M73.4 215.0h0.8M76.3 216.2h0.8M79.9 216.4h0.8M80.7 213.3h0.8M77.1 215.3h0.8M80.1 209.3h0.8M78.9 212.2h0.8M79.1 215.3h0.8M67.3 215.5h0.8M81.1 208.0h0.8M78.2 213.4h0.8M74.8 216.6h0.8M81.7 212.6h0.8M85.0 215.9h0.8M78.6 215.6h0.8M82.5 217.2h0.8M81.6 214.5h0.8M78.1 215.4h0.8M85.0 211.7h0.8M76.0 211.2h0.8M89.8 209.7h0.8M74.3 212.7h0.8M83.3 213.2h0.8M67.0 216.3h0.8M86.3 211.5h0.8M79.4 221.0h0.8M75.8 213.4h0.8M81.8 219.3h0.8M78.4 208.9h0.8M76.3 213.2h0.8M80.7 211.9h0.8M77.1 210.2h0.8M70.9 215.2h0.8M84.9 209.3h0.8M69.9 218.5h0.8M79.6 215.3h0.8M76.5 214.5h0.8M76.8 213.8h0.8M86.0 210.6h0.8M75.2 214.1h0.8M77.3 218.3h0.8M76.6 214.9h0.8M71.4 216.5h0.8M80.9 214.7h0.8M68.8 213.8h0.8M65.0 221.0h0.8M77.7 218.1h0.8M87.5 214.2h0.8M73.9 213.8h0.8M80.1 207.7h0.8M85.1 216.0h0.8M81.5 211.9h0.8M78.1 209.1h0.8M72.2 213.6h0.8M74.4 218.9h0.8M78.1 206.8h0.8M83.3 213.7h0.8M75.6 212.0h0.8M87.8 212.0h0.8M77.6 209.2h0.8M74.8 216.7h0.8M77.6 212.3h0.8M74.7 209.8h0.8M65.1 217.8h0.8M69.0 211.2h0.8M79.3 215.7h0.8M76.1 216.9h0.8M75.6 205.4h0.8M84.8 209.0h0.8M85.0 211.1h0.8M76.6 212.5h0.8M72.5 216.4h0.8M86.4 215.2h0.8M74.7 215.6h0.8M82.8 214.0h0.8M71.8 220.5h0.8M73.0 212.3h0.8M78.0 214.1h0.8M73.6 210.8h0.8M71.0 215.0h0.8M68.3 218.7h0.8M80.6 213.5h0.8M77.7 211.1h0.8M74.9 216.6h0.8M75.5 218.4h0.8M82.8 214.3h0.8M75.4 211.5h0.8M75.8 211.3h0.8M75.1 213.1h0.8M75.0 217.3h0.8M72.2 212.7h0.8M83.3 213.0h0.8M79.3 211.4h0.8M79.6 216.7h0.8M77.5 214.8h0.8M83.7 213.8h0.8M82.7 209.1h0.8M67.6 212.7h0.8M78.9 211.4h0.8M68.0 220.7h0.8M83.5 210.7h0.8M73.4 212.6h0.8M81.1 214.0h0.8M78.7 217.1h0.8M72.3 211.4h0.8M77.1 213.5h0.8M77.9 214.6h0.8M70.3 219.6h0.8M68.3 216.5h0.8M79.4 215.4h0.8M77.8 211.2h0.8M75.4 210.3h0.8M76.2 213.2h0.8M69.0 221.6h0.8M74.4 215.8h0.8M83.8 212.1h0.8M74.4 211.2h0.8M73.0 212.6h0.8M76.8 215.9h0.8M79.0 217.4h0.8M79.3 213.8h0.8M61.6 216.7h0.8M77.6 209.4h0.8M76.4 211.9h0.8M76.0 213.8h0.8M75.7 213.8h0.8M79.1 214.1h0.8M74.3 216.8h0.8M77.6 214.5h0.8M87.0 216.1h0.8" stroke="#000" stroke-width="0.8" stroke-opacity="0.45" fill="none"/>
<path d="M81.4 213.9h0.8M69.1 216.0h0.8M66.9 214.1h0.8M72.0 218.0h0.8M81.6 213.0h0.8M69.4 212.3h0.8M64.3 207.5h0.8M81.0 209.8h0.8M66.9 209.2h0.8M63.8 211.5h0.8M51.5 211.4h0.8M64.6 214.2h0.8M52.6 216.5h0.8M64.0 211.2h0.8M76.8 212.5h0.8M67.8 219.1h0.8M66.6 214.2h0.8M72.9 213.3h0.8M66.6 214.1h0.8M63.5 216.8h0.8M68.1 218.8h0.8M68.9 210.3h0.8M68.9 213.7h0.8M64.4 217.5h0.8M69.0 209.8h0.8M80.2 214.1h0.8M54.7 213.6h0.8M69.5 211.2h0.8M60.1 209.2h0.8M68.0 213.0h0.8M76.8 215.4h0.8M67.8 212.7h0.8M73.0 210.4h0.8M68.1 216.0h0.8M60.6 211.0h0.8M74.2 220.0h0.8M68.9 220.0h0.8M69.3 214.0h0.8M63.3 210.9h0.8M72.5 212.9h0.8M61.7 215.6h0.8M69.5 212.3h0.8M67.6 214.1h0.8M67.1 214.1h0.8M63.2 207.3h0.8M61.9 218.1h0.8M63.8 215.1h0.8M70.3 211.5h0.8M66.6 213.7h0.8M68.6 216.4h0.8M66.6 213.9h0.8M72.8 214.9h0.8M55.7 218.3h0.8M69.3 212.8h0.8M65.7 211.7h0.8M67.1 210.1h0.8M73.1 215.9h0.8M59.1 216.0h0.8M55.9 212.9h0.8M59.1 216.6h0.8M70.9 210.5h0.8M67.3 216.0h0.8M63.7 221.8h0.8M55.1 218.5h0.8M76.6 213.5h0.8M58.1 218.1h0.8M56.0 214.5h0.8M62.1 210.6h0.8M70.0 218.0h0.8M56.5 216.5h0.8M66.7 212.5h0.8M62.3 216.2h0.8M73.9 213.7h0.8M68.8 208.7h0.8M62.4 214.5h0.8M64.0 215.4h0.8M59.8 216.4h0.8M61.9 214.1h0.8M70.6 218.6h0.8M58.8 214.2h0.8M58.8 214.6h0.8M61.9 210.9h0.8M73.8 215.6h0.8M66.0 218.5h0.8M54.5 215.7h0.8M77.2 213.4h0.8M59.8 212.1h0.8M74.6 217.7h0.8M68.2 217.3h0.8M61.3 213.3h0.8M71.7 211.6h0.8M67.5 214.4h0.8M60.0 215.1h0.8M57.0 212.5h0.8M52.0 210.7h0.8M59.7 215.5h0.8M66.0 210.7h0.8M64.1 221.2h0.8M66.4 215.7h0.8M51.1 212.9h0.8M73.9 210.1h0.8M59.6 212.2h0.8M64.9 216.2h0.8M53.6 216.5h0.8M68.7 210.9h0.8M59.9 212.8h0.8M77.0 211.4h0.8M72.6 220.3h0.8M63.1 212.0h0.8M65.8 211.4h0.8M63.1 211.2h0.8M55.3 209.5h0.8M72.2 212.3h0.8M57.6 217.6h0.8M64.4 213.3h0.8M60.3 214.4h0.8M63.5 213.0h0.8M64.4 216.7h0.8M64.3 218.3h0.8M72.5 211.2h0.8M58.8 210.5h0.8M60.3 216.5h0.8M63.2 212.8h0.8M66.3 207.7h0.8M67.9 213.8h0.8M70.3 213.4h0.8" stroke="#000" stroke-width="0.8" stroke-opacity="0.33" fill="none"/>
<path d="M104.5 233.1h0.8M91.4 230.6h0.8M85.3 224.1h0.8M83.3 226.6h0.8M82.1 222.2h0.8M92.1 220.3h0.8M100.3 223.0h0.8M91.9 226.1h0.8M104.6 230.7h0.8M91.9 224.7h0.8M103.0 227.0h0.8M83.8 228.3h0.8M100.7 227.5h0.8M94.9 235.1h0.8M89.1 231.5h0.8M110.1 236.2h0.8M82.7 230.3h0.8M107.2 232.8h0.8M106.3 230.5h0.8M83.8 238.9h0.8M77.3 231.6h0.8M102.2 228.7h0.8M104.6 227.6h0.8M102.5 228.9h0.8M87.0 232.6h0.8M88.7 230.9h0.8M83.9 228.9h0.8M99.9 233.5h0.8M83.4 225.0h0.8M94.3 222.5h0.8M101.3 230.9h0.8M86.1 230.6h0.8M99.8 237.6h0.8M90.9 234.0h0.8M90.9 226.3h0.8M90.2 229.1h0.8M79.4 225.9h0.8M109.4 218.6h0.8M103.4 231.6h0.8M90.1 223.8h0.8M106.0 226.0h0.8M97.5 226.6h0.8M83.2 233.0h0.8" stroke="#000" stroke-width="0.8" stroke-opacity="0.33" fill="none"/>
<line x1="47.70" y1="164.50" x2="50.50" y2="164.50" stroke="#333" stroke-width="0.9"/>
<line x1="48.90" y1="177.78" x2="50.50" y2="177.78" stroke="#333" stroke-width="0.65"/>
<line x1="48.90" y1="174.43" x2="50.50" y2="174.43" stroke="#333" stroke-width="0.65"/>
<line x1="48.90" y1="172.06" x2="50.50" y2="172.06" stroke="#333" stroke-width="0.65"/>
<line x1="48.90" y1="170.22" x2="50.50" y2="170.22" stroke="#333" stroke-width="0.65"/>
<line x1="48.90" y1="168.72" x2="50.50" y2="168.72" stroke="#333" stroke-width="0.65"/>
<line x1="48.90" y1="167.44" x2="50.50" y2="167.44" stroke="#333" stroke-width="0.65"/>
<line x1="48.90" y1="166.34" x2="50.50" y2="166.34" stroke="#333" stroke-width="0.65"/>
<line x1="48.90" y1="165.37" x2="50.50" y2="165.37" stroke="#333" stroke-width="0.65"/>
<text x="41.90" y="165.60" font-size="3.0" style="fill:#222">10</text>
<text x="45.20" y="164.40" font-size="2.1" style="fill:#222">4</text>
<line x1="47.70" y1="183.50" x2="50.50" y2="183.50" stroke="#333" stroke-width="0.9"/>
<line x1="48.90" y1="196.78" x2="50.50" y2="196.78" stroke="#333" stroke-width="0.65"/>
<line x1="48.90" y1="193.43" x2="50.50" y2="193.43" stroke="#333" stroke-width="0.65"/>
<line x1="48.90" y1="191.06" x2="50.50" y2="191.06" stroke="#333" stroke-width="0.65"/>
<line x1="48.90" y1="189.22" x2="50.50" y2="189.22" stroke="#333" stroke-width="0.65"/>
<line x1="48.90" y1="187.72" x2="50.50" y2="187.72" stroke="#333" stroke-width="0.65"/>
<line x1="48.90" y1="186.44" x2="50.50" y2="186.44" stroke="#333" stroke-width="0.65"/>
<line x1="48.90" y1="185.34" x2="50.50" y2="185.34" stroke="#333" stroke-width="0.65"/>
<line x1="48.90" y1="184.37" x2="50.50" y2="184.37" stroke="#333" stroke-width="0.65"/>
<text x="41.90" y="184.60" font-size="3.0" style="fill:#222">10</text>
<text x="45.20" y="183.40" font-size="2.1" style="fill:#222">3</text>
<line x1="47.70" y1="202.50" x2="50.50" y2="202.50" stroke="#333" stroke-width="0.9"/>
<line x1="48.90" y1="215.78" x2="50.50" y2="215.78" stroke="#333" stroke-width="0.65"/>
<line x1="48.90" y1="212.43" x2="50.50" y2="212.43" stroke="#333" stroke-width="0.65"/>
<line x1="48.90" y1="210.06" x2="50.50" y2="210.06" stroke="#333" stroke-width="0.65"/>
<line x1="48.90" y1="208.22" x2="50.50" y2="208.22" stroke="#333" stroke-width="0.65"/>
<line x1="48.90" y1="206.72" x2="50.50" y2="206.72" stroke="#333" stroke-width="0.65"/>
<line x1="48.90" y1="205.44" x2="50.50" y2="205.44" stroke="#333" stroke-width="0.65"/>
<line x1="48.90" y1="204.34" x2="50.50" y2="204.34" stroke="#333" stroke-width="0.65"/>
<line x1="48.90" y1="203.37" x2="50.50" y2="203.37" stroke="#333" stroke-width="0.65"/>
<text x="41.90" y="203.60" font-size="3.0" style="fill:#222">10</text>
<text x="45.20" y="202.40" font-size="2.1" style="fill:#222">2</text>
<line x1="47.70" y1="221.50" x2="50.50" y2="221.50" stroke="#333" stroke-width="0.9"/>
<line x1="48.90" y1="234.78" x2="50.50" y2="234.78" stroke="#333" stroke-width="0.65"/>
<line x1="48.90" y1="231.43" x2="50.50" y2="231.43" stroke="#333" stroke-width="0.65"/>
<line x1="48.90" y1="229.06" x2="50.50" y2="229.06" stroke="#333" stroke-width="0.65"/>
<line x1="48.90" y1="227.22" x2="50.50" y2="227.22" stroke="#333" stroke-width="0.65"/>
<line x1="48.90" y1="225.72" x2="50.50" y2="225.72" stroke="#333" stroke-width="0.65"/>
<line x1="48.90" y1="224.44" x2="50.50" y2="224.44" stroke="#333" stroke-width="0.65"/>
<line x1="48.90" y1="223.34" x2="50.50" y2="223.34" stroke="#333" stroke-width="0.65"/>
<line x1="48.90" y1="222.37" x2="50.50" y2="222.37" stroke="#333" stroke-width="0.65"/>
<text x="41.90" y="222.60" font-size="3.0" style="fill:#222">10</text>
<text x="45.20" y="221.40" font-size="2.1" style="fill:#222">1</text>
<line x1="72.25" y1="240.50" x2="72.25" y2="243.30" stroke="#333" stroke-width="0.9"/>
<line x1="57.05" y1="240.50" x2="57.05" y2="242.10" stroke="#333" stroke-width="0.65"/>
<line x1="60.88" y1="240.50" x2="60.88" y2="242.10" stroke="#333" stroke-width="0.65"/>
<line x1="63.59" y1="240.50" x2="63.59" y2="242.10" stroke="#333" stroke-width="0.65"/>
<line x1="65.70" y1="240.50" x2="65.70" y2="242.10" stroke="#333" stroke-width="0.65"/>
<line x1="67.42" y1="240.50" x2="67.42" y2="242.10" stroke="#333" stroke-width="0.65"/>
<line x1="68.88" y1="240.50" x2="68.88" y2="242.10" stroke="#333" stroke-width="0.65"/>
<line x1="70.14" y1="240.50" x2="70.14" y2="242.10" stroke="#333" stroke-width="0.65"/>
<line x1="71.25" y1="240.50" x2="71.25" y2="242.10" stroke="#333" stroke-width="0.65"/>
<text x="70.65" y="247.10" font-size="3.2" style="fill:#222">10</text>
<text x="74.15" y="245.80" font-size="2.2" style="fill:#222">1</text>
<line x1="94.00" y1="240.50" x2="94.00" y2="243.30" stroke="#333" stroke-width="0.9"/>
<line x1="78.80" y1="240.50" x2="78.80" y2="242.10" stroke="#333" stroke-width="0.65"/>
<line x1="82.63" y1="240.50" x2="82.63" y2="242.10" stroke="#333" stroke-width="0.65"/>
<line x1="85.34" y1="240.50" x2="85.34" y2="242.10" stroke="#333" stroke-width="0.65"/>
<line x1="87.45" y1="240.50" x2="87.45" y2="242.10" stroke="#333" stroke-width="0.65"/>
<line x1="89.17" y1="240.50" x2="89.17" y2="242.10" stroke="#333" stroke-width="0.65"/>
<line x1="90.63" y1="240.50" x2="90.63" y2="242.10" stroke="#333" stroke-width="0.65"/>
<line x1="91.89" y1="240.50" x2="91.89" y2="242.10" stroke="#333" stroke-width="0.65"/>
<line x1="93.00" y1="240.50" x2="93.00" y2="242.10" stroke="#333" stroke-width="0.65"/>
<text x="92.40" y="247.10" font-size="3.2" style="fill:#222">10</text>
<text x="95.90" y="245.80" font-size="2.2" style="fill:#222">2</text>
<line x1="115.75" y1="240.50" x2="115.75" y2="243.30" stroke="#333" stroke-width="0.9"/>
<line x1="100.55" y1="240.50" x2="100.55" y2="242.10" stroke="#333" stroke-width="0.65"/>
<line x1="104.38" y1="240.50" x2="104.38" y2="242.10" stroke="#333" stroke-width="0.65"/>
<line x1="107.09" y1="240.50" x2="107.09" y2="242.10" stroke="#333" stroke-width="0.65"/>
<line x1="109.20" y1="240.50" x2="109.20" y2="242.10" stroke="#333" stroke-width="0.65"/>
<line x1="110.92" y1="240.50" x2="110.92" y2="242.10" stroke="#333" stroke-width="0.65"/>
<line x1="112.38" y1="240.50" x2="112.38" y2="242.10" stroke="#333" stroke-width="0.65"/>
<line x1="113.64" y1="240.50" x2="113.64" y2="242.10" stroke="#333" stroke-width="0.65"/>
<line x1="114.75" y1="240.50" x2="114.75" y2="242.10" stroke="#333" stroke-width="0.65"/>
<text x="114.15" y="247.10" font-size="3.2" style="fill:#222">10</text>
<text x="117.65" y="245.80" font-size="2.2" style="fill:#222">3</text>
<line x1="137.50" y1="240.50" x2="137.50" y2="243.30" stroke="#333" stroke-width="0.9"/>
<line x1="122.30" y1="240.50" x2="122.30" y2="242.10" stroke="#333" stroke-width="0.65"/>
<line x1="126.13" y1="240.50" x2="126.13" y2="242.10" stroke="#333" stroke-width="0.65"/>
<line x1="128.84" y1="240.50" x2="128.84" y2="242.10" stroke="#333" stroke-width="0.65"/>
<line x1="130.95" y1="240.50" x2="130.95" y2="242.10" stroke="#333" stroke-width="0.65"/>
<line x1="132.67" y1="240.50" x2="132.67" y2="242.10" stroke="#333" stroke-width="0.65"/>
<line x1="134.13" y1="240.50" x2="134.13" y2="242.10" stroke="#333" stroke-width="0.65"/>
<line x1="135.39" y1="240.50" x2="135.39" y2="242.10" stroke="#333" stroke-width="0.65"/>
<line x1="136.50" y1="240.50" x2="136.50" y2="242.10" stroke="#333" stroke-width="0.65"/>
<text x="135.90" y="247.10" font-size="3.2" style="fill:#222">10</text>
<text x="139.40" y="245.80" font-size="2.2" style="fill:#222">4</text>
<rect x="50.50" y="164.50" width="87.00" height="76.00" fill="none" stroke="#777" stroke-width="1.0"/>
<line x1="69.50" y1="164.50" x2="69.50" y2="240.50" stroke="#3a3a3a" stroke-width="1.0"/>
<line x1="50.50" y1="221.50" x2="137.50" y2="221.50" stroke="#3a3a3a" stroke-width="1.0"/>
<line x1="118.50" y1="169.20" x2="118.50" y2="189.80" stroke="#111" stroke-width="1.0"/>
<line x1="104.00" y1="179.50" x2="132.60" y2="179.50" stroke="#111" stroke-width="1.0"/>
<text x="115.90" y="176.80" font-size="7.6" font-weight="bold" text-anchor="end" stroke="#111" stroke-width="0.3"></text>
<text x="122.30" y="176.80" font-size="7.6" font-weight="bold" stroke="#111" stroke-width="0.3">10</text>
<text x="115.90" y="187.20" font-size="7.6" font-weight="bold" text-anchor="end" stroke="#111" stroke-width="0.3">70</text>
<text x="122.30" y="187.20" font-size="7.6" font-weight="bold" stroke="#111" stroke-width="0.3">16</text>
<text x="113.50" y="176.80" font-size="7.6" font-weight="bold" text-anchor="end" stroke="#111" stroke-width="0.3">4</text>
<path d="M195.4 227.0h0.7M197.2 225.9h0.7M187.8 233.2h0.7M191.1 230.2h0.7M199.1 226.5h0.7M195.2 228.8h0.7M193.2 229.5h0.7M189.7 230.4h0.7M189.2 230.3h0.7M189.0 229.3h0.7M193.3 225.4h0.7M192.5 232.6h0.7M193.3 233.4h0.7M188.9 232.2h0.7M194.0 220.8h0.7M192.8 233.2h0.7M192.5 230.4h0.7M192.3 229.7h0.7M188.7 227.9h0.7M184.2 237.4h0.7M192.7 231.0h0.7M195.3 232.0h0.7M192.5 224.8h0.7M188.1 236.0h0.7M194.5 232.5h0.7M188.7 228.6h0.7M193.8 227.6h0.7M197.5 227.6h0.7M191.1 226.3h0.7M194.2 234.7h0.7M193.6 230.2h0.7M191.4 233.0h0.7M192.8 236.2h0.7M191.8 228.9h0.7M190.7 223.7h0.7M193.7 230.7h0.7M186.5 226.2h0.7M188.6 229.1h0.7M188.8 232.8h0.7M197.5 228.0h0.7M192.9 226.6h0.7M198.0 226.5h0.7M189.7 230.2h0.7M189.6 239.4h0.7M192.0 229.4h0.7M188.9 229.9h0.7M190.4 228.8h0.7M196.7 228.2h0.7M194.4 228.1h0.7M196.7 227.6h0.7M189.0 229.4h0.7M197.7 228.8h0.7M189.4 229.7h0.7M190.0 231.1h0.7M190.1 231.3h0.7M196.3 231.9h0.7M198.7 231.3h0.7M200.0 234.5h0.7M191.7 232.9h0.7M189.9 229.5h0.7M192.5 227.5h0.7M194.0 229.9h0.7M200.6 232.8h0.7M191.8 227.9h0.7M190.7 227.9h0.7M189.9 230.3h0.7M187.5 229.2h0.7M194.7 228.2h0.7M188.4 228.5h0.7M196.1 227.6h0.7M198.8 224.6h0.7M189.7 232.3h0.7M198.0 229.5h0.7M186.4 229.3h0.7M189.3 227.9h0.7M191.3 228.2h0.7M192.6 230.7h0.7M191.7 224.2h0.7M192.1 221.4h0.7M193.1 228.8h0.7M189.2 237.3h0.7M199.2 234.8h0.7M193.6 228.6h0.7M194.6 235.7h0.7M192.5 229.7h0.7M190.5 230.0h0.7M196.0 227.1h0.7M196.9 230.7h0.7M201.5 230.9h0.7M197.7 226.9h0.7M202.2 230.5h0.7M192.5 235.3h0.7M193.4 226.1h0.7M195.2 232.1h0.7M192.8 228.7h0.7" stroke="#000" stroke-width="0.7" stroke-opacity="0.5" fill="none"/>
<path d="M165.7 236.5h0.6M171.6 231.2h0.6M171.3 227.0h0.6M175.2 226.3h0.6M178.4 223.4h0.6M176.7 234.5h0.6M171.6 230.7h0.6M177.9 228.1h0.6M172.7 229.1h0.6M187.4 226.6h0.6M172.9 228.1h0.6M171.1 226.2h0.6M170.5 230.5h0.6M179.6 236.3h0.6M167.4 226.0h0.6M173.7 226.0h0.6M170.0 229.0h0.6M171.0 226.5h0.6M174.9 226.8h0.6M172.5 231.1h0.6M177.4 230.7h0.6M179.2 230.4h0.6M166.5 235.7h0.6M188.0 233.1h0.6M181.8 234.2h0.6M171.6 232.3h0.6M170.4 227.6h0.6M176.6 230.2h0.6M170.6 224.2h0.6M177.8 229.9h0.6M174.6 226.4h0.6M170.0 229.7h0.6M164.6 234.7h0.6M173.9 234.2h0.6M178.6 227.6h0.6M176.4 225.4h0.6M169.3 235.2h0.6M171.2 226.8h0.6M176.2 230.0h0.6M178.7 224.8h0.6M172.6 225.6h0.6M174.0 228.8h0.6M169.2 223.0h0.6M167.1 233.6h0.6M172.0 225.6h0.6" stroke="#000" stroke-width="0.6" stroke-opacity="0.35" fill="none"/>
<line x1="159.70" y1="164.50" x2="162.50" y2="164.50" stroke="#333" stroke-width="0.9"/>
<line x1="160.90" y1="177.78" x2="162.50" y2="177.78" stroke="#333" stroke-width="0.65"/>
<line x1="160.90" y1="174.43" x2="162.50" y2="174.43" stroke="#333" stroke-width="0.65"/>
<line x1="160.90" y1="172.06" x2="162.50" y2="172.06" stroke="#333" stroke-width="0.65"/>
<line x1="160.90" y1="170.22" x2="162.50" y2="170.22" stroke="#333" stroke-width="0.65"/>
<line x1="160.90" y1="168.72" x2="162.50" y2="168.72" stroke="#333" stroke-width="0.65"/>
<line x1="160.90" y1="167.44" x2="162.50" y2="167.44" stroke="#333" stroke-width="0.65"/>
<line x1="160.90" y1="166.34" x2="162.50" y2="166.34" stroke="#333" stroke-width="0.65"/>
<line x1="160.90" y1="165.37" x2="162.50" y2="165.37" stroke="#333" stroke-width="0.65"/>
<text x="153.90" y="165.60" font-size="3.0" style="fill:#222">10</text>
<text x="157.20" y="164.40" font-size="2.1" style="fill:#222">4</text>
<line x1="159.70" y1="183.50" x2="162.50" y2="183.50" stroke="#333" stroke-width="0.9"/>
<line x1="160.90" y1="196.78" x2="162.50" y2="196.78" stroke="#333" stroke-width="0.65"/>
<line x1="160.90" y1="193.43" x2="162.50" y2="193.43" stroke="#333" stroke-width="0.65"/>
<line x1="160.90" y1="191.06" x2="162.50" y2="191.06" stroke="#333" stroke-width="0.65"/>
<line x1="160.90" y1="189.22" x2="162.50" y2="189.22" stroke="#333" stroke-width="0.65"/>
<line x1="160.90" y1="187.72" x2="162.50" y2="187.72" stroke="#333" stroke-width="0.65"/>
<line x1="160.90" y1="186.44" x2="162.50" y2="186.44" stroke="#333" stroke-width="0.65"/>
<line x1="160.90" y1="185.34" x2="162.50" y2="185.34" stroke="#333" stroke-width="0.65"/>
<line x1="160.90" y1="184.37" x2="162.50" y2="184.37" stroke="#333" stroke-width="0.65"/>
<text x="153.90" y="184.60" font-size="3.0" style="fill:#222">10</text>
<text x="157.20" y="183.40" font-size="2.1" style="fill:#222">3</text>
<line x1="159.70" y1="202.50" x2="162.50" y2="202.50" stroke="#333" stroke-width="0.9"/>
<line x1="160.90" y1="215.78" x2="162.50" y2="215.78" stroke="#333" stroke-width="0.65"/>
<line x1="160.90" y1="212.43" x2="162.50" y2="212.43" stroke="#333" stroke-width="0.65"/>
<line x1="160.90" y1="210.06" x2="162.50" y2="210.06" stroke="#333" stroke-width="0.65"/>
<line x1="160.90" y1="208.22" x2="162.50" y2="208.22" stroke="#333" stroke-width="0.65"/>
<line x1="160.90" y1="206.72" x2="162.50" y2="206.72" stroke="#333" stroke-width="0.65"/>
<line x1="160.90" y1="205.44" x2="162.50" y2="205.44" stroke="#333" stroke-width="0.65"/>
<line x1="160.90" y1="204.34" x2="162.50" y2="204.34" stroke="#333" stroke-width="0.65"/>
<line x1="160.90" y1="203.37" x2="162.50" y2="203.37" stroke="#333" stroke-width="0.65"/>
<text x="153.90" y="203.60" font-size="3.0" style="fill:#222">10</text>
<text x="157.20" y="202.40" font-size="2.1" style="fill:#222">2</text>
<line x1="159.70" y1="221.50" x2="162.50" y2="221.50" stroke="#333" stroke-width="0.9"/>
<line x1="160.90" y1="234.78" x2="162.50" y2="234.78" stroke="#333" stroke-width="0.65"/>
<line x1="160.90" y1="231.43" x2="162.50" y2="231.43" stroke="#333" stroke-width="0.65"/>
<line x1="160.90" y1="229.06" x2="162.50" y2="229.06" stroke="#333" stroke-width="0.65"/>
<line x1="160.90" y1="227.22" x2="162.50" y2="227.22" stroke="#333" stroke-width="0.65"/>
<line x1="160.90" y1="225.72" x2="162.50" y2="225.72" stroke="#333" stroke-width="0.65"/>
<line x1="160.90" y1="224.44" x2="162.50" y2="224.44" stroke="#333" stroke-width="0.65"/>
<line x1="160.90" y1="223.34" x2="162.50" y2="223.34" stroke="#333" stroke-width="0.65"/>
<line x1="160.90" y1="222.37" x2="162.50" y2="222.37" stroke="#333" stroke-width="0.65"/>
<text x="153.90" y="222.60" font-size="3.0" style="fill:#222">10</text>
<text x="157.20" y="221.40" font-size="2.1" style="fill:#222">1</text>
<line x1="185.00" y1="240.50" x2="185.00" y2="243.30" stroke="#333" stroke-width="0.9"/>
<line x1="169.27" y1="240.50" x2="169.27" y2="242.10" stroke="#333" stroke-width="0.65"/>
<line x1="173.24" y1="240.50" x2="173.24" y2="242.10" stroke="#333" stroke-width="0.65"/>
<line x1="176.05" y1="240.50" x2="176.05" y2="242.10" stroke="#333" stroke-width="0.65"/>
<line x1="178.23" y1="240.50" x2="178.23" y2="242.10" stroke="#333" stroke-width="0.65"/>
<line x1="180.01" y1="240.50" x2="180.01" y2="242.10" stroke="#333" stroke-width="0.65"/>
<line x1="181.51" y1="240.50" x2="181.51" y2="242.10" stroke="#333" stroke-width="0.65"/>
<line x1="182.82" y1="240.50" x2="182.82" y2="242.10" stroke="#333" stroke-width="0.65"/>
<line x1="183.97" y1="240.50" x2="183.97" y2="242.10" stroke="#333" stroke-width="0.65"/>
<text x="183.40" y="247.10" font-size="3.2" style="fill:#222">10</text>
<text x="186.90" y="245.80" font-size="2.2" style="fill:#222">1</text>
<line x1="207.50" y1="240.50" x2="207.50" y2="243.30" stroke="#333" stroke-width="0.9"/>
<line x1="191.77" y1="240.50" x2="191.77" y2="242.10" stroke="#333" stroke-width="0.65"/>
<line x1="195.74" y1="240.50" x2="195.74" y2="242.10" stroke="#333" stroke-width="0.65"/>
<line x1="198.55" y1="240.50" x2="198.55" y2="242.10" stroke="#333" stroke-width="0.65"/>
<line x1="200.73" y1="240.50" x2="200.73" y2="242.10" stroke="#333" stroke-width="0.65"/>
<line x1="202.51" y1="240.50" x2="202.51" y2="242.10" stroke="#333" stroke-width="0.65"/>
<line x1="204.01" y1="240.50" x2="204.01" y2="242.10" stroke="#333" stroke-width="0.65"/>
<line x1="205.32" y1="240.50" x2="205.32" y2="242.10" stroke="#333" stroke-width="0.65"/>
<line x1="206.47" y1="240.50" x2="206.47" y2="242.10" stroke="#333" stroke-width="0.65"/>
<text x="205.90" y="247.10" font-size="3.2" style="fill:#222">10</text>
<text x="209.40" y="245.80" font-size="2.2" style="fill:#222">2</text>
<line x1="230.00" y1="240.50" x2="230.00" y2="243.30" stroke="#333" stroke-width="0.9"/>
<line x1="214.27" y1="240.50" x2="214.27" y2="242.10" stroke="#333" stroke-width="0.65"/>
<line x1="218.24" y1="240.50" x2="218.24" y2="242.10" stroke="#333" stroke-width="0.65"/>
<line x1="221.05" y1="240.50" x2="221.05" y2="242.10" stroke="#333" stroke-width="0.65"/>
<line x1="223.23" y1="240.50" x2="223.23" y2="242.10" stroke="#333" stroke-width="0.65"/>
<line x1="225.01" y1="240.50" x2="225.01" y2="242.10" stroke="#333" stroke-width="0.65"/>
<line x1="226.51" y1="240.50" x2="226.51" y2="242.10" stroke="#333" stroke-width="0.65"/>
<line x1="227.82" y1="240.50" x2="227.82" y2="242.10" stroke="#333" stroke-width="0.65"/>
<line x1="228.97" y1="240.50" x2="228.97" y2="242.10" stroke="#333" stroke-width="0.65"/>
<text x="228.40" y="247.10" font-size="3.2" style="fill:#222">10</text>
<text x="231.90" y="245.80" font-size="2.2" style="fill:#222">3</text>
<line x1="252.50" y1="240.50" x2="252.50" y2="243.30" stroke="#333" stroke-width="0.9"/>
<line x1="236.77" y1="240.50" x2="236.77" y2="242.10" stroke="#333" stroke-width="0.65"/>
<line x1="240.74" y1="240.50" x2="240.74" y2="242.10" stroke="#333" stroke-width="0.65"/>
<line x1="243.55" y1="240.50" x2="243.55" y2="242.10" stroke="#333" stroke-width="0.65"/>
<line x1="245.73" y1="240.50" x2="245.73" y2="242.10" stroke="#333" stroke-width="0.65"/>
<line x1="247.51" y1="240.50" x2="247.51" y2="242.10" stroke="#333" stroke-width="0.65"/>
<line x1="249.01" y1="240.50" x2="249.01" y2="242.10" stroke="#333" stroke-width="0.65"/>
<line x1="250.32" y1="240.50" x2="250.32" y2="242.10" stroke="#333" stroke-width="0.65"/>
<line x1="251.47" y1="240.50" x2="251.47" y2="242.10" stroke="#333" stroke-width="0.65"/>
<text x="250.90" y="247.10" font-size="3.2" style="fill:#222">10</text>
<text x="254.40" y="245.80" font-size="2.2" style="fill:#222">4</text>
<rect x="162.50" y="164.50" width="90.00" height="76.00" fill="none" stroke="#777" stroke-width="1.0"/>
<line x1="183.50" y1="164.50" x2="183.50" y2="240.50" stroke="#3a3a3a" stroke-width="1.0"/>
<line x1="162.50" y1="220.50" x2="252.50" y2="220.50" stroke="#3a3a3a" stroke-width="1.0"/>
<line x1="234.50" y1="166.70" x2="234.50" y2="188.40" stroke="#111" stroke-width="1.0"/>
<line x1="220.60" y1="177.50" x2="249.40" y2="177.50" stroke="#111" stroke-width="1.0"/>
<text x="232.70" y="175.30" font-size="7.6" font-weight="bold" text-anchor="end" stroke="#111" stroke-width="0.3">&lt;1</text>
<text x="237.80" y="175.30" font-size="7.6" font-weight="bold" stroke="#111" stroke-width="0.3">&lt;1</text>
<text x="232.70" y="186.80" font-size="7.6" font-weight="bold" text-anchor="end" stroke="#111" stroke-width="0.3">14</text>
<text x="237.80" y="186.80" font-size="7.6" font-weight="bold" stroke="#111" stroke-width="0.3">85</text>
<line x1="224.50" y1="176.20" x2="232.70" y2="176.20" stroke="#111" stroke-width="0.8"/>
<line x1="237.80" y1="176.20" x2="246.00" y2="176.20" stroke="#111" stroke-width="0.8"/>
<line x1="259.50" y1="161.00" x2="259.50" y2="254.00" stroke="#555" stroke-width="1.0"/>
<path d="M292.3 227.8h0.7M295.8 235.7h0.7M291.7 230.0h0.7M282.8 234.2h0.7M301.1 233.1h0.7M288.9 235.5h0.7M289.6 227.4h0.7M290.9 234.7h0.7M282.7 236.4h0.7M299.2 232.2h0.7M289.2 226.6h0.7M294.0 231.2h0.7M297.3 238.5h0.7M297.4 233.0h0.7M282.8 237.5h0.7M289.2 230.4h0.7M296.6 234.2h0.7M286.5 231.0h0.7M290.1 231.7h0.7M285.9 238.2h0.7M290.8 234.9h0.7M296.5 240.9h0.7M294.9 229.4h0.7M289.4 235.8h0.7M299.4 226.5h0.7M300.6 230.1h0.7M290.6 230.6h0.7M294.3 231.5h0.7M291.3 228.6h0.7M298.4 233.7h0.7M291.3 240.8h0.7M294.6 237.8h0.7M290.2 232.9h0.7M290.8 235.8h0.7M292.9 225.6h0.7M294.3 231.5h0.7M292.7 236.2h0.7M290.2 234.9h0.7M291.6 232.0h0.7M289.1 231.9h0.7M290.1 235.5h0.7M280.6 234.6h0.7M291.2 228.2h0.7M295.3 232.2h0.7M294.2 237.7h0.7M292.6 226.0h0.7M283.9 232.1h0.7M285.8 240.9h0.7M291.1 225.2h0.7M281.2 230.2h0.7M280.0 234.3h0.7M280.5 235.8h0.7M289.2 236.8h0.7M286.0 230.5h0.7M296.8 225.9h0.7M294.7 238.1h0.7M286.8 231.7h0.7M299.5 238.2h0.7M299.3 232.0h0.7M289.8 231.7h0.7M289.7 235.6h0.7M295.6 234.4h0.7M288.3 235.5h0.7M293.9 233.3h0.7M297.4 230.9h0.7M292.2 236.7h0.7M288.0 235.9h0.7M295.1 238.3h0.7M297.8 230.1h0.7M300.1 230.6h0.7M285.9 231.3h0.7M289.9 228.8h0.7M296.3 234.4h0.7M294.5 226.9h0.7M300.3 234.3h0.7M297.2 233.8h0.7M293.4 235.4h0.7M292.4 237.9h0.7M289.2 224.3h0.7M289.9 232.3h0.7M293.6 232.8h0.7M293.7 234.2h0.7M290.8 234.6h0.7M294.3 229.4h0.7M283.3 233.3h0.7M294.0 236.7h0.7M296.9 233.6h0.7M297.2 230.1h0.7M289.4 237.8h0.7M286.0 232.3h0.7M286.6 227.6h0.7M301.8 225.4h0.7M300.1 230.6h0.7M288.1 225.9h0.7M292.7 234.9h0.7M294.4 228.8h0.7M299.5 233.3h0.7M294.1 234.8h0.7M294.3 231.2h0.7M293.4 229.6h0.7M292.9 228.6h0.7M284.9 230.1h0.7M290.9 229.7h0.7M290.2 230.3h0.7M291.9 239.3h0.7M294.4 235.8h0.7M296.4 235.9h0.7M293.7 235.8h0.7M296.8 231.8h0.7M290.4 232.4h0.7M291.4 234.3h0.7M289.6 230.8h0.7M292.8 234.4h0.7M291.2 226.6h0.7M290.5 235.8h0.7M290.6 237.4h0.7M289.3 231.5h0.7M295.4 237.0h0.7M290.3 238.2h0.7M292.6 234.0h0.7M300.2 235.8h0.7M290.7 232.2h0.7M287.4 236.8h0.7M293.4 239.8h0.7M297.5 232.6h0.7M288.8 231.2h0.7M297.6 232.0h0.7M297.1 237.3h0.7M298.8 233.5h0.7M295.1 227.5h0.7M293.3 232.6h0.7M296.1 225.6h0.7M290.2 241.5h0.7M292.5 230.6h0.7M292.2 232.0h0.7M290.1 234.8h0.7M293.0 237.0h0.7M303.5 235.4h0.7M293.4 238.3h0.7M285.2 239.6h0.7M286.4 230.7h0.7M292.0 227.3h0.7M288.8 233.2h0.7M293.7 227.0h0.7M283.9 233.9h0.7M293.9 235.6h0.7M289.1 230.1h0.7M306.2 232.1h0.7M286.9 227.4h0.7M290.5 239.2h0.7M295.0 229.0h0.7M285.2 230.1h0.7M291.6 233.6h0.7M294.0 236.8h0.7M285.4 226.4h0.7M291.3 234.8h0.7M289.1 233.6h0.7M291.3 237.0h0.7M290.7 230.7h0.7" stroke="#000" stroke-width="0.7" stroke-opacity="0.5" fill="none"/>
<line x1="274.70" y1="164.50" x2="277.50" y2="164.50" stroke="#333" stroke-width="0.9"/>
<line x1="275.90" y1="178.30" x2="277.50" y2="178.30" stroke="#333" stroke-width="0.65"/>
<line x1="275.90" y1="174.83" x2="277.50" y2="174.83" stroke="#333" stroke-width="0.65"/>
<line x1="275.90" y1="172.36" x2="277.50" y2="172.36" stroke="#333" stroke-width="0.65"/>
<line x1="275.90" y1="170.45" x2="277.50" y2="170.45" stroke="#333" stroke-width="0.65"/>
<line x1="275.90" y1="168.88" x2="277.50" y2="168.88" stroke="#333" stroke-width="0.65"/>
<line x1="275.90" y1="167.56" x2="277.50" y2="167.56" stroke="#333" stroke-width="0.65"/>
<line x1="275.90" y1="166.41" x2="277.50" y2="166.41" stroke="#333" stroke-width="0.65"/>
<line x1="275.90" y1="165.40" x2="277.50" y2="165.40" stroke="#333" stroke-width="0.65"/>
<text x="268.90" y="165.60" font-size="3.0" style="fill:#222">10</text>
<text x="272.20" y="164.40" font-size="2.1" style="fill:#222">4</text>
<line x1="274.70" y1="184.25" x2="277.50" y2="184.25" stroke="#333" stroke-width="0.9"/>
<line x1="275.90" y1="198.05" x2="277.50" y2="198.05" stroke="#333" stroke-width="0.65"/>
<line x1="275.90" y1="194.58" x2="277.50" y2="194.58" stroke="#333" stroke-width="0.65"/>
<line x1="275.90" y1="192.11" x2="277.50" y2="192.11" stroke="#333" stroke-width="0.65"/>
<line x1="275.90" y1="190.20" x2="277.50" y2="190.20" stroke="#333" stroke-width="0.65"/>
<line x1="275.90" y1="188.63" x2="277.50" y2="188.63" stroke="#333" stroke-width="0.65"/>
<line x1="275.90" y1="187.31" x2="277.50" y2="187.31" stroke="#333" stroke-width="0.65"/>
<line x1="275.90" y1="186.16" x2="277.50" y2="186.16" stroke="#333" stroke-width="0.65"/>
<line x1="275.90" y1="185.15" x2="277.50" y2="185.15" stroke="#333" stroke-width="0.65"/>
<text x="268.90" y="185.35" font-size="3.0" style="fill:#222">10</text>
<text x="272.20" y="184.15" font-size="2.1" style="fill:#222">3</text>
<line x1="274.70" y1="204.00" x2="277.50" y2="204.00" stroke="#333" stroke-width="0.9"/>
<line x1="275.90" y1="217.80" x2="277.50" y2="217.80" stroke="#333" stroke-width="0.65"/>
<line x1="275.90" y1="214.33" x2="277.50" y2="214.33" stroke="#333" stroke-width="0.65"/>
<line x1="275.90" y1="211.86" x2="277.50" y2="211.86" stroke="#333" stroke-width="0.65"/>
<line x1="275.90" y1="209.95" x2="277.50" y2="209.95" stroke="#333" stroke-width="0.65"/>
<line x1="275.90" y1="208.38" x2="277.50" y2="208.38" stroke="#333" stroke-width="0.65"/>
<line x1="275.90" y1="207.06" x2="277.50" y2="207.06" stroke="#333" stroke-width="0.65"/>
<line x1="275.90" y1="205.91" x2="277.50" y2="205.91" stroke="#333" stroke-width="0.65"/>
<line x1="275.90" y1="204.90" x2="277.50" y2="204.90" stroke="#333" stroke-width="0.65"/>
<text x="268.90" y="205.10" font-size="3.0" style="fill:#222">10</text>
<text x="272.20" y="203.90" font-size="2.1" style="fill:#222">2</text>
<line x1="274.70" y1="223.75" x2="277.50" y2="223.75" stroke="#333" stroke-width="0.9"/>
<line x1="275.90" y1="237.55" x2="277.50" y2="237.55" stroke="#333" stroke-width="0.65"/>
<line x1="275.90" y1="234.08" x2="277.50" y2="234.08" stroke="#333" stroke-width="0.65"/>
<line x1="275.90" y1="231.61" x2="277.50" y2="231.61" stroke="#333" stroke-width="0.65"/>
<line x1="275.90" y1="229.70" x2="277.50" y2="229.70" stroke="#333" stroke-width="0.65"/>
<line x1="275.90" y1="228.13" x2="277.50" y2="228.13" stroke="#333" stroke-width="0.65"/>
<line x1="275.90" y1="226.81" x2="277.50" y2="226.81" stroke="#333" stroke-width="0.65"/>
<line x1="275.90" y1="225.66" x2="277.50" y2="225.66" stroke="#333" stroke-width="0.65"/>
<line x1="275.90" y1="224.65" x2="277.50" y2="224.65" stroke="#333" stroke-width="0.65"/>
<text x="268.90" y="224.85" font-size="3.0" style="fill:#222">10</text>
<text x="272.20" y="223.65" font-size="2.1" style="fill:#222">1</text>
<line x1="300.75" y1="243.50" x2="300.75" y2="246.30" stroke="#333" stroke-width="0.9"/>
<line x1="284.50" y1="243.50" x2="284.50" y2="245.10" stroke="#333" stroke-width="0.65"/>
<line x1="288.59" y1="243.50" x2="288.59" y2="245.10" stroke="#333" stroke-width="0.65"/>
<line x1="291.50" y1="243.50" x2="291.50" y2="245.10" stroke="#333" stroke-width="0.65"/>
<line x1="293.75" y1="243.50" x2="293.75" y2="245.10" stroke="#333" stroke-width="0.65"/>
<line x1="295.59" y1="243.50" x2="295.59" y2="245.10" stroke="#333" stroke-width="0.65"/>
<line x1="297.15" y1="243.50" x2="297.15" y2="245.10" stroke="#333" stroke-width="0.65"/>
<line x1="298.50" y1="243.50" x2="298.50" y2="245.10" stroke="#333" stroke-width="0.65"/>
<line x1="299.69" y1="243.50" x2="299.69" y2="245.10" stroke="#333" stroke-width="0.65"/>
<text x="299.15" y="250.10" font-size="3.2" style="fill:#222">10</text>
<text x="302.65" y="248.80" font-size="2.2" style="fill:#222">1</text>
<line x1="324.00" y1="243.50" x2="324.00" y2="246.30" stroke="#333" stroke-width="0.9"/>
<line x1="307.75" y1="243.50" x2="307.75" y2="245.10" stroke="#333" stroke-width="0.65"/>
<line x1="311.84" y1="243.50" x2="311.84" y2="245.10" stroke="#333" stroke-width="0.65"/>
<line x1="314.75" y1="243.50" x2="314.75" y2="245.10" stroke="#333" stroke-width="0.65"/>
<line x1="317.00" y1="243.50" x2="317.00" y2="245.10" stroke="#333" stroke-width="0.65"/>
<line x1="318.84" y1="243.50" x2="318.84" y2="245.10" stroke="#333" stroke-width="0.65"/>
<line x1="320.40" y1="243.50" x2="320.40" y2="245.10" stroke="#333" stroke-width="0.65"/>
<line x1="321.75" y1="243.50" x2="321.75" y2="245.10" stroke="#333" stroke-width="0.65"/>
<line x1="322.94" y1="243.50" x2="322.94" y2="245.10" stroke="#333" stroke-width="0.65"/>
<text x="322.40" y="250.10" font-size="3.2" style="fill:#222">10</text>
<text x="325.90" y="248.80" font-size="2.2" style="fill:#222">2</text>
<line x1="347.25" y1="243.50" x2="347.25" y2="246.30" stroke="#333" stroke-width="0.9"/>
<line x1="331.00" y1="243.50" x2="331.00" y2="245.10" stroke="#333" stroke-width="0.65"/>
<line x1="335.09" y1="243.50" x2="335.09" y2="245.10" stroke="#333" stroke-width="0.65"/>
<line x1="338.00" y1="243.50" x2="338.00" y2="245.10" stroke="#333" stroke-width="0.65"/>
<line x1="340.25" y1="243.50" x2="340.25" y2="245.10" stroke="#333" stroke-width="0.65"/>
<line x1="342.09" y1="243.50" x2="342.09" y2="245.10" stroke="#333" stroke-width="0.65"/>
<line x1="343.65" y1="243.50" x2="343.65" y2="245.10" stroke="#333" stroke-width="0.65"/>
<line x1="345.00" y1="243.50" x2="345.00" y2="245.10" stroke="#333" stroke-width="0.65"/>
<line x1="346.19" y1="243.50" x2="346.19" y2="245.10" stroke="#333" stroke-width="0.65"/>
<text x="345.65" y="250.10" font-size="3.2" style="fill:#222">10</text>
<text x="349.15" y="248.80" font-size="2.2" style="fill:#222">3</text>
<line x1="370.50" y1="243.50" x2="370.50" y2="246.30" stroke="#333" stroke-width="0.9"/>
<line x1="354.25" y1="243.50" x2="354.25" y2="245.10" stroke="#333" stroke-width="0.65"/>
<line x1="358.34" y1="243.50" x2="358.34" y2="245.10" stroke="#333" stroke-width="0.65"/>
<line x1="361.25" y1="243.50" x2="361.25" y2="245.10" stroke="#333" stroke-width="0.65"/>
<line x1="363.50" y1="243.50" x2="363.50" y2="245.10" stroke="#333" stroke-width="0.65"/>
<line x1="365.34" y1="243.50" x2="365.34" y2="245.10" stroke="#333" stroke-width="0.65"/>
<line x1="366.90" y1="243.50" x2="366.90" y2="245.10" stroke="#333" stroke-width="0.65"/>
<line x1="368.25" y1="243.50" x2="368.25" y2="245.10" stroke="#333" stroke-width="0.65"/>
<line x1="369.44" y1="243.50" x2="369.44" y2="245.10" stroke="#333" stroke-width="0.65"/>
<text x="368.90" y="250.10" font-size="3.2" style="fill:#222">10</text>
<text x="372.40" y="248.80" font-size="2.2" style="fill:#222">4</text>
<rect x="277.50" y="164.50" width="93.00" height="79.00" fill="none" stroke="#777" stroke-width="1.0"/>
<line x1="299.50" y1="164.50" x2="299.50" y2="243.50" stroke="#3a3a3a" stroke-width="1.0"/>
<line x1="277.50" y1="222.50" x2="370.50" y2="222.50" stroke="#3a3a3a" stroke-width="1.0"/>
<line x1="350.50" y1="166.30" x2="350.50" y2="187.40" stroke="#111" stroke-width="1.0"/>
<line x1="336.70" y1="176.50" x2="364.90" y2="176.50" stroke="#111" stroke-width="1.0"/>
<text x="348.80" y="174.50" font-size="7.6" font-weight="bold" text-anchor="end" stroke="#111" stroke-width="0.3">&lt;1</text>
<text x="353.80" y="174.50" font-size="7.6" font-weight="bold" stroke="#111" stroke-width="0.3">&lt;1</text>
<text x="348.80" y="186.30" font-size="7.6" font-weight="bold" text-anchor="end" stroke="#111" stroke-width="0.3">86</text>
<text x="353.80" y="186.30" font-size="7.6" font-weight="bold" stroke="#111" stroke-width="0.3"></text>
<line x1="340.60" y1="175.40" x2="348.80" y2="175.40" stroke="#111" stroke-width="0.8"/>
<line x1="353.80" y1="175.40" x2="362.00" y2="175.40" stroke="#111" stroke-width="0.8"/>
<text x="354.80" y="186.30" font-size="7.6" font-weight="bold" stroke="#111" stroke-width="0.3">13</text>
<path d="M414.9 236.9h0.6M409.7 233.3h0.6M409.3 230.0h0.6M423.6 231.7h0.6M411.1 232.6h0.6M408.9 233.2h0.6M412.2 234.9h0.6M410.1 229.1h0.6M412.0 236.0h0.6M418.3 233.4h0.6M411.4 231.3h0.6M419.3 231.7h0.6M410.3 233.5h0.6M411.5 233.9h0.6M414.5 239.2h0.6M414.9 235.0h0.6M405.9 240.9h0.6M414.9 236.5h0.6M411.1 233.4h0.6M410.9 233.1h0.6M410.8 236.2h0.6M417.4 233.5h0.6M411.2 236.4h0.6M411.7 235.5h0.6M409.7 238.2h0.6M410.5 235.5h0.6M420.4 235.0h0.6M411.4 236.1h0.6M419.5 226.5h0.6M410.8 233.2h0.6M416.5 228.8h0.6M416.3 233.9h0.6M415.2 230.4h0.6M418.4 242.2h0.6M413.2 235.6h0.6M407.9 224.5h0.6M412.3 233.0h0.6M415.7 233.9h0.6M406.6 226.4h0.6M417.6 236.9h0.6M412.0 232.9h0.6M415.8 232.0h0.6M406.8 237.8h0.6M406.3 232.4h0.6M418.5 235.2h0.6M417.6 238.6h0.6M413.5 228.9h0.6M404.8 226.5h0.6M416.0 229.0h0.6M412.0 234.0h0.6M414.2 233.6h0.6M418.5 234.8h0.6M417.5 233.4h0.6M412.7 234.2h0.6M414.8 236.3h0.6M410.4 235.7h0.6M425.3 224.9h0.6M415.5 233.3h0.6M411.6 231.7h0.6M407.2 234.5h0.6M409.3 238.9h0.6M414.1 239.4h0.6M413.1 229.0h0.6M414.6 234.4h0.6M416.5 225.8h0.6M413.0 238.5h0.6M413.0 227.0h0.6M414.5 235.3h0.6M419.0 235.6h0.6M408.0 237.6h0.6M415.8 237.6h0.6M411.8 237.1h0.6M403.0 229.3h0.6M415.4 239.0h0.6M415.2 234.2h0.6M411.9 232.3h0.6M417.7 227.8h0.6M413.9 238.7h0.6M405.0 226.3h0.6M408.1 233.7h0.6M415.1 231.8h0.6M416.2 232.0h0.6M405.2 237.1h0.6M412.6 231.5h0.6M405.0 225.3h0.6" stroke="#000" stroke-width="0.6" stroke-opacity="0.45" fill="none"/>
<path d="M421.7 235.0h0.6M422.9 226.7h0.6M424.0 234.5h0.6M435.0 237.0h0.6M423.2 238.2h0.6M443.0 233.8h0.6M438.6 238.8h0.6M433.3 228.6h0.6M434.5 233.6h0.6M435.8 242.7h0.6M430.6 231.2h0.6M440.2 232.3h0.6M420.3 233.4h0.6M438.3 225.6h0.6M443.9 239.9h0.6M421.3 233.1h0.6M433.4 234.4h0.6M432.5 235.0h0.6M424.1 231.2h0.6M429.5 233.9h0.6" stroke="#000" stroke-width="0.6" stroke-opacity="0.35" fill="none"/>
<line x1="395.70" y1="163.50" x2="398.50" y2="163.50" stroke="#333" stroke-width="0.9"/>
<line x1="396.90" y1="178.00" x2="398.50" y2="178.00" stroke="#333" stroke-width="0.65"/>
<line x1="396.90" y1="174.35" x2="398.50" y2="174.35" stroke="#333" stroke-width="0.65"/>
<line x1="396.90" y1="171.76" x2="398.50" y2="171.76" stroke="#333" stroke-width="0.65"/>
<line x1="396.90" y1="169.75" x2="398.50" y2="169.75" stroke="#333" stroke-width="0.65"/>
<line x1="396.90" y1="168.10" x2="398.50" y2="168.10" stroke="#333" stroke-width="0.65"/>
<line x1="396.90" y1="166.71" x2="398.50" y2="166.71" stroke="#333" stroke-width="0.65"/>
<line x1="396.90" y1="165.51" x2="398.50" y2="165.51" stroke="#333" stroke-width="0.65"/>
<line x1="396.90" y1="164.45" x2="398.50" y2="164.45" stroke="#333" stroke-width="0.65"/>
<text x="389.90" y="164.60" font-size="3.0" style="fill:#222">10</text>
<text x="393.20" y="163.40" font-size="2.1" style="fill:#222">4</text>
<line x1="395.70" y1="184.25" x2="398.50" y2="184.25" stroke="#333" stroke-width="0.9"/>
<line x1="396.90" y1="198.75" x2="398.50" y2="198.75" stroke="#333" stroke-width="0.65"/>
<line x1="396.90" y1="195.10" x2="398.50" y2="195.10" stroke="#333" stroke-width="0.65"/>
<line x1="396.90" y1="192.51" x2="398.50" y2="192.51" stroke="#333" stroke-width="0.65"/>
<line x1="396.90" y1="190.50" x2="398.50" y2="190.50" stroke="#333" stroke-width="0.65"/>
<line x1="396.90" y1="188.85" x2="398.50" y2="188.85" stroke="#333" stroke-width="0.65"/>
<line x1="396.90" y1="187.46" x2="398.50" y2="187.46" stroke="#333" stroke-width="0.65"/>
<line x1="396.90" y1="186.26" x2="398.50" y2="186.26" stroke="#333" stroke-width="0.65"/>
<line x1="396.90" y1="185.20" x2="398.50" y2="185.20" stroke="#333" stroke-width="0.65"/>
<text x="389.90" y="185.35" font-size="3.0" style="fill:#222">10</text>
<text x="393.20" y="184.15" font-size="2.1" style="fill:#222">3</text>
<line x1="395.70" y1="205.00" x2="398.50" y2="205.00" stroke="#333" stroke-width="0.9"/>
<line x1="396.90" y1="219.50" x2="398.50" y2="219.50" stroke="#333" stroke-width="0.65"/>
<line x1="396.90" y1="215.85" x2="398.50" y2="215.85" stroke="#333" stroke-width="0.65"/>
<line x1="396.90" y1="213.26" x2="398.50" y2="213.26" stroke="#333" stroke-width="0.65"/>
<line x1="396.90" y1="211.25" x2="398.50" y2="211.25" stroke="#333" stroke-width="0.65"/>
<line x1="396.90" y1="209.60" x2="398.50" y2="209.60" stroke="#333" stroke-width="0.65"/>
<line x1="396.90" y1="208.21" x2="398.50" y2="208.21" stroke="#333" stroke-width="0.65"/>
<line x1="396.90" y1="207.01" x2="398.50" y2="207.01" stroke="#333" stroke-width="0.65"/>
<line x1="396.90" y1="205.95" x2="398.50" y2="205.95" stroke="#333" stroke-width="0.65"/>
<text x="389.90" y="206.10" font-size="3.0" style="fill:#222">10</text>
<text x="393.20" y="204.90" font-size="2.1" style="fill:#222">2</text>
<line x1="395.70" y1="225.75" x2="398.50" y2="225.75" stroke="#333" stroke-width="0.9"/>
<line x1="396.90" y1="240.25" x2="398.50" y2="240.25" stroke="#333" stroke-width="0.65"/>
<line x1="396.90" y1="236.60" x2="398.50" y2="236.60" stroke="#333" stroke-width="0.65"/>
<line x1="396.90" y1="234.01" x2="398.50" y2="234.01" stroke="#333" stroke-width="0.65"/>
<line x1="396.90" y1="232.00" x2="398.50" y2="232.00" stroke="#333" stroke-width="0.65"/>
<line x1="396.90" y1="230.35" x2="398.50" y2="230.35" stroke="#333" stroke-width="0.65"/>
<line x1="396.90" y1="228.96" x2="398.50" y2="228.96" stroke="#333" stroke-width="0.65"/>
<line x1="396.90" y1="227.76" x2="398.50" y2="227.76" stroke="#333" stroke-width="0.65"/>
<line x1="396.90" y1="226.70" x2="398.50" y2="226.70" stroke="#333" stroke-width="0.65"/>
<text x="389.90" y="226.85" font-size="3.0" style="fill:#222">10</text>
<text x="393.20" y="225.65" font-size="2.1" style="fill:#222">1</text>
<line x1="420.25" y1="246.50" x2="420.25" y2="249.30" stroke="#333" stroke-width="0.9"/>
<line x1="405.05" y1="246.50" x2="405.05" y2="248.10" stroke="#333" stroke-width="0.65"/>
<line x1="408.88" y1="246.50" x2="408.88" y2="248.10" stroke="#333" stroke-width="0.65"/>
<line x1="411.59" y1="246.50" x2="411.59" y2="248.10" stroke="#333" stroke-width="0.65"/>
<line x1="413.70" y1="246.50" x2="413.70" y2="248.10" stroke="#333" stroke-width="0.65"/>
<line x1="415.42" y1="246.50" x2="415.42" y2="248.10" stroke="#333" stroke-width="0.65"/>
<line x1="416.88" y1="246.50" x2="416.88" y2="248.10" stroke="#333" stroke-width="0.65"/>
<line x1="418.14" y1="246.50" x2="418.14" y2="248.10" stroke="#333" stroke-width="0.65"/>
<line x1="419.25" y1="246.50" x2="419.25" y2="248.10" stroke="#333" stroke-width="0.65"/>
<text x="418.65" y="253.10" font-size="3.2" style="fill:#222">10</text>
<text x="422.15" y="251.80" font-size="2.2" style="fill:#222">1</text>
<line x1="442.00" y1="246.50" x2="442.00" y2="249.30" stroke="#333" stroke-width="0.9"/>
<line x1="426.80" y1="246.50" x2="426.80" y2="248.10" stroke="#333" stroke-width="0.65"/>
<line x1="430.63" y1="246.50" x2="430.63" y2="248.10" stroke="#333" stroke-width="0.65"/>
<line x1="433.34" y1="246.50" x2="433.34" y2="248.10" stroke="#333" stroke-width="0.65"/>
<line x1="435.45" y1="246.50" x2="435.45" y2="248.10" stroke="#333" stroke-width="0.65"/>
<line x1="437.17" y1="246.50" x2="437.17" y2="248.10" stroke="#333" stroke-width="0.65"/>
<line x1="438.63" y1="246.50" x2="438.63" y2="248.10" stroke="#333" stroke-width="0.65"/>
<line x1="439.89" y1="246.50" x2="439.89" y2="248.10" stroke="#333" stroke-width="0.65"/>
<line x1="441.00" y1="246.50" x2="441.00" y2="248.10" stroke="#333" stroke-width="0.65"/>
<text x="440.40" y="253.10" font-size="3.2" style="fill:#222">10</text>
<text x="443.90" y="251.80" font-size="2.2" style="fill:#222">2</text>
<line x1="463.75" y1="246.50" x2="463.75" y2="249.30" stroke="#333" stroke-width="0.9"/>
<line x1="448.55" y1="246.50" x2="448.55" y2="248.10" stroke="#333" stroke-width="0.65"/>
<line x1="452.38" y1="246.50" x2="452.38" y2="248.10" stroke="#333" stroke-width="0.65"/>
<line x1="455.09" y1="246.50" x2="455.09" y2="248.10" stroke="#333" stroke-width="0.65"/>
<line x1="457.20" y1="246.50" x2="457.20" y2="248.10" stroke="#333" stroke-width="0.65"/>
<line x1="458.92" y1="246.50" x2="458.92" y2="248.10" stroke="#333" stroke-width="0.65"/>
<line x1="460.38" y1="246.50" x2="460.38" y2="248.10" stroke="#333" stroke-width="0.65"/>
<line x1="461.64" y1="246.50" x2="461.64" y2="248.10" stroke="#333" stroke-width="0.65"/>
<line x1="462.75" y1="246.50" x2="462.75" y2="248.10" stroke="#333" stroke-width="0.65"/>
<text x="462.15" y="253.10" font-size="3.2" style="fill:#222">10</text>
<text x="465.65" y="251.80" font-size="2.2" style="fill:#222">3</text>
<line x1="485.50" y1="246.50" x2="485.50" y2="249.30" stroke="#333" stroke-width="0.9"/>
<line x1="470.30" y1="246.50" x2="470.30" y2="248.10" stroke="#333" stroke-width="0.65"/>
<line x1="474.13" y1="246.50" x2="474.13" y2="248.10" stroke="#333" stroke-width="0.65"/>
<line x1="476.84" y1="246.50" x2="476.84" y2="248.10" stroke="#333" stroke-width="0.65"/>
<line x1="478.95" y1="246.50" x2="478.95" y2="248.10" stroke="#333" stroke-width="0.65"/>
<line x1="480.67" y1="246.50" x2="480.67" y2="248.10" stroke="#333" stroke-width="0.65"/>
<line x1="482.13" y1="246.50" x2="482.13" y2="248.10" stroke="#333" stroke-width="0.65"/>
<line x1="483.39" y1="246.50" x2="483.39" y2="248.10" stroke="#333" stroke-width="0.65"/>
<line x1="484.50" y1="246.50" x2="484.50" y2="248.10" stroke="#333" stroke-width="0.65"/>
<text x="483.90" y="253.10" font-size="3.2" style="fill:#222">10</text>
<text x="487.40" y="251.80" font-size="2.2" style="fill:#222">4</text>
<rect x="398.50" y="163.50" width="87.00" height="83.00" fill="none" stroke="#666" stroke-width="1.0"/>
<line x1="419.50" y1="163.50" x2="419.50" y2="246.50" stroke="#3a3a3a" stroke-width="1.0"/>
<line x1="398.50" y1="223.50" x2="485.50" y2="223.50" stroke="#3a3a3a" stroke-width="1.0"/>
<line x1="469.50" y1="164.00" x2="469.50" y2="182.60" stroke="#111" stroke-width="1.0"/>
<line x1="457.00" y1="173.50" x2="482.20" y2="173.50" stroke="#111" stroke-width="1.0"/>
<text x="468.20" y="171.60" font-size="7.0" font-weight="bold" text-anchor="end" stroke="#111" stroke-width="0.3"></text>
<text x="472.80" y="171.60" font-size="7.0" font-weight="bold" stroke="#111" stroke-width="0.3"></text>
<text x="468.20" y="181.70" font-size="7.0" font-weight="bold" text-anchor="end" stroke="#111" stroke-width="0.3">78</text>
<text x="472.80" y="181.70" font-size="7.0" font-weight="bold" stroke="#111" stroke-width="0.3">14</text>
<text x="465.90" y="171.60" font-size="7.0" font-weight="bold" text-anchor="end" stroke="#111" stroke-width="0.3">1</text>
<text x="474.20" y="171.60" font-size="7.0" font-weight="bold" stroke="#111" stroke-width="0.3">5</text>
<text x="1.00" y="296.10" font-size="10.6" font-weight="bold" stroke="#111" stroke-width="0.3">D</text>
<text x="7.00" y="427.30" font-size="9.0" textLength="114.60" lengthAdjust="spacingAndGlyphs" transform="rotate(-90 7.00 427.30)" stroke="#111" stroke-width="0.15">PVL (Tax copies/10<tspan font-size="5.4" dy="-3">4</tspan><tspan dy="3"> PBMCs)</tspan></text>
<line x1="42.60" y1="314.70" x2="42.60" y2="409.20" stroke="#111" stroke-width="1.2"/>
<line x1="42.00" y1="408.60" x2="167.20" y2="408.60" stroke="#111" stroke-width="1.2"/>
<line x1="40.20" y1="314.80" x2="42.60" y2="314.80" stroke="#111" stroke-width="0.9"/>
<line x1="41.10" y1="320.61" x2="42.60" y2="320.61" stroke="#111" stroke-width="0.7"/>
<text x="38.20" y="318.50" font-size="7.0" text-anchor="end" stroke="#111" stroke-width="0.15">1400</text>
<line x1="40.20" y1="326.42" x2="42.60" y2="326.42" stroke="#111" stroke-width="0.9"/>
<line x1="41.10" y1="332.23" x2="42.60" y2="332.23" stroke="#111" stroke-width="0.7"/>
<text x="38.20" y="330.12" font-size="7.0" text-anchor="end" stroke="#111" stroke-width="0.15">1200</text>
<line x1="40.20" y1="338.04" x2="42.60" y2="338.04" stroke="#111" stroke-width="0.9"/>
<line x1="41.10" y1="343.85" x2="42.60" y2="343.85" stroke="#111" stroke-width="0.7"/>
<text x="38.20" y="341.74" font-size="7.0" text-anchor="end" stroke="#111" stroke-width="0.15">1000</text>
<line x1="40.20" y1="349.66" x2="42.60" y2="349.66" stroke="#111" stroke-width="0.9"/>
<line x1="41.10" y1="355.47" x2="42.60" y2="355.47" stroke="#111" stroke-width="0.7"/>
<text x="37.90" y="353.36" font-size="7.0" text-anchor="end" stroke="#111" stroke-width="0.15">800</text>
<line x1="40.20" y1="361.28" x2="42.60" y2="361.28" stroke="#111" stroke-width="0.9"/>
<line x1="41.10" y1="367.09" x2="42.60" y2="367.09" stroke="#111" stroke-width="0.7"/>
<text x="37.90" y="364.98" font-size="7.0" text-anchor="end" stroke="#111" stroke-width="0.15">600</text>
<line x1="40.20" y1="372.90" x2="42.60" y2="372.90" stroke="#111" stroke-width="0.9"/>
<line x1="41.10" y1="378.71" x2="42.60" y2="378.71" stroke="#111" stroke-width="0.7"/>
<text x="37.90" y="376.60" font-size="7.0" text-anchor="end" stroke="#111" stroke-width="0.15">400</text>
<line x1="40.20" y1="384.52" x2="42.60" y2="384.52" stroke="#111" stroke-width="0.9"/>
<line x1="41.10" y1="390.33" x2="42.60" y2="390.33" stroke="#111" stroke-width="0.7"/>
<text x="37.40" y="388.22" font-size="7.0" text-anchor="end" stroke="#111" stroke-width="0.15">200</text>
<line x1="40.20" y1="396.14" x2="42.60" y2="396.14" stroke="#111" stroke-width="0.9"/>
<line x1="41.10" y1="401.95" x2="42.60" y2="401.95" stroke="#111" stroke-width="0.7"/>
<text x="35.70" y="399.84" font-size="7.0" text-anchor="end" stroke="#111" stroke-width="0.15">0</text>
<line x1="40.20" y1="408.60" x2="42.60" y2="408.60" stroke="#111" stroke-width="0.9"/>
<text x="36.50" y="411.46" font-size="7.0" text-anchor="end" stroke="#111" stroke-width="0.15">-200</text>
<line x1="42.60" y1="408.60" x2="42.60" y2="411.00" stroke="#111" stroke-width="0.9"/>
<text x="42.90" y="420.20" font-size="7.0" text-anchor="middle" stroke="#111" stroke-width="0.15">-1</text>
<line x1="63.26" y1="408.60" x2="63.26" y2="411.00" stroke="#111" stroke-width="0.9"/>
<text x="63.56" y="420.20" font-size="7.0" text-anchor="middle" stroke="#111" stroke-width="0.15">0</text>
<line x1="83.92" y1="408.60" x2="83.92" y2="411.00" stroke="#111" stroke-width="0.9"/>
<text x="84.22" y="420.20" font-size="7.0" text-anchor="middle" stroke="#111" stroke-width="0.15">1</text>
<line x1="104.58" y1="408.60" x2="104.58" y2="411.00" stroke="#111" stroke-width="0.9"/>
<text x="104.88" y="420.20" font-size="7.0" text-anchor="middle" stroke="#111" stroke-width="0.15">2</text>
<line x1="125.24" y1="408.60" x2="125.24" y2="411.00" stroke="#111" stroke-width="0.9"/>
<text x="125.54" y="420.20" font-size="7.0" text-anchor="middle" stroke="#111" stroke-width="0.15">3</text>
<line x1="145.90" y1="408.60" x2="145.90" y2="411.00" stroke="#111" stroke-width="0.9"/>
<text x="146.20" y="420.20" font-size="7.0" text-anchor="middle" stroke="#111" stroke-width="0.15">4</text>
<line x1="166.56" y1="408.60" x2="166.56" y2="411.00" stroke="#111" stroke-width="0.9"/>
<text x="166.86" y="420.20" font-size="7.0" text-anchor="middle" stroke="#111" stroke-width="0.15">5</text>
<line x1="43.10" y1="395.00" x2="166.80" y2="395.00" stroke="#000" stroke-width="2.2" stroke-dasharray="1.7 1.6"/>
<line x1="42.60" y1="364.60" x2="167.10" y2="393.40" stroke="#111" stroke-width="1.6"/>
<circle cx="63.70" cy="332.30" r="2.95" fill="#000"/>
<circle cx="63.70" cy="339.80" r="2.95" fill="#000"/>
<circle cx="63.70" cy="349.60" r="2.00" fill="#fff" stroke="#111" stroke-width="1.25"/>
<circle cx="63.70" cy="347.00" r="2.95" fill="#000"/>
<circle cx="72.30" cy="322.90" r="2.95" fill="#000"/>
<circle cx="72.30" cy="331.00" r="2.95" fill="#000"/>
<circle cx="74.50" cy="358.40" r="2.95" fill="#000"/>
<circle cx="91.70" cy="364.10" r="2.95" fill="#000"/>
<circle cx="115.40" cy="359.20" r="2.95" fill="#000"/>
<circle cx="63.40" cy="370.30" r="2.00" fill="#fff" stroke="#111" stroke-width="1.25"/>
<circle cx="62.70" cy="367.40" r="2.95" fill="#000"/>
<circle cx="65.20" cy="367.40" r="2.95" fill="#000"/>
<circle cx="63.40" cy="376.40" r="2.95" fill="#000"/>
<circle cx="63.40" cy="379.30" r="2.00" fill="#fff" stroke="#111" stroke-width="1.25"/>
<circle cx="63.00" cy="383.60" r="2.00" fill="#fff" stroke="#111" stroke-width="1.25"/>
<circle cx="63.40" cy="390.20" r="2.00" fill="#fff" stroke="#111" stroke-width="1.25"/>
<circle cx="62.90" cy="386.30" r="2.95" fill="#000"/>
<circle cx="65.60" cy="386.00" r="2.95" fill="#000"/>
<circle cx="63.40" cy="394.90" r="2.95" fill="#000"/>
<circle cx="70.50" cy="388.00" r="2.00" fill="#fff" stroke="#111" stroke-width="1.25"/>
<circle cx="82.30" cy="379.40" r="2.00" fill="#fff" stroke="#111" stroke-width="1.25"/>
<circle cx="79.20" cy="384.00" r="2.00" fill="#fff" stroke="#111" stroke-width="1.25"/>
<circle cx="83.10" cy="384.00" r="2.00" fill="#fff" stroke="#111" stroke-width="1.25"/>
<circle cx="85.30" cy="394.40" r="2.00" fill="#fff" stroke="#111" stroke-width="1.25"/>
<circle cx="122.20" cy="394.20" r="2.00" fill="#fff" stroke="#111" stroke-width="1.25"/>
<circle cx="150.40" cy="394.60" r="2.00" fill="#fff" stroke="#111" stroke-width="1.25"/>
<text x="124.90" y="292.30" font-size="8.0" textLength="16.80" lengthAdjust="spacingAndGlyphs" stroke="#111" stroke-width="0.15">n=31</text>
<text x="124.90" y="301.90" font-size="8.0" textLength="19.40" lengthAdjust="spacingAndGlyphs" stroke="#111" stroke-width="0.15">r=-0.1</text>
<text x="123.00" y="311.00" font-size="9.3" textLength="27.90" lengthAdjust="spacingAndGlyphs" stroke="#111" stroke-width="0.15"><tspan font-style="italic">P</tspan> = .55</text>
<text x="41.60" y="433.30" font-size="6.4" textLength="123.40" lengthAdjust="spacingAndGlyphs" stroke="#111" stroke-width="0.15">% Early Differentiated Tax Specific CD8+</text>
<line x1="206.20" y1="314.50" x2="206.20" y2="408.90" stroke="#111" stroke-width="1.2"/>
<line x1="205.60" y1="408.30" x2="339.20" y2="408.30" stroke="#111" stroke-width="1.2"/>
<line x1="203.80" y1="314.60" x2="206.20" y2="314.60" stroke="#111" stroke-width="0.9"/>
<line x1="204.70" y1="320.42" x2="206.20" y2="320.42" stroke="#111" stroke-width="0.7"/>
<text x="199.00" y="318.30" font-size="7.0" text-anchor="end" stroke="#111" stroke-width="0.15">1400</text>
<line x1="203.80" y1="326.24" x2="206.20" y2="326.24" stroke="#111" stroke-width="0.9"/>
<line x1="204.70" y1="332.06" x2="206.20" y2="332.06" stroke="#111" stroke-width="0.7"/>
<text x="199.00" y="329.94" font-size="7.0" text-anchor="end" stroke="#111" stroke-width="0.15">1200</text>
<line x1="203.80" y1="337.88" x2="206.20" y2="337.88" stroke="#111" stroke-width="0.9"/>
<line x1="204.70" y1="343.70" x2="206.20" y2="343.70" stroke="#111" stroke-width="0.7"/>
<text x="199.00" y="341.58" font-size="7.0" text-anchor="end" stroke="#111" stroke-width="0.15">1000</text>
<line x1="203.80" y1="349.52" x2="206.20" y2="349.52" stroke="#111" stroke-width="0.9"/>
<line x1="204.70" y1="355.34" x2="206.20" y2="355.34" stroke="#111" stroke-width="0.7"/>
<text x="198.70" y="353.22" font-size="7.0" text-anchor="end" stroke="#111" stroke-width="0.15">800</text>
<line x1="203.80" y1="361.16" x2="206.20" y2="361.16" stroke="#111" stroke-width="0.9"/>
<line x1="204.70" y1="366.98" x2="206.20" y2="366.98" stroke="#111" stroke-width="0.7"/>
<text x="198.70" y="364.86" font-size="7.0" text-anchor="end" stroke="#111" stroke-width="0.15">600</text>
<line x1="203.80" y1="372.80" x2="206.20" y2="372.80" stroke="#111" stroke-width="0.9"/>
<line x1="204.70" y1="378.62" x2="206.20" y2="378.62" stroke="#111" stroke-width="0.7"/>
<text x="198.70" y="376.50" font-size="7.0" text-anchor="end" stroke="#111" stroke-width="0.15">400</text>
<line x1="203.80" y1="384.44" x2="206.20" y2="384.44" stroke="#111" stroke-width="0.9"/>
<line x1="204.70" y1="390.26" x2="206.20" y2="390.26" stroke="#111" stroke-width="0.7"/>
<text x="198.20" y="388.14" font-size="7.0" text-anchor="end" stroke="#111" stroke-width="0.15">200</text>
<line x1="203.80" y1="396.08" x2="206.20" y2="396.08" stroke="#111" stroke-width="0.9"/>
<line x1="204.70" y1="401.90" x2="206.20" y2="401.90" stroke="#111" stroke-width="0.7"/>
<text x="196.50" y="399.78" font-size="7.0" text-anchor="end" stroke="#111" stroke-width="0.15">0</text>
<line x1="203.80" y1="408.30" x2="206.20" y2="408.30" stroke="#111" stroke-width="0.9"/>
<text x="197.30" y="411.42" font-size="7.0" text-anchor="end" stroke="#111" stroke-width="0.15">-200</text>
<line x1="206.20" y1="408.30" x2="206.20" y2="410.70" stroke="#111" stroke-width="0.9"/>
<text x="206.50" y="419.60" font-size="7.0" text-anchor="middle" stroke="#111" stroke-width="0.15">0</text>
<line x1="220.91" y1="408.30" x2="220.91" y2="410.70" stroke="#111" stroke-width="0.9"/>
<text x="221.21" y="419.60" font-size="7.0" text-anchor="middle" stroke="#111" stroke-width="0.15">10</text>
<line x1="235.62" y1="408.30" x2="235.62" y2="410.70" stroke="#111" stroke-width="0.9"/>
<text x="235.92" y="419.60" font-size="7.0" text-anchor="middle" stroke="#111" stroke-width="0.15">20</text>
<line x1="250.33" y1="408.30" x2="250.33" y2="410.70" stroke="#111" stroke-width="0.9"/>
<text x="250.63" y="419.60" font-size="7.0" text-anchor="middle" stroke="#111" stroke-width="0.15">30</text>
<line x1="265.04" y1="408.30" x2="265.04" y2="410.70" stroke="#111" stroke-width="0.9"/>
<text x="265.34" y="419.60" font-size="7.0" text-anchor="middle" stroke="#111" stroke-width="0.15">40</text>
<line x1="279.75" y1="408.30" x2="279.75" y2="410.70" stroke="#111" stroke-width="0.9"/>
<text x="280.05" y="419.60" font-size="7.0" text-anchor="middle" stroke="#111" stroke-width="0.15">50</text>
<line x1="294.46" y1="408.30" x2="294.46" y2="410.70" stroke="#111" stroke-width="0.9"/>
<text x="294.76" y="419.60" font-size="7.0" text-anchor="middle" stroke="#111" stroke-width="0.15">60</text>
<line x1="309.17" y1="408.30" x2="309.17" y2="410.70" stroke="#111" stroke-width="0.9"/>
<text x="309.47" y="419.60" font-size="7.0" text-anchor="middle" stroke="#111" stroke-width="0.15">70</text>
<line x1="323.88" y1="408.30" x2="323.88" y2="410.70" stroke="#111" stroke-width="0.9"/>
<text x="324.18" y="419.60" font-size="7.0" text-anchor="middle" stroke="#111" stroke-width="0.15">80</text>
<line x1="338.59" y1="408.30" x2="338.59" y2="410.70" stroke="#111" stroke-width="0.9"/>
<text x="338.89" y="419.60" font-size="7.0" text-anchor="middle" stroke="#111" stroke-width="0.15">90</text>
<line x1="206.70" y1="396.00" x2="338.80" y2="396.00" stroke="#000" stroke-width="2.2" stroke-dasharray="1.7 1.6"/>
<line x1="206.20" y1="347.40" x2="338.50" y2="387.60" stroke="#111" stroke-width="1.7"/>
<circle cx="214.98" cy="333.02" r="1.85" fill="#fff" stroke="#111" stroke-width="1.25"/>
<circle cx="227.73" cy="331.38" r="1.85" fill="#fff" stroke="#111" stroke-width="1.25"/>
<circle cx="230.02" cy="367.02" r="1.85" fill="#fff" stroke="#111" stroke-width="1.25"/>
<circle cx="225.11" cy="385.98" r="1.85" fill="#fff" stroke="#111" stroke-width="1.25"/>
<circle cx="237.54" cy="358.84" r="1.85" fill="#fff" stroke="#111" stroke-width="1.25"/>
<circle cx="246.03" cy="347.73" r="1.85" fill="#fff" stroke="#111" stroke-width="1.25"/>
<circle cx="256.82" cy="364.40" r="1.85" fill="#fff" stroke="#111" stroke-width="1.25"/>
<circle cx="267.28" cy="367.34" r="1.85" fill="#fff" stroke="#111" stroke-width="1.25"/>
<circle cx="262.05" cy="340.21" r="1.85" fill="#fff" stroke="#111" stroke-width="1.25"/>
<circle cx="271.86" cy="324.52" r="1.85" fill="#fff" stroke="#111" stroke-width="1.25"/>
<circle cx="291.80" cy="333.02" r="1.85" fill="#fff" stroke="#111" stroke-width="1.25"/>
<circle cx="293.44" cy="377.15" r="1.85" fill="#fff" stroke="#111" stroke-width="1.25"/>
<circle cx="312.07" cy="359.17" r="1.85" fill="#fff" stroke="#111" stroke-width="1.25"/>
<circle cx="308.15" cy="387.61" r="1.85" fill="#fff" stroke="#111" stroke-width="1.25"/>
<circle cx="250.61" cy="388.26" r="2.80" fill="#000"/>
<circle cx="265.00" cy="394.48" r="2.80" fill="#000"/>
<circle cx="270.88" cy="393.82" r="2.80" fill="#000"/>
<circle cx="288.86" cy="370.28" r="2.80" fill="#000"/>
<circle cx="297.03" cy="349.04" r="2.80" fill="#000"/>
<circle cx="292.78" cy="394.48" r="2.80" fill="#000"/>
<circle cx="300.95" cy="393.82" r="2.80" fill="#000"/>
<circle cx="308.47" cy="379.76" r="2.80" fill="#000"/>
<circle cx="313.70" cy="389.90" r="2.80" fill="#000"/>
<circle cx="317.63" cy="384.01" r="2.80" fill="#000"/>
<circle cx="318.61" cy="377.80" r="2.80" fill="#000"/>
<circle cx="321.88" cy="380.09" r="2.80" fill="#000"/>
<circle cx="322.53" cy="384.01" r="2.80" fill="#000"/>
<circle cx="326.13" cy="395.78" r="2.80" fill="#000"/>
<circle cx="329.40" cy="393.82" r="2.80" fill="#000"/>
<text x="304.90" y="292.40" font-size="7.9" textLength="16.40" lengthAdjust="spacingAndGlyphs" stroke="#111" stroke-width="0.15">n=31</text>
<text x="304.90" y="302.10" font-size="7.7" font-style="italic" textLength="24.80" lengthAdjust="spacingAndGlyphs" stroke="#111" stroke-width="0.15">r=-0.47</text>
<text x="303.50" y="311.90" font-size="8.8" font-weight="bold" textLength="31.80" lengthAdjust="spacingAndGlyphs" stroke="#111" stroke-width="0.3"><tspan font-style="italic">P</tspan> = .008</text>
<text x="206.40" y="433.30" font-size="6.4" textLength="139.00" lengthAdjust="spacingAndGlyphs" stroke="#111" stroke-width="0.15">% Intermediate Differentiated Tax Specific CD8+</text>
<line x1="380.00" y1="314.50" x2="380.00" y2="407.40" stroke="#111" stroke-width="1.2"/>
<line x1="379.40" y1="406.80" x2="514.00" y2="406.80" stroke="#111" stroke-width="1.2"/>
<line x1="377.60" y1="314.60" x2="380.00" y2="314.60" stroke="#111" stroke-width="0.9"/>
<line x1="378.50" y1="320.38" x2="380.00" y2="320.38" stroke="#111" stroke-width="0.7"/>
<text x="373.20" y="318.30" font-size="7.0" text-anchor="end" stroke="#111" stroke-width="0.15">1400</text>
<line x1="377.60" y1="326.16" x2="380.00" y2="326.16" stroke="#111" stroke-width="0.9"/>
<line x1="378.50" y1="331.94" x2="380.00" y2="331.94" stroke="#111" stroke-width="0.7"/>
<text x="373.20" y="329.86" font-size="7.0" text-anchor="end" stroke="#111" stroke-width="0.15">1200</text>
<line x1="377.60" y1="337.72" x2="380.00" y2="337.72" stroke="#111" stroke-width="0.9"/>
<line x1="378.50" y1="343.50" x2="380.00" y2="343.50" stroke="#111" stroke-width="0.7"/>
<text x="373.20" y="341.42" font-size="7.0" text-anchor="end" stroke="#111" stroke-width="0.15">1000</text>
<line x1="377.60" y1="349.28" x2="380.00" y2="349.28" stroke="#111" stroke-width="0.9"/>
<line x1="378.50" y1="355.06" x2="380.00" y2="355.06" stroke="#111" stroke-width="0.7"/>
<text x="372.90" y="352.98" font-size="7.0" text-anchor="end" stroke="#111" stroke-width="0.15">800</text>
<line x1="377.60" y1="360.84" x2="380.00" y2="360.84" stroke="#111" stroke-width="0.9"/>
<line x1="378.50" y1="366.62" x2="380.00" y2="366.62" stroke="#111" stroke-width="0.7"/>
<text x="372.90" y="364.54" font-size="7.0" text-anchor="end" stroke="#111" stroke-width="0.15">600</text>
<line x1="377.60" y1="372.40" x2="380.00" y2="372.40" stroke="#111" stroke-width="0.9"/>
<line x1="378.50" y1="378.18" x2="380.00" y2="378.18" stroke="#111" stroke-width="0.7"/>
<text x="372.90" y="376.10" font-size="7.0" text-anchor="end" stroke="#111" stroke-width="0.15">400</text>
<line x1="377.60" y1="383.96" x2="380.00" y2="383.96" stroke="#111" stroke-width="0.9"/>
<line x1="378.50" y1="389.74" x2="380.00" y2="389.74" stroke="#111" stroke-width="0.7"/>
<text x="372.40" y="387.66" font-size="7.0" text-anchor="end" stroke="#111" stroke-width="0.15">200</text>
<line x1="377.60" y1="395.52" x2="380.00" y2="395.52" stroke="#111" stroke-width="0.9"/>
<line x1="378.50" y1="401.30" x2="380.00" y2="401.30" stroke="#111" stroke-width="0.7"/>
<text x="370.70" y="399.22" font-size="7.0" text-anchor="end" stroke="#111" stroke-width="0.15">0</text>
<line x1="377.60" y1="406.80" x2="380.00" y2="406.80" stroke="#111" stroke-width="0.9"/>
<text x="371.50" y="410.78" font-size="7.0" text-anchor="end" stroke="#111" stroke-width="0.15">-200</text>
<line x1="380.00" y1="406.80" x2="380.00" y2="409.20" stroke="#111" stroke-width="0.9"/>
<text x="380.30" y="418.20" font-size="7.0" text-anchor="middle" stroke="#111" stroke-width="0.15">10</text>
<line x1="394.82" y1="406.80" x2="394.82" y2="409.20" stroke="#111" stroke-width="0.9"/>
<text x="395.12" y="418.20" font-size="7.0" text-anchor="middle" stroke="#111" stroke-width="0.15">20</text>
<line x1="409.64" y1="406.80" x2="409.64" y2="409.20" stroke="#111" stroke-width="0.9"/>
<text x="409.94" y="418.20" font-size="7.0" text-anchor="middle" stroke="#111" stroke-width="0.15">30</text>
<line x1="424.46" y1="406.80" x2="424.46" y2="409.20" stroke="#111" stroke-width="0.9"/>
<text x="424.76" y="418.20" font-size="7.0" text-anchor="middle" stroke="#111" stroke-width="0.15">40</text>
<line x1="439.28" y1="406.80" x2="439.28" y2="409.20" stroke="#111" stroke-width="0.9"/>
<text x="439.58" y="418.20" font-size="7.0" text-anchor="middle" stroke="#111" stroke-width="0.15">50</text>
<line x1="454.10" y1="406.80" x2="454.10" y2="409.20" stroke="#111" stroke-width="0.9"/>
<text x="454.40" y="418.20" font-size="7.0" text-anchor="middle" stroke="#111" stroke-width="0.15">60</text>
<line x1="468.92" y1="406.80" x2="468.92" y2="409.20" stroke="#111" stroke-width="0.9"/>
<text x="469.22" y="418.20" font-size="7.0" text-anchor="middle" stroke="#111" stroke-width="0.15">70</text>
<line x1="483.74" y1="406.80" x2="483.74" y2="409.20" stroke="#111" stroke-width="0.9"/>
<text x="484.04" y="418.20" font-size="7.0" text-anchor="middle" stroke="#111" stroke-width="0.15">80</text>
<line x1="498.56" y1="406.80" x2="498.56" y2="409.20" stroke="#111" stroke-width="0.9"/>
<text x="498.86" y="418.20" font-size="7.0" text-anchor="middle" stroke="#111" stroke-width="0.15">90</text>
<line x1="513.38" y1="406.80" x2="513.38" y2="409.20" stroke="#111" stroke-width="0.9"/>
<text x="513.68" y="418.20" font-size="7.0" text-anchor="middle" stroke="#111" stroke-width="0.15">100</text>
<line x1="380.50" y1="395.10" x2="513.60" y2="395.10" stroke="#000" stroke-width="2.2" stroke-dasharray="1.7 1.6"/>
<line x1="380.10" y1="387.60" x2="513.40" y2="345.80" stroke="#111" stroke-width="1.7"/>
<circle cx="401.32" cy="358.84" r="1.85" fill="#fff" stroke="#111" stroke-width="1.25"/>
<circle cx="406.88" cy="386.96" r="1.85" fill="#fff" stroke="#111" stroke-width="1.25"/>
<circle cx="425.84" cy="376.17" r="1.85" fill="#fff" stroke="#111" stroke-width="1.25"/>
<circle cx="447.74" cy="324.52" r="1.85" fill="#fff" stroke="#111" stroke-width="1.25"/>
<circle cx="457.88" cy="339.88" r="1.85" fill="#fff" stroke="#111" stroke-width="1.25"/>
<circle cx="452.97" cy="366.36" r="1.85" fill="#fff" stroke="#111" stroke-width="1.25"/>
<circle cx="459.51" cy="364.40" r="1.85" fill="#fff" stroke="#111" stroke-width="1.25"/>
<circle cx="474.22" cy="347.40" r="1.85" fill="#fff" stroke="#111" stroke-width="1.25"/>
<circle cx="481.42" cy="358.52" r="1.85" fill="#fff" stroke="#111" stroke-width="1.25"/>
<circle cx="489.92" cy="366.36" r="1.85" fill="#fff" stroke="#111" stroke-width="1.25"/>
<circle cx="490.57" cy="331.06" r="1.85" fill="#fff" stroke="#111" stroke-width="1.25"/>
<circle cx="502.34" cy="333.02" r="1.85" fill="#fff" stroke="#111" stroke-width="1.25"/>
<circle cx="494.49" cy="385.00" r="1.85" fill="#fff" stroke="#111" stroke-width="1.25"/>
<circle cx="388.25" cy="393.17" r="2.80" fill="#000"/>
<circle cx="392.82" cy="394.80" r="2.80" fill="#000"/>
<circle cx="395.77" cy="382.71" r="2.80" fill="#000"/>
<circle cx="396.75" cy="379.11" r="2.80" fill="#000"/>
<circle cx="400.67" cy="377.48" r="2.80" fill="#000"/>
<circle cx="400.02" cy="382.71" r="2.80" fill="#000"/>
<circle cx="408.19" cy="379.11" r="2.80" fill="#000"/>
<circle cx="405.90" cy="389.24" r="2.80" fill="#000"/>
<circle cx="418.32" cy="392.84" r="2.80" fill="#000"/>
<circle cx="424.21" cy="393.82" r="2.80" fill="#000"/>
<circle cx="421.92" cy="349.04" r="2.80" fill="#000"/>
<circle cx="427.15" cy="333.02" r="2.80" fill="#000"/>
<circle cx="430.42" cy="369.96" r="2.80" fill="#000"/>
<circle cx="442.51" cy="393.17" r="2.80" fill="#000"/>
<circle cx="445.46" cy="393.82" r="2.80" fill="#000"/>
<circle cx="468.67" cy="387.61" r="2.80" fill="#000"/>
<text x="458.50" y="292.30" font-size="8.0" textLength="17.30" lengthAdjust="spacingAndGlyphs" stroke="#111" stroke-width="0.15">n=31</text>
<text x="458.50" y="301.90" font-size="8.0" textLength="27.80" lengthAdjust="spacingAndGlyphs" stroke="#111" stroke-width="0.15">r=+0.49</text>
<text x="457.90" y="311.60" font-size="8.8" font-weight="bold" textLength="32.30" lengthAdjust="spacingAndGlyphs" stroke="#111" stroke-width="0.3"><tspan font-style="italic">P</tspan> = .005</text>
<text x="388.00" y="433.00" font-size="6.4" textLength="118.50" lengthAdjust="spacingAndGlyphs" stroke="#111" stroke-width="0.15">%Late Differentiated Tax Specific CD8+</text>
<circle cx="464.90" cy="451.80" r="2.00" fill="#fff" stroke="#111" stroke-width="1.25"/>
<circle cx="464.70" cy="460.30" r="2.80" fill="#000"/>
<text x="469.90" y="454.80" font-size="8.6" textLength="19.40" lengthAdjust="spacingAndGlyphs" stroke="#111" stroke-width="0.15">HAM:</text>
<text x="494.90" y="454.80" font-size="7.8" textLength="17.30" lengthAdjust="spacingAndGlyphs" stroke="#111" stroke-width="0.15">n=14</text>
<text x="469.90" y="463.30" font-size="8.6" textLength="21.20" lengthAdjust="spacingAndGlyphs" stroke="#111" stroke-width="0.15">HVCs:</text>
<text x="494.90" y="463.30" font-size="7.8" textLength="17.30" lengthAdjust="spacingAndGlyphs" stroke="#111" stroke-width="0.15">n=17</text>
</g>
</svg>
</body></html>
